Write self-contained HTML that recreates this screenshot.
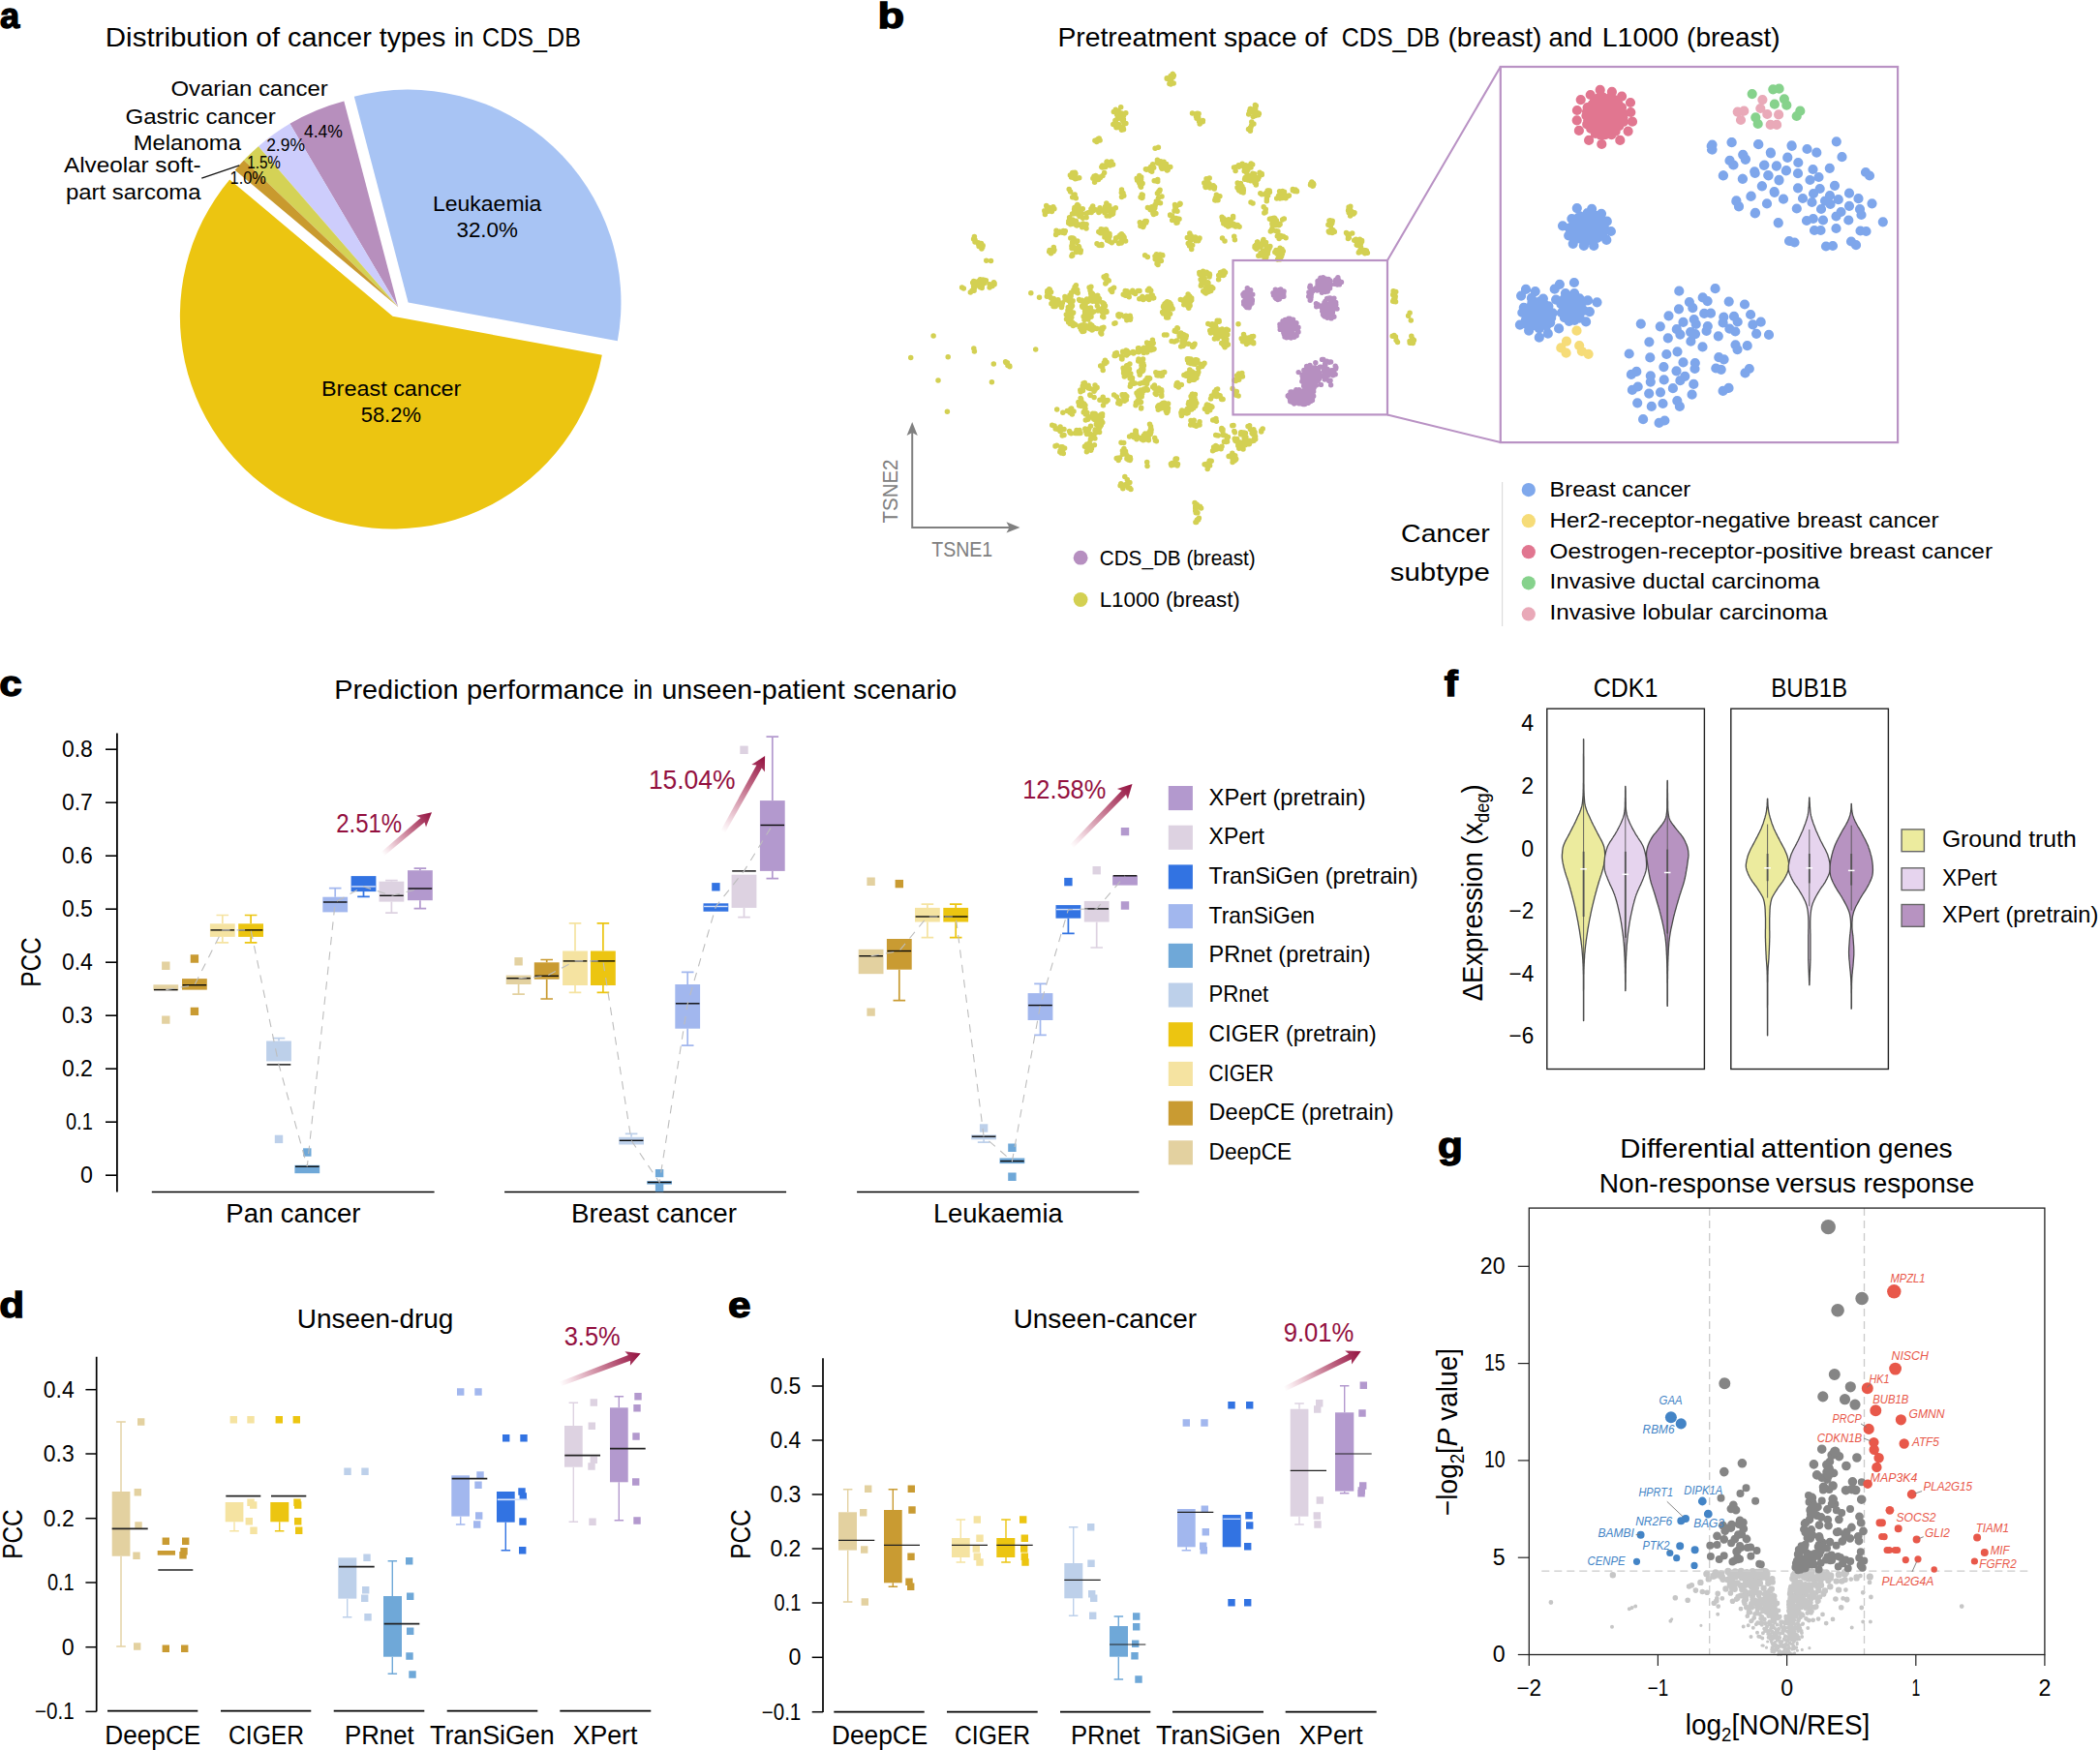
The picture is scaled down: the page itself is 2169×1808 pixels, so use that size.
<!DOCTYPE html>
<html lang="en"><head><meta charset="utf-8"><title>Figure</title>
<style>html,body{margin:0;padding:0;background:#fff}svg{display:block;font-family:'Liberation Sans', sans-serif}</style></head>
<body><svg width="2169" height="1808" viewBox="0 0 2169 1808">
<path d="M405.6 326.8L237.2 185.5A219.8 219.8 0 1 0 621.8 366.7Z" fill="#ECC511"/>
<path d="M421.6 312.4L637.8 352.3A219.8 219.8 0 0 0 365.8 99.8Z" fill="#A8C4F4"/>
<path d="M411.1 317.1L355.3 104.5A219.8 219.8 0 0 0 299.4 127.8Z" fill="#B78FBD"/>
<path d="M411.1 317.1L299.4 127.8A219.8 219.8 0 0 0 266.9 151.2Z" fill="#CDCDFC"/>
<path d="M411.1 317.1L266.9 151.2A219.8 219.8 0 0 0 251.9 165.5Z" fill="#D4D256"/>
<path d="M411.1 317.1L251.9 165.5A219.8 219.8 0 0 0 242.7 175.8Z" fill="#C99A2E"/>
<text x="0" y="29.2" font-size="37" textLength="20.2" lengthAdjust="spacingAndGlyphs" font-weight="bold" stroke="#000" stroke-width="1.3">a</text>
<text x="108.8" y="48.3" font-size="27.4" textLength="147.5" lengthAdjust="spacingAndGlyphs">Distribution</text>
<text x="264.2" y="48.3" font-size="27.4" textLength="24.9" lengthAdjust="spacingAndGlyphs">of</text>
<text x="297" y="48.3" font-size="27.4" textLength="86.8" lengthAdjust="spacingAndGlyphs">cancer</text>
<text x="391.7" y="48.3" font-size="27.4" textLength="68.6" lengthAdjust="spacingAndGlyphs">types</text>
<text x="469" y="48.3" font-size="27.4" textLength="20.5" lengthAdjust="spacingAndGlyphs">in</text>
<text x="498.1" y="48.3" font-size="27.4" textLength="101.9" lengthAdjust="spacingAndGlyphs">CDS_DB</text>
<text x="176.5" y="98.8" font-size="22.9" textLength="162.2" lengthAdjust="spacingAndGlyphs">Ovarian cancer</text>
<text x="129.4" y="128.3" font-size="22.9" textLength="155.4" lengthAdjust="spacingAndGlyphs">Gastric cancer</text>
<text x="137.7" y="154.7" font-size="22.9" textLength="111.3" lengthAdjust="spacingAndGlyphs">Melanoma</text>
<text x="66" y="178.4" font-size="22.9" textLength="141.5" lengthAdjust="spacingAndGlyphs">Alveolar soft-</text>
<text x="67.9" y="205.6" font-size="22.9" textLength="139.6" lengthAdjust="spacingAndGlyphs">part sarcoma</text>
<path d="M208.3 184.1L247.2 170.8" stroke="#111" stroke-width="1.3" fill="none" />
<text x="313.9" y="142.3" font-size="18" textLength="40" lengthAdjust="spacingAndGlyphs">4.4%</text>
<text x="275.2" y="156.4" font-size="18" textLength="39.7" lengthAdjust="spacingAndGlyphs">2.9%</text>
<text x="255.2" y="173.7" font-size="18" textLength="34.7" lengthAdjust="spacingAndGlyphs">1.5%</text>
<text x="237.6" y="190.3" font-size="18" textLength="37.3" lengthAdjust="spacingAndGlyphs">1.0%</text>
<text x="447" y="218" font-size="22.9" textLength="112.4" lengthAdjust="spacingAndGlyphs">Leukaemia</text>
<text x="471.5" y="245.2" font-size="22.9" textLength="63.4" lengthAdjust="spacingAndGlyphs">32.0%</text>
<text x="332" y="409.3" font-size="22.9" textLength="144.4" lengthAdjust="spacingAndGlyphs">Breast cancer</text>
<text x="372.7" y="436.4" font-size="22.9" textLength="62.2" lengthAdjust="spacingAndGlyphs">58.2%</text>
<text x="906.4" y="29.2" font-size="37" textLength="27.6" lengthAdjust="spacingAndGlyphs" font-weight="bold" stroke="#000" stroke-width="1.3">b</text>
<text x="1092.4" y="48.3" font-size="27.4" textLength="278.6" lengthAdjust="spacingAndGlyphs">Pretreatment space of</text>
<text x="1385.8" y="48.3" font-size="27.4" textLength="101.4" lengthAdjust="spacingAndGlyphs">CDS_DB</text>
<text x="1495.5" y="48.3" font-size="27.4" textLength="96.9" lengthAdjust="spacingAndGlyphs">(breast)</text>
<text x="1599.6" y="48.3" font-size="27.4" textLength="45.4" lengthAdjust="spacingAndGlyphs">and</text>
<text x="1654.8" y="48.3" font-size="27.4" textLength="79.1" lengthAdjust="spacingAndGlyphs">L1000</text>
<text x="1742.1" y="48.3" font-size="27.4" textLength="96.5" lengthAdjust="spacingAndGlyphs">(breast)</text>
<path d="M1207.9 86.5h0M1209.2 87.1h0M1209 85.5h0M1212.2 86h0M1209.7 82.8h0M1211.2 76.4h0M1210.7 77.4h0M1209.1 78.6h0M1208.9 84.7h0M1209.2 86.2h0M1209.7 84.2h0M1205.9 81.5h0M1206.9 81.2h0M1205.2 81.2h0M1205.2 80.8h0M1211.7 79.4h0M1211 79.1h0M1212.3 77.9h0M1211.3 76.6h0M1209.4 79h0M1162.8 116.7h0M1158.5 117.1h0M1160.4 123.2h0M1160 124.3h0M1160.1 125.4h0M1159.1 124h0M1158.5 121h0M1158 119.7h0M1157.2 117.5h0M1158.8 121.9h0M1151.9 126.5h0M1152.4 124.2h0M1151.9 124.6h0M1161.6 117.5h0M1160.7 119.1h0M1160 121.5h0M1158.8 131.1h0M1159.3 131.5h0M1160.5 133.7h0M1159.6 134h0M1150.6 128h0M1152.6 127.3h0M1151.3 128.7h0M1149.8 128.4h0M1152.4 129.9h0M1154.2 131.6h0M1155.5 128.8h0M1155.1 128.4h0M1153 131.8h0M1152.3 113.3h0M1150.3 115.6h0M1154.6 118.2h0M1155.2 122.3h0M1154.4 121.3h0M1154.9 120.9h0M1153.6 118.2h0M1156.5 120.7h0M1157 121.2h0M1162.9 127.6h0M1162 127.6h0M1161.5 126.9h0M1159.5 132.2h0M1158.5 134.3h0M1160.1 132.2h0M1157.2 132h0M1155.1 114.7h0M1157.7 110.7h0M1158 122.1h0M1158.3 121.5h0M1158.1 122h0M1237.1 117.3h0M1231.5 116.9h0M1235.4 120.3h0M1236 122.3h0M1237.8 121.8h0M1242.4 124.5h0M1239.7 126.6h0M1238.5 125.6h0M1239.2 128h0M1242.3 125.8h0M1237.8 118.1h0M1238.1 117.5h0M1237 119.3h0M1237.7 118.3h0M1235.7 117.4h0M1297.3 109.2h0M1296.4 108.4h0M1291.5 112.6h0M1294.4 115.1h0M1293.7 115.5h0M1291.7 113.1h0M1292.1 114.6h0M1291.3 112.4h0M1293 114h0M1299.8 118.7h0M1300 117h0M1300.4 117.5h0M1297.8 116.4h0M1296.9 116.6h0M1297.4 116.3h0M1298.8 116.5h0M1289.7 118h0M1293.7 115.1h0M1290.5 114.9h0M1292.6 129.7h0M1294.9 128h0M1292.8 125.9h0M1296.5 113.9h0M1294.1 112.8h0M1296.7 112.8h0M1296.8 118.9h0M1294.3 120.4h0M1296.7 119.4h0M1291.4 132.1h0M1289.5 133.5h0M1290.7 133.4h0M1291.5 133.9h0M1291.4 135.2h0M1291.8 131.9h0M1135.2 142.9h0M1132.7 146.5h0M1132.4 145.2h0M1130.9 145.2h0M1133.7 143.9h0M1136.1 145.1h0M1134.3 143.6h0M1196.4 152.2h0M1193.1 153.3h0M1143 167.4h0M1147.9 168.9h0M1143.3 166.9h0M1142.2 171.2h0M1141.6 172.1h0M1141.8 172.6h0M1138.6 173h0M1137.8 172.5h0M1138.7 170.9h0M1144 168.2h0M1146.5 170.9h0M1147.4 168.8h0M1149.6 170h0M1147.9 167.1h0M1129.9 182.4h0M1131.7 181.6h0M1132.4 182h0M1130.2 182h0M1128.9 184.2h0M1132.5 184.3h0M1132.4 185h0M1130.6 188.2h0M1132.4 185.7h0M1140.6 178.4h0M1139 181.5h0M1134 183.4h0M1136.5 183.6h0M1135.9 183.1h0M1134.6 185.5h0M1108.6 178.6h0M1110.9 179.4h0M1110 180.4h0M1110.3 178.3h0M1107.7 178.5h0M1111.8 184.5h0M1114.7 183.7h0M1110.5 184.7h0M1108.7 183.6h0M1106.5 183.1h0M1105.4 180.9h0M1108.8 182.1h0M1107.4 181.8h0M1106 180.7h0M1200.3 174.3h0M1200.1 174.3h0M1202.1 173.9h0M1202.3 173.8h0M1206.2 175.5h0M1205.5 176h0M1199.5 173.1h0M1202.7 170.6h0M1204.1 173h0M1199.1 169.9h0M1200.8 169.3h0M1201.1 170.1h0M1201 170.5h0M1199.1 169.7h0M1199.1 171.3h0M1201.6 170.4h0M1200.1 169.1h0M1199.3 169.2h0M1202.2 172.8h0M1200.6 170.8h0M1202 172.2h0M1200.3 167.2h0M1198.9 166.7h0M1202.1 167.3h0M1196 168.4h0M1195.7 166h0M1195.4 167.3h0M1195.4 165.3h0M1197.8 167.1h0M1203.9 171h0M1206.2 172.4h0M1204.6 169.6h0M1208.8 172.4h0M1188 174.7h0M1186.9 174.2h0M1189.7 177.3h0M1188.5 176.6h0M1188.7 172.3h0M1189.7 171.7h0M1191.7 173.3h0M1190.9 171.7h0M1190.7 169.8h0M1184.2 175.3h0M1187 175h0M1186.4 174.6h0M1183.4 174.7h0M1184.8 175h0M1178.5 193.2h0M1177.5 190.5h0M1177.8 192.1h0M1176.8 181.5h0M1176 183.7h0M1176.8 183.2h0M1178.6 185.4h0M1177 184.9h0M1178.7 183.1h0M1174.6 186.2h0M1174.2 184.3h0M1175.9 186.6h0M1177.6 187.7h0M1180.1 189.5h0M1179.4 190.3h0M1176.5 188.8h0M1194.9 187.2h0M1195.7 185.6h0M1195.7 187.5h0M1192.2 186.8h0M1194.6 186.7h0M1179.3 202.7h0M1178.1 203.8h0M1180 203.9h0M1179.5 204.4h0M1180.2 201.5h0M1179.7 201.9h0M1179.3 201h0M1196.4 204.7h0M1200 203.1h0M1196.9 197.7h0M1195.4 199.7h0M1198.1 196.2h0M1197.5 197.7h0M1279.7 172.3h0M1279.3 170.8h0M1281.1 171.2h0M1276.8 172.5h0M1283.1 169.2h0M1276.1 176.4h0M1274.5 173h0M1294.9 180.2h0M1294 180.9h0M1295.7 179.7h0M1294.7 180.5h0M1293.9 179.2h0M1287 185h0M1285.6 185.2h0M1286.2 183.6h0M1285.9 184h0M1288.9 185.9h0M1287.8 178.9h0M1289.2 181.2h0M1285.2 176.8h0M1287 171.6h0M1285 172.7h0M1286.7 170.7h0M1285.1 171.9h0M1291.7 186.7h0M1292.3 183.9h0M1291.3 185.6h0M1289.6 171.6h0M1291 170.8h0M1292 173h0M1290.2 171.4h0M1287.7 177.8h0M1288.8 175.5h0M1286.2 174.3h0M1295.4 182.6h0M1295.3 183.2h0M1294.1 182.4h0M1292.2 169h0M1292.2 169.8h0M1292.3 171.1h0M1293.7 170h0M1279.7 193h0M1278 193.7h0M1284.1 198.9h0M1284.3 196.8h0M1284.2 195.4h0M1279.5 192.7h0M1279.4 196.2h0M1278.6 194.5h0M1284 194.7h0M1282.9 192.6h0M1281.2 193.6h0M1281.2 192.4h0M1282.2 193.5h0M1281.9 198.2h0M1280 196.9h0M1280.6 197.3h0M1281.6 196.6h0M1281.4 189.5h0M1278.2 188.9h0M1303.2 179.5h0M1301.1 178.3h0M1303.3 180.6h0M1297.5 189.6h0M1297.3 190.9h0M1296 188.8h0M1295.9 185.5h0M1296.5 184.7h0M1296.7 185.3h0M1298.8 185.4h0M1299.9 183.2h0M1299.4 185h0M1300.2 183.1h0M1254.2 195h0M1250.7 193.3h0M1252.1 193.1h0M1249 189.7h0M1248.5 191.4h0M1249.2 193.4h0M1249.8 194h0M1249 192h0M1247.3 191.5h0M1247 192.1h0M1243.8 188.9h0M1246.2 188.5h0M1247.5 187.2h0M1245.6 188.2h0M1246.9 190h0M1249.2 184.1h0M1246 184.8h0M1254.5 193.2h0M1253.2 191.8h0M1253.8 193.3h0M1254.2 193h0M1247.4 190.8h0M1247.6 190.4h0M1244.9 192.8h0M1245.3 193.5h0M1246.9 189.5h0M1254.8 206.8h0M1255.3 206.9h0M1255.5 204.6h0M1259.9 202.8h0M1258 206.8h0M1256.4 201.2h0M1303.1 200.8h0M1306.3 200.7h0M1301.8 199.7h0M1311.4 198.4h0M1310.9 198.2h0M1311.2 196.9h0M1309.2 197h0M1310.1 196.9h0M1307 200.8h0M1309.7 202h0M1307.1 200.5h0M1307.9 199.6h0M1308.3 207.8h0M1308.4 205.4h0M1309.6 199.3h0M1307.9 199.2h0M1320.6 202.2h0M1324.7 204.5h0M1325.6 203.3h0M1323 200.9h0M1323 198.5h0M1323.2 198.6h0M1321.6 197.7h0M1324.7 197.5h0M1326.5 198.2h0M1325.9 201.5h0M1322.3 198.9h0M1324.4 201.7h0M1322.2 200.7h0M1324.1 203.2h0M1324.1 203.9h0M1326.8 200.7h0M1328 204.8h0M1331.4 202.1h0M1330.4 202.4h0M1331.2 202.3h0M1320.6 203.1h0M1318.7 204.9h0M1322.8 203.7h0M1319.7 204.4h0M1322 205h0M1337.1 197.4h0M1339.4 197.3h0M1338.2 196.5h0M1339.5 197.8h0M1335.3 196.8h0M1335.3 195.6h0M1337.1 197.4h0M1338 197.3h0M1338.1 196.1h0M1355 189.5h0M1354.9 188h0M1353.8 189.8h0M1353.5 191.1h0M1356.8 190.4h0M1356.2 192h0M1355.7 190.4h0M1355.3 191.3h0M1356.4 189.4h0M1355.8 192.3h0M1294 210.1h0M1292 209.1h0M1305.2 213.7h0M1307.1 219.3h0M1305.8 220h0M1307.3 216.2h0M1307 216.4h0M1087.8 213.8h0M1088.1 214.5h0M1088.9 215.7h0M1088.4 215.9h0M1085.8 216.9h0M1084.6 216.3h0M1084.2 215.1h0M1080.5 218h0M1087 215.2h0M1086.6 214.8h0M1079.2 219.1h0M1079.4 221.6h0M1078.8 217.8h0M1079.5 219.4h0M1083.8 214.6h0M1080.7 212.5h0M1080.8 213.1h0M1084.4 217.6h0M1086.4 218.4h0M1082.8 218.2h0M1105.6 198.1h0M1104.2 195.5h0M1107.7 203.8h0M1109.2 201.2h0M1110.1 202.3h0M1110.1 200.9h0M1109.8 203.3h0M1110.2 203.7h0M1111.3 204.8h0M1114 217h0M1114.5 220h0M1112.3 221h0M1114.3 220.2h0M1109.4 220.8h0M1109.6 216.2h0M1107.5 221.1h0M1109.4 219.6h0M1112.1 212.5h0M1114 212.7h0M1112.8 211.5h0M1116.4 220.3h0M1116 221.3h0M1114.2 220.4h0M1117.6 220.8h0M1116.3 220.9h0M1115 223.5h0M1114.6 218.4h0M1113.9 219.7h0M1118.3 215.7h0M1110 217.4h0M1111.1 217.7h0M1109.9 214.5h0M1111.1 217.6h0M1129.7 216.3h0M1131.8 216.8h0M1128.6 215.5h0M1129.4 217.5h0M1126.9 216.1h0M1123.8 219.7h0M1122.2 220.5h0M1127.2 219.6h0M1128.7 213h0M1127.9 214.5h0M1148.5 217.9h0M1149.9 218.3h0M1149.2 216.3h0M1152.3 214.8h0M1149.6 220.8h0M1146.9 221.3h0M1144 217.6h0M1146.9 217.2h0M1145.3 217.8h0M1145.9 223.1h0M1143.1 222.9h0M1142.8 210.1h0M1145.7 212.5h0M1141.6 213.4h0M1141.9 214.3h0M1142.5 217.5h0M1141.3 217.5h0M1139.5 217.6h0M1141 219.7h0M1147.7 220.7h0M1148.6 221.6h0M1147.7 221h0M1148.5 218.8h0M1148.8 220.7h0M1158.5 196h0M1158.3 198.9h0M1160 199.5h0M1158.5 203.4h0M1158.7 203.3h0M1160.8 202.2h0M1135.2 218.2h0M1136.1 214.8h0M1134.7 216.7h0M1135.9 218.6h0M1138.5 217.2h0M1134.9 219.4h0M1137.1 216.6h0M1134.9 217.6h0M1108 227h0M1103.8 228.5h0M1104.6 224.7h0M1104.7 226.7h0M1106 228.6h0M1112.2 232.9h0M1108.9 231.1h0M1106.7 231.5h0M1108.1 230.8h0M1110.2 231.5h0M1105.3 230.5h0M1103.7 230.4h0M1105.6 231.8h0M1111.5 230.6h0M1110.8 229.1h0M1111.3 228.2h0M1111.6 230h0M1109.5 228.6h0M1090.6 242.4h0M1093.6 240.5h0M1091 241.2h0M1099.4 240.7h0M1100.3 238.8h0M1097.3 240.2h0M1098.3 238.5h0M1091 238.3h0M1094.6 239.3h0M1117.7 234.8h0M1119 234h0M1122 236h0M1117.3 231.9h0M1118.7 231.1h0M1113.4 231.7h0M1115.5 232.5h0M1122.1 231.7h0M1120.8 233h0M1118.4 225.3h0M1122.1 224.7h0M1111.6 232.1h0M1111.4 232.4h0M1111.9 231.3h0M1109.1 246.5h0M1108.3 245.9h0M1109.5 250h0M1109.1 248.4h0M1107.6 250.6h0M1111.6 250.2h0M1112.9 248.9h0M1105.8 246.1h0M1107.3 246.1h0M1106.6 246h0M1139.6 237.2h0M1143 238.4h0M1141.6 238.2h0M1142.3 237h0M1148.3 250.8h0M1145.9 249.3h0M1136.6 240.8h0M1136.5 240.3h0M1134.8 239.6h0M1141.9 244.7h0M1141.7 243.6h0M1140.9 245.1h0M1142.4 244.3h0M1144.4 244.4h0M1136.6 238.8h0M1137.3 238.2h0M1137.1 239.2h0M1137.2 236.7h0M1138.3 238.6h0M1143.1 242h0M1145.3 245.8h0M1146.1 243.9h0M1146 241.8h0M1145.9 241.5h0M1133 251.8h0M1137.8 252.6h0M1134.7 253.1h0M1135.3 253.5h0M1138 253.5h0M1139.1 241h0M1142 244.1h0M1143.6 248.3h0M1158.4 241.7h0M1160 243.6h0M1159.2 243.3h0M1161.1 245.3h0M1158.5 245h0M1157.7 249.8h0M1158.3 250.8h0M1162.6 249.1h0M1158.2 251.1h0M1159.4 248.2h0M1157.8 243.1h0M1154.8 244.9h0M1156.8 242.9h0M1157.7 243.8h0M1152.5 245.9h0M1152.1 248.4h0M1155.6 251.6h0M1085.1 258.7h0M1085.5 261.7h0M1084.1 258.6h0M1083.7 259.9h0M1084.1 259.1h0M1088.1 259.8h0M1088.3 255.4h0M1088.9 258.2h0M1116 260.8h0M1116.3 258.7h0M1113.4 256.3h0M1107.7 263.9h0M1107.7 262.8h0M1106.9 264.4h0M1107 256.4h0M1107.6 255.5h0M1107.3 253.1h0M1108.9 255.2h0M1111.6 256.6h0M1110 256.9h0M1106.9 254.2h0M1111.3 258.3h0M1111.5 258.1h0M1113.4 258.1h0M1111.8 260.6h0M1111.6 259.5h0M1114.6 255.4h0M1114.1 254.6h0M1191.5 221.6h0M1193.9 220.6h0M1190.9 220.3h0M1192.2 219.4h0M1191.9 216.8h0M1190.5 215h0M1189.6 213.7h0M1193.5 211.8h0M1193.1 211.6h0M1194.3 208h0M1192.8 214.7h0M1190.6 215.1h0M1196.7 208.9h0M1198.5 209.7h0M1195.1 209.5h0M1188 215.6h0M1188.2 216.7h0M1185.4 214.4h0M1184.2 228.5h0M1182.8 228.5h0M1180.6 234.4h0M1181.2 233.2h0M1177.9 233.5h0M1180.6 233.1h0M1180.1 233.6h0M1181 230.8h0M1177.3 229.8h0M1180 230.9h0M1183.7 230.1h0M1182.6 228.8h0M1180.7 233.4h0M1181.8 231.4h0M1213.5 211.6h0M1213.8 213.5h0M1214.9 213.6h0M1214.2 214.9h0M1216 218.2h0M1214.5 216h0M1214.2 215.1h0M1213.1 217.6h0M1213 217.9h0M1219.1 210.5h0M1218.8 210.3h0M1218.5 211.3h0M1216.3 225.9h0M1218 226.2h0M1216.1 229.3h0M1216 229.9h0M1215 230.2h0M1208.7 222.5h0M1210.7 222.9h0M1208.6 221.9h0M1213.8 226.4h0M1210.7 227.5h0M1214.9 225.5h0M1264.2 227.3h0M1262.7 227.5h0M1268.9 230.2h0M1268.5 233.9h0M1270.2 230h0M1268.9 231.4h0M1263.9 225.7h0M1262.1 224.2h0M1262.6 226.3h0M1273.6 223.5h0M1269 226.7h0M1273.6 225h0M1271.2 227.3h0M1268.9 229.3h0M1267.7 230.6h0M1264.4 228.4h0M1266.2 232.5h0M1263.8 230.9h0M1272.3 232h0M1273.4 231.1h0M1272.8 232.8h0M1269.1 233.8h0M1276.5 234.1h0M1275.2 232.9h0M1276.1 232.3h0M1272.4 231h0M1271.6 232.5h0M1272.1 232.5h0M1276.1 234.1h0M1278.3 232.6h0M1280.1 234.3h0M1265 248.9h0M1262.5 246h0M1274.7 244.2h0M1275.4 247.8h0M1317.8 228.2h0M1318.3 227.7h0M1316.3 225.9h0M1316.8 226.7h0M1316.3 227.6h0M1321 232.7h0M1322.1 231.7h0M1316.8 227.7h0M1316.3 225.3h0M1316.8 225.8h0M1325.7 226.3h0M1326.3 226h0M1324.6 226.9h0M1314.7 225.6h0M1312.2 226.1h0M1311.4 226.2h0M1313.6 226.3h0M1317.8 232.8h0M1320.1 231.6h0M1319.5 230.4h0M1317.1 231.7h0M1313.3 237.8h0M1312.3 238.9h0M1314.7 238h0M1313.9 236.2h0M1314 231.7h0M1313.9 230.8h0M1320.1 242.8h0M1319.9 239h0M1318.2 238.7h0M1321.1 243.7h0M1322.9 243.6h0M1324.1 244.4h0M1321.8 244.8h0M1319.3 243.9h0M1321.1 246.5h0M1325.5 244.2h0M1328.1 245.8h0M1395.1 219.4h0M1394.6 221.7h0M1393.2 219.7h0M1392.6 217.5h0M1394.6 216.7h0M1395.9 219h0M1396 218.4h0M1399 219.7h0M1394.6 223.1h0M1397.7 219.9h0M1398 220.9h0M1394.6 221.4h0M1393.1 214h0M1393 215.7h0M1394.8 213.3h0M1376.4 239.1h0M1376 240.4h0M1372.9 239.9h0M1372.3 239.1h0M1374.3 238.8h0M1372.6 232.5h0M1373.7 232.6h0M1374.4 233.6h0M1371.9 232.2h0M1375.3 237.1h0M1374.5 228.3h0M1373 228.1h0M1373.8 227.7h0M1375.2 231h0M1376 229.2h0M1376.2 228.2h0M1375.7 230.7h0M1376.5 237.6h0M1378 238.9h0M1378.3 239.4h0M1376.9 239.7h0M1375 239.8h0M1392.8 241.8h0M1392.5 244.2h0M1392.8 241.7h0M1393.3 242.6h0M1391.8 242h0M1390.9 241h0M1390.5 240.4h0M1396.7 240.9h0M1392.4 246.6h0M1393.3 245.5h0M1404.5 247.2h0M1406.6 249.4h0M1406.6 248.5h0M1400.4 247.2h0M1398.7 248.3h0M1405.5 255.3h0M1405.5 251.8h0M1403.4 253h0M1402.1 253.5h0M1402.5 250.1h0M1401.2 253h0M1405.6 256.6h0M1408.9 258.4h0M1409.8 261.7h0M1407.1 259.8h0M1409.2 260.9h0M1411.3 259.1h0M1410.9 259.1h0M1412.4 261.3h0M1403.3 261h0M1405.2 260.2h0M1404.2 259.5h0M1307.6 264h0M1309.3 262.3h0M1309.6 254.8h0M1311.9 254.6h0M1303.7 263.3h0M1305.9 263.4h0M1306.5 261.4h0M1304.8 263.6h0M1302 261.6h0M1305.3 259.2h0M1306.1 260.2h0M1306.1 260.9h0M1304.3 258.8h0M1297.4 253.1h0M1296.7 256.2h0M1301.3 255.1h0M1299 252.4h0M1296 255.4h0M1297.7 257.2h0M1298.1 256.9h0M1308.7 258.4h0M1311 256.5h0M1308.8 258h0M1309.7 257.6h0M1309.8 259.2h0M1306.9 251.7h0M1308.3 254.9h0M1308.8 255h0M1307.6 250.6h0M1303.3 262.4h0M1302 264.1h0M1299.8 264.3h0M1301.8 262.9h0M1301.8 253.6h0M1300.9 252h0M1303.7 253.4h0M1296.1 254.3h0M1298.2 254.6h0M1298 252.8h0M1304.6 248.4h0M1304.7 249.2h0M1305 247.5h0M1307.9 265.8h0M1306.1 266.5h0M1298.6 249.9h0M1299.2 251.4h0M1299.6 252.9h0M1298.9 250.1h0M1324.5 258.8h0M1323.5 260.6h0M1323.3 261.1h0M1320.7 262.9h0M1322.9 262.4h0M1320.3 260.9h0M1320.5 263.1h0M1316.8 260.6h0M1319 262.3h0M1322.8 263h0M1323.6 264.7h0M1324.4 262.3h0M1325.3 259.5h0M1322.1 256.2h0M1324.1 257.5h0M1320.6 264.7h0M1319.6 267.9h0M1322.4 267.7h0M1322 267.6h0M1322.7 258.7h0M1320.2 259h0M1318 258.4h0M1229.7 244h0M1226.3 245.5h0M1230.7 247.6h0M1230.8 245.9h0M1228.8 241h0M1230.7 257.4h0M1228.6 254h0M1230.5 253.6h0M1231.7 253.4h0M1239 246.1h0M1238.5 246.7h0M1236.5 246.5h0M1235 248.7h0M1234.9 246.9h0M1234.9 246.9h0M1237.6 248.8h0M1234.5 244.9h0M1228.2 252.3h0M1228.7 252.4h0M1228.9 250.6h0M1227.2 251.4h0M1227.3 245.2h0M1228.1 245.9h0M1230.1 243.6h0M1230.2 244.9h0M1193 264.7h0M1194.3 263.9h0M1194.5 262.8h0M1196.1 266h0M1196.8 263.6h0M1195.5 265h0M1200.6 263.4h0M1198.8 263.4h0M1198.4 264.7h0M1195 272.6h0M1196 273.6h0M1198.2 263h0M1200.8 263.9h0M1193.2 267.8h0M1195.2 270.3h0M1198.5 269.5h0M1199.4 269.5h0M1185.3 265.5h0M1182.6 263.8h0M1010.5 250.8h0M1010.7 252.5h0M1010.9 251.4h0M1007 249.9h0M1013.9 257.1h0M1014.8 255.6h0M1015.2 253.7h0M1006.4 244.4h0M1005.6 247.1h0M1007.1 248h0M1011.3 254.4h0M1013.5 253.1h0M1011.4 252.2h0M1011.1 254.4h0M1011.1 253h0M1012.1 253.2h0M1011 253.5h0M1013.5 251.5h0M1011 253h0M1011.8 252.2h0M1018.7 269.3h0M1023.5 269.4h0M1006 291.9h0M1008.4 292.8h0M1007.3 293.2h0M1004.7 292h0M1008 292.5h0M1007.3 292.8h0M1005.4 291.6h0M1007.9 291.3h0M1010.8 290.5h0M1017.3 289.6h0M1018.4 289.8h0M1016.7 292.4h0M1015.1 289h0M1017.4 289.8h0M1006.1 300.3h0M1004.8 299.8h0M1012.5 296.7h0M1014.5 295.3h0M1014.2 297.5h0M1010.3 294.2h0M1012.3 293.4h0M1009.9 292.1h0M1013.7 292.6h0M1005.4 292.8h0M1005.5 293.6h0M1004.9 292.6h0M1005.7 290.4h0M1006.2 291.6h0M1012.4 288.8h0M1010.5 291.2h0M1007.1 296.3h0M1006.9 295.8h0M1005.6 296.1h0M1006.2 298.6h0M1006.3 296.9h0M1025 295.6h0M1024.8 295.4h0M1025.2 294.5h0M1022.1 297.1h0M1023.9 293.8h0M1022.1 293.8h0M1022.3 294.2h0M1026.5 291.8h0M1027.1 292.7h0M1027.1 293.7h0M993.6 297h0M995.3 298h0M1002.3 302h0M1004 300.3h0M1064.8 302.8h0M1073.5 307.3h0M1084.3 299.2h0M1083.7 298.8h0M1083.4 303.7h0M1081.3 306.2h0M1081.8 305h0M1081.8 300.6h0M1084.1 302.5h0M1081.7 302h0M1083.1 299.9h0M1082.7 302.7h0M1084 305h0M1083.1 304.6h0M1085.6 301.7h0M1088 314.6h0M1088 316.5h0M1085.9 313.7h0M1087.2 313.9h0M1087.8 312.8h0M1093.1 311h0M1093.8 313.5h0M1092.8 309.7h0M1091.6 312.4h0M1088.6 316.3h0M1089.4 315.7h0M1090.1 316.4h0M1091.5 315h0M1088.3 308.5h0M1085.1 307.5h0M1087 310.7h0M1109 301h0M1110 299h0M1110.3 300.3h0M1105 305.1h0M1106.6 302.2h0M1106.1 305.9h0M1104.6 307.4h0M1106.2 304.3h0M1113.2 302.7h0M1112 302h0M1112.7 299.4h0M1108.9 299.5h0M1111.4 294.7h0M1110.1 296.4h0M1126.9 296.2h0M1125.1 296.9h0M1126.6 302.9h0M1127.3 304.6h0M1126 300h0M1127.9 302.9h0M1128.7 303.9h0M1142.7 287h0M1144.6 289.4h0M1145.2 290.1h0M1143.9 289.3h0M1140.1 285.9h0M1142.7 284.8h0M1141.1 287.2h0M1142.4 292.3h0M1141.8 293.1h0M1107.5 315.9h0M1104.5 317.7h0M1106.5 317.4h0M1096.4 317.5h0M1095.1 313.7h0M1097.3 313.1h0M1096.8 315.5h0M1107.1 312.4h0M1107.9 311h0M1108.1 310.8h0M1106.5 313.4h0M1106.9 312.7h0M1101.3 309.8h0M1100.1 309.1h0M1099.9 306.5h0M1104.3 311h0M1105.7 313h0M1103.3 317.5h0M1105.4 320h0M1102.9 320.7h0M1120.8 316.9h0M1119.1 312.9h0M1121.1 314h0M1117.6 310.2h0M1114.6 309.5h0M1115.4 310.4h0M1118 317.2h0M1117.6 316.3h0M1123.6 311.6h0M1124 310.4h0M1125.3 310.7h0M1122.6 309.1h0M1125.5 310.1h0M1138.7 312.8h0M1139.4 313h0M1133.5 311.9h0M1134 310.6h0M1133.5 310.9h0M1133.3 315.9h0M1129.1 308.8h0M1131.1 311.3h0M1128.6 311.2h0M1129.3 310.8h0M1131.2 309.5h0M1126.8 306.7h0M1128 306.3h0M1130.5 306.1h0M1128.5 306.6h0M1129.7 305.3h0M1132.5 305.8h0M1130.6 305.7h0M1130.2 307.7h0M1130.4 306.9h0M1134.9 308.8h0M1134.6 307.8h0M1135.5 308.8h0M1133.7 305.3h0M1148.8 298.4h0M1150.6 297.3h0M1148 299.1h0M1147 299.6h0M1148.7 300.6h0M1148.2 299.5h0M1148.6 299.3h0M1148.6 301.5h0M1148.1 300.8h0M1162.3 305.2h0M1164.5 305.5h0M1166.2 306.7h0M1160.2 304.2h0M1164.1 302h0M1162.2 300.6h0M1165.7 302.8h0M1164 300.7h0M1175.3 300.5h0M1177 300.5h0M1172.2 302.9h0M1172.6 303.5h0M1171 302.5h0M1169.8 300.2h0M1167.6 302h0M1170.2 301.3h0M1166 302.9h0M1186.8 309.6h0M1185.1 306.6h0M1179.9 306.4h0M1176.8 308.8h0M1179.8 306.6h0M1180.7 309.5h0M1183.8 308.1h0M1180.9 309.4h0M1190.2 305h0M1189 304.9h0M1191.7 307.7h0M1191.2 307.9h0M1187.6 300.1h0M1185.4 300.1h0M1188.4 299.9h0M1188.7 300.2h0M1186.9 298.3h0M1105.1 327.9h0M1106.8 327.7h0M1103.6 327.2h0M1101.5 329.8h0M1106 332.3h0M1106 334.3h0M1107.3 332.7h0M1105.2 334.4h0M1110.7 335.5h0M1108.4 336.6h0M1109.3 334.6h0M1109.4 335.3h0M1108.6 323h0M1104.1 323.8h0M1108.2 323.6h0M1103.7 332.9h0M1106.1 334.8h0M1103.5 331.4h0M1101.3 325.1h0M1102.7 325.3h0M1104.9 325.3h0M1128.9 321.7h0M1128.3 323h0M1129.6 322h0M1123.9 330.1h0M1119.1 326.9h0M1120.6 327.1h0M1120 330.5h0M1122.9 329.4h0M1121.3 322.3h0M1120.6 324h0M1120.5 321.6h0M1125.5 324.8h0M1124.4 326h0M1123.5 326.2h0M1120.7 324h0M1121.8 321.3h0M1126.5 318.1h0M1123.5 318.5h0M1124.1 320.1h0M1124.3 326.7h0M1125.5 324.1h0M1127 327.3h0M1142.8 321.4h0M1143 322.3h0M1141.9 320.9h0M1140.9 322.6h0M1135.6 318.9h0M1134 321h0M1137.2 320.9h0M1139.8 327.8h0M1138.7 326.9h0M1140.4 313.9h0M1141.5 316.1h0M1139.6 317.7h0M1139.8 315.9h0M1139.7 320.7h0M1139 320.1h0M1138.6 322.6h0M1137.3 321h0M1140.9 322.9h0M1154.9 325.3h0M1156 326.1h0M1155 326.3h0M1155.9 326.9h0M1155.8 325.9h0M1157 325.5h0M1157.9 325.2h0M1155.6 324.7h0M1161.3 327h0M1163 326.3h0M1163.8 330.7h0M1165.1 330h0M1165 329.6h0M1164.4 327.8h0M1167.2 326.3h0M1167.4 330.2h0M1167.7 328.4h0M1125 339.2h0M1129.1 340h0M1130 339.4h0M1121.6 338h0M1119.2 339.5h0M1119.2 337.4h0M1118.5 337.3h0M1127.9 340.9h0M1128.7 340.5h0M1125.7 339.8h0M1119.9 340.8h0M1119.8 342h0M1116.9 338.7h0M1119.9 341.3h0M1119.5 342.2h0M1117.9 342.6h0M1115.3 337.9h0M1117.3 339h0M1117.2 340.1h0M1116.6 340.5h0M1125.1 337.2h0M1127.8 336.2h0M1125.7 335.8h0M1126.2 335.1h0M1125.4 336.4h0M1118.6 336.8h0M1118.3 337.4h0M1117.3 335.9h0M1119.9 336.3h0M1115.4 336.8h0M1117.6 336.4h0M1120.8 336.1h0M1119.8 335.6h0M1128 338.2h0M1132.9 339.6h0M1129.7 338.3h0M1138.5 339.6h0M1138.6 339.1h0M1138.7 340h0M1139.9 338.2h0M1136.8 343.7h0M1137.6 344.5h0M1137.7 345.1h0M1137.8 339h0M1137.6 339.4h0M1137.9 341.2h0M1150.9 334.2h0M1152 333.8h0M1210.3 317.7h0M1206.9 318.7h0M1211.2 319h0M1209 318h0M1208.5 318.9h0M1208.6 324.2h0M1206.9 322.4h0M1205.1 323.5h0M1203 314h0M1202 315.8h0M1201.7 316.6h0M1201.5 317h0M1206.6 315.6h0M1208.9 313.8h0M1207.5 315.6h0M1207.6 312.5h0M1206.9 314.7h0M1207.6 313.2h0M1204.1 313h0M1205.5 311.8h0M1205.2 313.4h0M1209.7 315.7h0M1203.1 321.8h0M1202.5 319.2h0M1205.5 323h0M1203.5 321.9h0M1205.6 324.8h0M1206.7 324.6h0M1206.4 325.8h0M1205.4 326.7h0M1206.6 327.9h0M1204.7 327.9h0M1201.6 324.1h0M1201.9 322h0M1200.6 322.4h0M1243.3 286.7h0M1244.1 288.2h0M1244 292.8h0M1242.1 292h0M1242.9 292.3h0M1240.1 288.8h0M1241.8 289.6h0M1242.8 287.7h0M1241.5 289.3h0M1241.5 289.4h0M1242.6 289.2h0M1242 289.1h0M1240.9 289.9h0M1240.4 281.8h0M1238.9 283h0M1239.3 283.5h0M1238.8 281.5h0M1242.3 284.4h0M1245.9 282.2h0M1242.6 280.2h0M1243 280.4h0M1240.8 293.8h0M1240.3 295.2h0M1240.8 294.6h0M1240.5 289.1h0M1243.2 284.5h0M1241.2 288h0M1247.6 291.8h0M1248 292.6h0M1246.9 293.4h0M1246.3 281.2h0M1249.1 286.1h0M1249.5 283.9h0M1248.3 283.7h0M1249.2 282.9h0M1243.4 288.4h0M1242.9 289.2h0M1242.4 286.5h0M1243.2 291.5h0M1243 290h0M1229.1 315.8h0M1227.8 318.3h0M1227.8 317.3h0M1226.8 316.2h0M1223.6 309.2h0M1222 309.9h0M1225.2 307.8h0M1222.5 311.1h0M1225 309.5h0M1222.9 311.5h0M1227.4 312.6h0M1222.8 314.8h0M1227.5 308.9h0M1230.7 309.9h0M1229.5 311.6h0M1225.3 313h0M1222.2 310.8h0M1219.3 309.6h0M1223.8 311.2h0M1228.1 310.2h0M1230.7 307.9h0M1228.8 310.2h0M1228.7 305.9h0M1229.6 307.3h0M1227.1 303.9h0M1244.6 301h0M1245.9 301.4h0M1249.4 300.1h0M1245.5 303.1h0M1246.8 301.9h0M1248.1 298.4h0M1247.2 300.3h0M1248.7 301.2h0M1251.4 296.6h0M1251.5 298.2h0M1251.3 297.2h0M1250.7 300.4h0M1246.2 300.3h0M1247.9 299.3h0M1245.2 297.9h0M1251.3 298.3h0M1248.2 298.2h0M1251.2 299h0M1252.8 297.8h0M1242.7 300.8h0M1244.1 302h0M1243.9 301.5h0M1258.6 288.8h0M1258.7 284.4h0M1261.3 281.3h0M1260.5 281.5h0M1261 283h0M1262.2 282.3h0M1263.2 281.7h0M1263.1 284.3h0M1264 280.1h0M1265.5 281.5h0M1264.1 283.9h0M1262.5 282.9h0M1263.4 284.4h0M1261.5 283.3h0M1260.3 284.4h0M1252 334.8h0M1250.7 335.7h0M1247.8 334.6h0M1250.4 342h0M1249.7 341.5h0M1250.5 343.9h0M1251 342.3h0M1250.3 343.3h0M1253.7 340.2h0M1254.5 341.1h0M1254.1 341.9h0M1253.5 343.2h0M1259.1 331.3h0M1259.2 332.2h0M1257.2 331.3h0M1262.3 339.9h0M1260.7 340.4h0M1258.1 342.6h0M1259.2 344.5h0M1257.6 349.7h0M1255.9 347.8h0M1254.4 350h0M1267.8 345.8h0M1264.6 344.1h0M1263.4 345.3h0M1268.4 341h0M1266.3 343.2h0M1266.9 340.3h0M1265.1 343.8h0M1266 343.1h0M1257 343.1h0M1259.6 344.8h0M1260.2 345.1h0M1255.5 344.9h0M1255.2 344.6h0M1256.9 347h0M1257.1 346.7h0M1256.9 347.1h0M1255.5 334.8h0M1255 334.8h0M1252.2 337.8h0M1253.5 341.3h0M1255.2 338.3h0M1256 338.3h0M1255.5 339.9h0M1264.2 350.6h0M1260.8 347.3h0M1261.7 354.5h0M1264 356.8h0M1263.4 356.1h0M1265.5 356.4h0M1265.6 356.4h0M1266.3 356.7h0M1264.3 357h0M1265.1 358.7h0M1266.2 352h0M1266.8 353.2h0M1265.9 349.8h0M1266.9 350.5h0M1264.5 351.8h0M1268.4 355.9h0M1264.6 354.8h0M1266.3 356.9h0M1267.3 356.8h0M1265.7 357.4h0M1215.9 339h0M1216.4 339.2h0M1215.9 338.7h0M1213.6 341.9h0M1214.7 342.5h0M1213.2 342.1h0M1213.6 341.3h0M1219.9 346.4h0M1218.2 347.5h0M1219.6 345.8h0M1218.1 346.7h0M1220.6 345.7h0M1222.7 345.8h0M1219.8 343.9h0M1224.1 348h0M1220 347.3h0M1222.1 348.2h0M1225.3 347h0M1223.5 347.4h0M1222.9 345.9h0M1223.4 348h0M1223.1 347.5h0M1224.8 349.2h0M1222.8 350.5h0M1222.8 350.3h0M1210.1 352.4h0M1212.9 352.9h0M1215.3 352h0M1221.8 357.6h0M1221.9 356.5h0M1222.6 356.6h0M1220.9 352.2h0M1219.7 357.9h0M1222.1 356.4h0M1221.2 354.5h0M1227.6 355.3h0M1225 355h0M1222.8 353.4h0M1223.4 352.8h0M1233.7 356.3h0M1234 355.3h0M1232.3 356.5h0M1231.6 358.2h0M1231.5 356.7h0M1232.5 357.8h0M1232.3 358.3h0M1205 346h0M1202.5 345.9h0M1284.5 345.5h0M1285.2 348.1h0M1288.2 353h0M1288.5 353.8h0M1288.8 354.5h0M1294.7 354.7h0M1292.3 352.9h0M1293.2 354.1h0M1294.6 353.8h0M1283.8 352.3h0M1282.2 349.8h0M1286.5 348.9h0M1283.5 352.7h0M1285.4 351.9h0M1290.5 348.8h0M1289.8 349.1h0M1290.4 350.5h0M1288.7 352.4h0M1288.4 354.2h0M1288.7 352.1h0M1292.9 349.4h0M1294.6 347.5h0M1292.6 350.2h0M1292.7 347.8h0M1287.4 355.1h0M1287.5 355.5h0M1289.5 350.6h0M1288.3 349.6h0M1288.2 351.9h0M1291.8 348.7h0M1292.5 349.4h0M1291.6 348.9h0M1279 334.8h0M1440.9 307.9h0M1441.2 306.2h0M1439.2 305.2h0M1440.4 305.3h0M1438.7 304.5h0M1441.5 311.7h0M1439.9 310.7h0M1439.8 311.4h0M1439.4 309.8h0M1438.7 311.3h0M1439.1 303h0M1441.7 301.6h0M1439.1 300.8h0M1439.3 303.8h0M1439.2 302.5h0M1454.6 326.2h0M1456.1 323.3h0M1457.3 331.1h0M1442.1 351.6h0M1443.5 353.5h0M1439.9 346.4h0M1438.2 347.3h0M1441.4 348h0M1456 352.5h0M1458.4 349.4h0M1457.8 347.2h0M1458.7 350h0M1459.9 351.1h0M1460.4 351.4h0M1459.5 353.9h0M1456.2 354.2h0M1457.9 354.2h0M1456.7 354.2h0M1459.3 354.6h0M964.1 346.9h0M940.7 369.5h0M979.2 368.8h0M1005.8 360.1h0M1006.4 363h0M1026.3 375.9h0M1038.6 373.7h0M1040.4 374.7h0M1038.9 374.6h0M1042.9 378.7h0M1042.7 378h0M1040.9 377.4h0M1069.7 360.9h0M969 392.9h0M1024.4 394.8h0M978.4 425.3h0M1183.7 360.5h0M1182.3 361.4h0M1181.6 359.3h0M1185.6 357.8h0M1180.7 361h0M1186.3 358.3h0M1187.6 357.4h0M1188.6 360.2h0M1191 361.1h0M1188.9 361.8h0M1190.6 359.4h0M1191.3 361h0M1192 360.4h0M1184.6 353.9h0M1186.2 355.7h0M1183.2 362.5h0M1184.9 363.6h0M1184.7 363.9h0M1184 363.3h0M1181.3 364.5h0M1191.2 354.4h0M1189.7 354.4h0M1188.2 354.4h0M1190.4 351.3h0M1163.7 366.9h0M1165.2 365.4h0M1163.4 364.9h0M1164.7 363.2h0M1163 361.9h0M1162.5 363.8h0M1163.8 362.2h0M1159.6 363.3h0M1151.1 367.4h0M1153.3 364.6h0M1151.8 365.2h0M1153.7 366.6h0M1152.3 367.6h0M1158.5 370.8h0M1158.5 368.1h0M1158.9 371.1h0M1159 369.9h0M1158.9 369.5h0M1140.3 374.8h0M1141.7 375h0M1139.2 382.5h0M1136.7 378h0M1138.6 379.6h0M1141.5 375.4h0M1141.4 372.2h0M1143 374.3h0M1142.2 374.3h0M1170.2 363.5h0M1171.9 363.9h0M1170.8 364.9h0M1169.2 364.2h0M1176.4 359.7h0M1176 363.7h0M1175.4 363.2h0M1175.5 359.7h0M1161.5 382.5h0M1161.7 383.2h0M1161 383.8h0M1163.4 380.8h0M1160.7 384h0M1160.4 381.3h0M1166.5 381.2h0M1164.2 383.7h0M1163.6 382h0M1164.1 384.1h0M1162 382.2h0M1162.5 385.7h0M1162.2 385.8h0M1161.7 380.3h0M1160.1 380.3h0M1163.4 381h0M1163.7 377.8h0M1166.9 376h0M1164.4 378.7h0M1163.2 379.3h0M1164.5 377.4h0M1179.7 381.9h0M1178.7 381.3h0M1179 382.5h0M1176.1 372.9h0M1175.7 373.1h0M1176 370.9h0M1177.1 373.2h0M1176.8 384.8h0M1176.4 383.7h0M1177.2 387.2h0M1177.7 385.4h0M1178.8 371.8h0M1179.7 371.9h0M1180.6 371h0M1179.7 378h0M1181.4 377.7h0M1180.7 377.5h0M1180.8 375.5h0M1178.9 377.3h0M1180.6 382.7h0M1179.9 383.4h0M1180.9 381.5h0M1169.3 393h0M1167.2 390.9h0M1170.1 396.6h0M1167.3 399.2h0M1164.9 386.4h0M1167.8 386.1h0M1163.3 386.2h0M1166.9 386h0M1163 387.8h0M1162.1 388.5h0M1160.6 385.5h0M1161.3 388.9h0M1169.1 390.6h0M1167.9 389.4h0M1169.5 390.5h0M1172.3 396h0M1167.8 396.8h0M1171.4 396.2h0M1199.8 388.2h0M1196.8 385.6h0M1196.4 386.5h0M1199.1 388.2h0M1195.1 387.3h0M1195.1 387h0M1196.1 388.1h0M1193.8 384.8h0M1194.9 387.8h0M1200.5 385.6h0M1200.4 388h0M1200.8 385.3h0M1202.7 384.6h0M1200.3 385.3h0M1187.6 391h0M1186.6 391.7h0M1187 390.6h0M1183.1 392.9h0M1185.1 394h0M1182.2 394.8h0M1183.4 393h0M1185 392.4h0M1185 390.6h0M1179.9 395.4h0M1177.4 396.2h0M1183.4 394.4h0M1184.6 396.5h0M1183.4 394.7h0M1182.2 395.8h0M1229.1 371.9h0M1230 371.1h0M1229.4 373.9h0M1229 372.2h0M1229.5 371.7h0M1229.8 375.5h0M1227.6 374.8h0M1228.4 374.6h0M1234.3 375.1h0M1234.2 375.1h0M1232.4 375.9h0M1234.3 376.3h0M1233 375.2h0M1236.8 372.3h0M1235 373.7h0M1226.5 372.1h0M1229.1 373.1h0M1230.1 373.3h0M1228 370.8h0M1226.4 370.8h0M1234.8 372.3h0M1235.8 371.7h0M1234.7 371.8h0M1232.8 391.8h0M1233.8 390.9h0M1233.1 389.4h0M1233.5 392.3h0M1235.9 390.5h0M1225.7 386h0M1225.3 388.1h0M1222.9 387.6h0M1224.9 388.2h0M1236.8 387.1h0M1237.1 386.5h0M1237.8 384.4h0M1228.9 389.4h0M1227.7 389.2h0M1230.7 389.5h0M1231.1 388.4h0M1230.5 384.8h0M1230.5 385.4h0M1229 387.4h0M1229.4 382.9h0M1228.8 383.7h0M1229.3 382.8h0M1228.8 382h0M1229.1 387.7h0M1230.6 386.3h0M1229.1 385.5h0M1229 389.5h0M1229.3 384.6h0M1231.2 392.2h0M1228.4 393.6h0M1229.7 392.6h0M1231.7 391.8h0M1230.4 389.9h0M1232.6 385h0M1233.8 385.7h0M1231.4 384h0M1233.3 385.6h0M1231.1 384.5h0M1230.9 390.2h0M1232.9 390.2h0M1231.2 386.9h0M1231.5 391h0M1232.2 389.5h0M1217.3 400h0M1215.6 397.1h0M1217.2 399h0M1220.3 397.5h0M1216.6 398.8h0M1215 397.6h0M1216.2 396.2h0M1216.2 395.5h0M1215.4 396.9h0M1214.9 398.5h0M1215.5 396.1h0M1238 380.5h0M1237.8 380.5h0M1240.5 377h0M1241.7 378.4h0M1239.7 376.2h0M1240.6 377.6h0M1242.8 376.7h0M1244 375.3h0M1240.9 377.5h0M1243.3 376.1h0M1277.7 392h0M1274.8 392.9h0M1275.5 392.4h0M1276.1 392.8h0M1282.8 385.4h0M1281.2 387.3h0M1283.4 388.9h0M1279.7 392.2h0M1276.4 393.5h0M1277.5 392.5h0M1277.6 387.9h0M1280.3 386.6h0M1279.6 385.9h0M1261.4 411.6h0M1260 409.4h0M1261.7 412.5h0M1263.1 412.4h0M1250.5 411.9h0M1253 409h0M1251.4 409.1h0M1254.5 404.7h0M1255.4 408.2h0M1256.8 406.8h0M1254.1 406.5h0M1256.6 406.6h0M1260.1 408.8h0M1259 408.8h0M1255.6 409.2h0M1256.6 409.4h0M1256.4 408h0M1256.4 402.5h0M1255.3 404.4h0M1257.6 402.1h0M1256 404.6h0M1275.6 407.3h0M1273 401.5h0M1275.9 406h0M1275.6 404.2h0M1277.3 404.6h0M1276.8 408.3h0M1279.1 408.9h0M1276.7 406.8h0M1277.1 407.8h0M1124.2 400.9h0M1124.6 400.6h0M1125.9 401.5h0M1121.4 399.3h0M1124.2 398.3h0M1124.3 400.7h0M1116.1 404.7h0M1117.4 403.1h0M1115.8 402.9h0M1118.5 403.5h0M1130 404.3h0M1129.2 402.3h0M1119 398.3h0M1118.2 399.1h0M1119.9 397.4h0M1131 397.9h0M1131.3 399.5h0M1133.1 400.6h0M1133.1 400.3h0M1131.1 402.5h0M1119.5 399.9h0M1118.4 401.9h0M1125.8 408h0M1130.1 410.6h0M1126.2 408.6h0M1119 396h0M1119.2 396.8h0M1120.3 395.6h0M1116.6 412.2h0M1117.3 415.2h0M1116.1 411.5h0M1116.2 414.1h0M1115.1 416.3h0M1116.7 418.2h0M1115.1 415.9h0M1120.1 418.1h0M1120.9 418.8h0M1119.5 416.9h0M1116.7 419.6h0M1114.4 416.4h0M1114.6 419.1h0M1116.9 417.3h0M1117.6 416.9h0M1113.9 415.4h0M1115.2 417.2h0M1139 413.6h0M1139.5 418.8h0M1142.6 415h0M1139.5 412.2h0M1141.7 413.7h0M1144.1 413.4h0M1139.2 410.3h0M1135.9 413.2h0M1141.7 413.6h0M1142 413.4h0M1141.1 413.2h0M1159.1 407.7h0M1162.1 407.8h0M1161.2 408.6h0M1159.8 407.8h0M1150.6 408.1h0M1153.3 410h0M1163.3 413h0M1161.1 410.3h0M1161.5 414.3h0M1155.7 413.7h0M1156.7 416.2h0M1154.8 416.6h0M1159.1 408.1h0M1160.7 411.1h0M1159.8 409.2h0M1163.8 409.6h0M1161 408.6h0M1156.2 415.3h0M1157.2 415.4h0M1156.7 417.3h0M1155.5 413.9h0M1177.7 408h0M1179.2 409.7h0M1175.9 404.2h0M1185.2 402.6h0M1184 401.3h0M1185.3 402.9h0M1182.4 402.8h0M1177.5 406.8h0M1174 406.1h0M1181.4 402h0M1181.3 403.7h0M1175.9 410h0M1175.3 408.4h0M1175.8 409.5h0M1175 407.7h0M1177.9 402.9h0M1177.3 404.3h0M1179.7 406.4h0M1176.3 404h0M1177.5 403.9h0M1179.6 405.7h0M1179.1 403.7h0M1196.8 401h0M1199.6 402.7h0M1199.8 404.3h0M1196 402.7h0M1194.3 407.5h0M1193.2 406.6h0M1194.9 404.5h0M1199.7 407.8h0M1199.8 409.3h0M1194.8 402.5h0M1190.7 399.8h0M1192.3 401.3h0M1192.4 398.1h0M1192 399.9h0M1173 418.8h0M1173.4 415.9h0M1176.7 416h0M1176.9 414.1h0M1174.8 414.5h0M1177.8 415.1h0M1178.5 415.4h0M1178.7 421.2h0M1178.6 422h0M1206.6 417h0M1202.7 416.3h0M1201.1 416.5h0M1204.4 422.6h0M1204.3 423.4h0M1202.1 421.2h0M1206.2 423.8h0M1205.1 426.6h0M1204.8 424.9h0M1197 418.8h0M1198.9 422h0M1196.2 419.6h0M1195.7 420.6h0M1196.3 423.3h0M1206.5 421.8h0M1206.1 424.8h0M1204.2 424.5h0M1206.1 425.1h0M1205.8 423h0M1204 421.2h0M1197.8 420.6h0M1199.4 420h0M1198.5 419.4h0M1199.7 417.4h0M1202 418.9h0M1232.8 421.5h0M1230.8 423h0M1234.7 419.4h0M1232.4 412.6h0M1230.4 413.8h0M1231.8 412.7h0M1231.3 413.1h0M1227.9 415.5h0M1227.4 417.5h0M1227.8 417.2h0M1234.4 407.4h0M1231.4 407.3h0M1232.3 407.9h0M1231.6 407.6h0M1231.3 408.6h0M1234 419h0M1232 420.6h0M1225.6 423.8h0M1226.9 422.9h0M1226.2 422.5h0M1227.7 423h0M1234.5 413.5h0M1235.8 416.6h0M1234.6 414.1h0M1232.2 415.2h0M1234 416.9h0M1233.8 410.4h0M1232.4 411h0M1232 407.3h0M1230.1 409.5h0M1232.1 410.1h0M1228.5 418.5h0M1228.9 417.9h0M1229 419.7h0M1246.1 419.2h0M1248.3 418.4h0M1246.7 418.1h0M1251.1 421h0M1251.9 420.5h0M1249.7 423.7h0M1251.1 419.8h0M1249.6 423h0M1247.6 423.8h0M1246.9 423.3h0M1248.6 424h0M1247.4 422.4h0M1244.4 422.6h0M1247.9 422.8h0M1247.7 421.7h0M1247 425.6h0M1247.1 423.1h0M1227.1 426.4h0M1226.1 427.1h0M1225.6 426.9h0M1222.3 425.4h0M1220.8 424.3h0M1220.1 427.4h0M1221.9 426.9h0M1220.4 429.6h0M1220.2 427.9h0M1222 425.4h0M1220.8 424.1h0M1220.5 426.1h0M1219.9 426.3h0M1233.2 434.2h0M1231.4 437.8h0M1233.1 438.3h0M1234.7 438.9h0M1239 435.8h0M1239 439.1h0M1230.6 436.5h0M1230 434.6h0M1233.7 439.4h0M1229.7 438.9h0M1232.2 438.9h0M1235.5 440.3h0M1232.2 439.1h0M1232.7 438.8h0M1256.4 435.3h0M1255.9 432.6h0M1254.1 433.4h0M1255.4 434.5h0M1252.7 433.9h0M1091.7 423h0M1097.8 426.3h0M1105.8 425.3h0M1107.2 427h0M1109 425h0M1107.7 426.1h0M1106.6 422.1h0M1106.9 422.9h0M1105.9 422.5h0M1107.4 427.9h0M1106.6 426.9h0M1102.3 424.4h0M1105.2 426.3h0M1124.3 430.4h0M1123.7 432.4h0M1121.3 428.1h0M1121.3 434.1h0M1125.8 431h0M1123.7 433.3h0M1129.8 433h0M1130.1 431.5h0M1127.7 430.7h0M1130.2 431h0M1130.9 428.9h0M1128.7 431.6h0M1129.7 431.5h0M1128.3 430.6h0M1131.2 427.5h0M1130.5 427.5h0M1128.7 427.2h0M1131.7 429.4h0M1121 422.5h0M1119.2 426.1h0M1122.9 426.4h0M1120.2 424.3h0M1120.1 424.8h0M1138.8 436.6h0M1137.9 434.9h0M1132.7 438h0M1134.7 436.7h0M1133.7 436.8h0M1135.9 440.8h0M1132.3 438.4h0M1130.9 433.7h0M1138.6 427.7h0M1137.4 428.8h0M1137.6 428.1h0M1136.3 429h0M1138.2 429.9h0M1137.3 439.3h0M1136.3 440.7h0M1137.3 429.7h0M1135 432h0M1135.4 433h0M1135.5 433h0M1138.5 430.1h0M1137.7 430.5h0M1136.1 431.2h0M1095.8 444.7h0M1096.5 443.7h0M1093.9 443.6h0M1095 445.4h0M1094.2 443.6h0M1092.2 443.3h0M1092.6 443.4h0M1090.2 443.1h0M1099 443.5h0M1095.1 441.1h0M1096.9 443.7h0M1089.1 440.1h0M1088.1 439.8h0M1086.7 439.2h0M1099 449.4h0M1097.2 449.9h0M1110.5 447.6h0M1112.7 447.1h0M1112 444.6h0M1111.8 447.6h0M1115 444.4h0M1113.9 447.5h0M1115.9 447.5h0M1113.5 446.7h0M1114.1 445.2h0M1105.6 447.3h0M1106.3 447.7h0M1105.2 447h0M1104.6 445.4h0M1125.6 448.1h0M1123.1 446.8h0M1123.6 446.9h0M1122.2 446.5h0M1122.6 448.6h0M1122.8 448.4h0M1120.8 443.1h0M1121.4 444.1h0M1121.2 443.9h0M1123.2 443.5h0M1126.5 440.3h0M1122.2 447.5h0M1121.3 445.1h0M1122.1 444.5h0M1124.7 443h0M1123.9 444.1h0M1130.9 453.1h0M1126.4 453.9h0M1126.9 450.6h0M1130.1 448.8h0M1133.3 446.1h0M1134.7 444.5h0M1135.6 446.4h0M1135.3 442.4h0M1134.6 446.3h0M1132.8 444.3h0M1131.8 447h0M1131.4 443.7h0M1131 444.7h0M1097.1 464.4h0M1094.8 466.9h0M1097.3 461.8h0M1095.1 465.5h0M1095.9 461.8h0M1090 460.7h0M1090 460.9h0M1091.5 460.2h0M1098.3 468.5h0M1096 468.1h0M1099.6 463h0M1098.1 464.3h0M1095.8 464.8h0M1096.4 465.4h0M1120.4 461.2h0M1122.2 459.5h0M1123.1 459.5h0M1123.3 460.8h0M1126.7 465.3h0M1122.4 466.7h0M1125 464.5h0M1125.1 457.8h0M1125.7 459.9h0M1122.7 458.9h0M1125.4 458.2h0M1130.4 459.8h0M1121.5 461.9h0M1122.7 462.6h0M1123.1 461.1h0M1121.9 461.9h0M1122.2 462.2h0M1127.4 463.6h0M1123.6 464.6h0M1125.3 464.4h0M1169.1 449.6h0M1166.6 450.9h0M1174 453.8h0M1178.4 452.4h0M1175 452h0M1173.3 445.2h0M1172.8 444.9h0M1172.8 446.5h0M1173.5 448h0M1171.2 451.7h0M1173.4 452.8h0M1174.6 451h0M1186.2 452h0M1186.1 453.2h0M1186.4 454.8h0M1184.5 452.2h0M1185.3 451.5h0M1188.2 445.7h0M1188.2 444.5h0M1187 446.4h0M1188.1 446.3h0M1188.8 446.4h0M1189.1 443.9h0M1187.2 447.2h0M1188.2 448.4h0M1186.4 447.5h0M1193.4 455.3h0M1194.4 455.8h0M1192.7 452.4h0M1188.5 440.6h0M1187.5 438.2h0M1188.6 442h0M1186 449.2h0M1184.4 448.5h0M1182.8 447.9h0M1181.3 450h0M1182.1 454.3h0M1179.4 454.1h0M1180.8 454.7h0M1158 457.3h0M1160.7 457.5h0M1274.8 445.6h0M1275.4 446.7h0M1282.7 448.3h0M1281.7 446.7h0M1272.7 439.7h0M1274 439.4h0M1281.5 448.7h0M1284.7 446.9h0M1282.6 446.8h0M1267.6 456.3h0M1266.3 456.6h0M1264.4 456.3h0M1268.4 451.6h0M1267.5 453.3h0M1262.9 445.7h0M1263 443.7h0M1261.8 444h0M1261.8 442.5h0M1263.2 449.6h0M1263.9 449.4h0M1266.1 450.2h0M1255.7 449.6h0M1256.5 449.7h0M1258.2 450h0M1294 448.6h0M1293.3 446.8h0M1293.1 447.4h0M1293.5 446.4h0M1286.4 447.6h0M1282.9 447.6h0M1289 440.5h0M1291.4 443.6h0M1290.6 439.7h0M1286.9 451.6h0M1285.2 453h0M1284.9 450.6h0M1283.3 448.7h0M1285.1 448.8h0M1290.4 455.3h0M1295.1 455.2h0M1295.3 453.4h0M1296.7 453.8h0M1293.2 455.8h0M1290.3 458.7h0M1286.5 457.7h0M1288.7 457.2h0M1287.5 456.7h0M1285.7 455.9h0M1304.2 442.9h0M1302.7 446.1h0M1302.8 444.7h0M1295.9 448.2h0M1296 448.9h0M1296.6 451.1h0M1296 446.5h0M1294.8 443.8h0M1277.7 453.5h0M1277.7 453.9h0M1275.2 453.3h0M1286.1 459.8h0M1287.2 457.8h0M1285.2 458.7h0M1285.6 458.2h0M1287.6 459.1h0M1279.8 463.2h0M1281.6 462.7h0M1284 464h0M1278.8 460.4h0M1279 460.8h0M1276.6 454.2h0M1275.9 455.2h0M1275.8 454.8h0M1277.6 454.5h0M1276.5 455.8h0M1280.8 460.5h0M1278.8 459.8h0M1281 457h0M1262 461.3h0M1261.4 462h0M1261.1 463.7h0M1256.7 464h0M1252.6 465.7h0M1254.9 464.4h0M1254.7 461.9h0M1253.6 461.9h0M1254.2 461.8h0M1257.3 461.4h0M1256.1 461.8h0M1255.7 460.5h0M1274 475.5h0M1275.1 475.9h0M1276.2 474.9h0M1276 473.3h0M1270.1 470.9h0M1272.8 468.3h0M1273.9 469.9h0M1269.1 471.6h0M1273.1 474.5h0M1276.1 474.6h0M1273 477.6h0M1276.7 474.3h0M1273 471.6h0M1274.6 473.6h0M1275.7 470.8h0M1275.3 472.8h0M1274.9 472.6h0M1161.2 467.7h0M1161.2 466.9h0M1161.9 465.9h0M1159.5 469.2h0M1162.3 468h0M1162.9 469.1h0M1162.6 468.2h0M1161.1 467h0M1161.4 465.4h0M1153.2 473.5h0M1154.8 473.3h0M1156.6 473h0M1155.2 475.4h0M1155.2 474.7h0M1159.7 466.6h0M1162.5 466.2h0M1161.7 466.1h0M1160.9 463.6h0M1159.4 465.8h0M1164.1 473.1h0M1167.6 474.2h0M1167.3 472.6h0M1163.9 473.9h0M1167.1 475.5h0M1166.4 473.9h0M1165.4 474.9h0M1166.2 474.3h0M1164 470.7h0M1184.7 477.4h0M1185 481.4h0M1210.6 478.5h0M1213.7 477.8h0M1214.3 474h0M1214 474.7h0M1215.5 474.1h0M1209.9 480.7h0M1210.8 480.4h0M1209.4 479.3h0M1213.5 480h0M1216 481.1h0M1216.5 479.5h0M1213.3 480.1h0M1213.6 479.1h0M1251.2 476.2h0M1249.3 476.1h0M1248.9 477.1h0M1249.1 479.7h0M1249.6 480.9h0M1247.2 484.4h0M1248 481.7h0M1247.9 481.7h0M1245.2 479.4h0M1245.8 480.5h0M1244.1 479.8h0M1163.7 500h0M1164.1 500.3h0M1164.5 500.4h0M1160.2 501h0M1159.5 501.6h0M1161.8 492.4h0M1164.3 495.4h0M1160.2 502.6h0M1157.1 501.8h0M1159.8 504.7h0M1158.6 500.8h0M1157.8 499.8h0M1163 500.5h0M1165 499.6h0M1166.9 498.6h0M1164.9 499h0M1165.2 499.3h0M1168 505.5h0M1166.8 503.9h0M1165.4 504h0M1167.1 504.6h0M1237 523.9h0M1237.4 522.5h0M1234.7 525h0M1235.2 529.7h0M1236.4 529.5h0M1234.7 527.8h0M1236.9 529.8h0M1234.7 522.1h0M1235.3 520.8h0M1234.7 524.1h0M1234 519.5h0M1236.2 521.3h0M1240.6 524.9h0M1239.4 523.3h0M1237.7 536.1h0M1238.4 535.2h0M1237.7 537h0M1236.3 537.2h0M1234.9 539.5h0M1236 538.7h0M1235.6 539.4h0" stroke="#D3D052" stroke-width="5.5" stroke-linecap="round" fill="none"/>
<path d="M1293 313.2h0M1284.6 311.7h0M1293.4 309.7h0M1286.4 305.1h0M1291.2 304.9h0M1291.7 299.7h0M1293.8 304.3h0M1284.7 314.3h0M1290.8 306.7h0M1286.4 316.1h0M1290.3 308.7h0M1292.6 308.6h0M1286.8 303.5h0M1288.8 315h0M1289.5 313.3h0M1290.9 315.5h0M1285.9 310.2h0M1284.5 305.8h0M1288.4 300h0M1292.2 312.1h0M1286.5 307.5h0M1287.7 317.5h0M1285.2 304.5h0M1290.1 317.7h0M1286.2 302h0M1292.1 307h0M1287.6 311.2h0M1289.1 312.1h0M1288.3 297.6h0M1288 312.9h0M1288.4 302.6h0M1288.8 304.1h0M1291.7 303.6h0M1287.8 305.6h0M1283.9 304.1h0M1293.3 311.3h0M1290.5 302.2h0M1286.3 314.7h0M1290.1 310.8h0M1285 302.7h0M1323.5 300.4h0M1322.8 298.9h0M1322.3 301.5h0M1318.2 308.4h0M1321.4 299.4h0M1319.3 306.1h0M1324.5 306.2h0M1324.2 304.9h0M1321.3 308.9h0M1320.5 302.2h0M1320.2 299.9h0M1319.8 309.5h0M1323.8 303.3h0M1317 303.8h0M1317.2 307.5h0M1317.3 299.1h0M1325.7 303.3h0M1325.9 306.3h0M1321.4 304.8h0M1322 307.5h0M1318.4 302.7h0M1325.7 304.9h0M1316.4 302.1h0M1318.6 300.8h0M1315 302.6h0M1326.1 300.9h0M1319.5 307.7h0M1315.5 305.1h0M1361.2 297h0M1363.7 291.8h0M1364.9 295h0M1365.3 302.3h0M1364 290.1h0M1361.1 292h0M1371.3 301h0M1369 290.4h0M1368 299.1h0M1374.4 294.3h0M1367.7 294.4h0M1370.5 299.9h0M1366.6 286.8h0M1373.9 290h0M1373.2 293.1h0M1371 289.1h0M1360.4 300h0M1371.8 292h0M1371.3 293.3h0M1363.9 287.3h0M1369.7 288.2h0M1364.3 299.7h0M1362.4 296.1h0M1372 295.4h0M1372.2 288.4h0M1366.6 289.8h0M1373.6 297.7h0M1361 290.4h0M1369.2 296.2h0M1359.1 297.8h0M1364.2 296.4h0M1368.8 301.5h0M1365.6 291h0M1372 299.1h0M1362.2 299.4h0M1361 293.7h0M1368.3 288.2h0M1365.8 297.7h0M1362.3 289.8h0M1370.5 294.8h0M1381 288.2h0M1382.6 289.5h0M1381.9 286.8h0M1379.2 291h0M1380.9 290.1h0M1383.4 293.9h0M1381.3 294h0M1379.7 289.3h0M1378.9 293.4h0M1385.5 291.4h0M1354.3 304.3h0M1351.9 301.9h0M1351.7 306.2h0M1353.8 308.9h0M1353.3 295.1h0M1355.7 301h0M1353.5 301.3h0M1354.1 306.7h0M1353.1 302.5h0M1352.8 296.7h0M1353.2 310.2h0M1354.2 298.3h0M1361.8 316.2h0M1361.2 314.8h0M1359.7 316.8h0M1359.4 313.6h0M1369.2 320.8h0M1379.8 314.7h0M1367.2 326.1h0M1372.3 308.2h0M1375 328.9h0M1368.9 311.3h0M1371.4 313.8h0M1376.8 317.1h0M1376.9 319.9h0M1370.9 315.3h0M1377.9 308.1h0M1373 321h0M1374.9 310.9h0M1374.2 323.7h0M1371.3 320.8h0M1374.9 308.7h0M1365.7 319.1h0M1368.3 315.1h0M1372.3 326.1h0M1374.9 319.3h0M1365.9 315.6h0M1369.3 316.8h0M1376.4 323.1h0M1365.7 321.6h0M1381 319.1h0M1368.3 327.1h0M1378.4 314.5h0M1367.9 312.8h0M1376.2 312.4h0M1379.2 316.9h0M1379.7 312.5h0M1366.5 325h0M1370.6 308.5h0M1368.8 322.7h0M1370.2 325.5h0M1369.4 324.1h0M1373.8 313.6h0M1375.9 325.6h0M1367.6 318.9h0M1370.3 319.4h0M1370 318.2h0M1373.9 307.9h0M1375.6 317.9h0M1374.5 312.5h0M1375.8 327.3h0M1376.8 315h0M1377.9 327.2h0M1373.9 315.9h0M1371 328.2h0M1368.2 324.6h0M1333.4 349.1h0M1322.1 337.5h0M1330 331.4h0M1332.2 340h0M1339.3 340.6h0M1325.8 343.8h0M1334.3 343.2h0M1338.1 339.9h0M1327 348h0M1339.2 346.8h0M1327.3 330.4h0M1333.4 335.3h0M1330.5 340.4h0M1325.7 335.9h0M1325.8 334.2h0M1332.2 329.2h0M1336.6 334.8h0M1328.8 348.8h0M1325.9 337.9h0M1339.6 338.4h0M1325 331.6h0M1322.2 340.4h0M1336.4 336.5h0M1327.1 340h0M1326.3 331.9h0M1334.6 331.9h0M1332.5 344h0M1328.3 336.2h0M1337 346.9h0M1341 342.9h0M1336.8 339.2h0M1321.9 335.1h0M1329.6 333.3h0M1335.1 340.3h0M1328.9 344.4h0M1335.6 330.1h0M1341 338.3h0M1334.8 337.3h0M1332.2 335.7h0M1339 333.7h0M1330.9 345.7h0M1332.1 348.6h0M1336.8 348.3h0M1326.4 345.5h0M1333.5 330.2h0M1330.4 348.2h0M1329.6 346.2h0M1328.9 340.9h0M1340.3 339.7h0M1333.3 346.4h0M1338.7 345.4h0M1333.6 338.9h0M1327.6 342h0M1330.8 333.9h0M1330.8 329.1h0M1338.4 406.6h0M1345.1 403.9h0M1342 416.9h0M1353.4 408.5h0M1334.2 415.2h0M1340.6 407h0M1353.2 407.1h0M1340.1 405.4h0M1351.3 416.2h0M1355.6 411.1h0M1339.1 411.9h0M1347.8 417.5h0M1337.2 410.7h0M1349.3 415.2h0M1338.2 416.2h0M1346.9 408.7h0M1353.9 409.8h0M1355.2 406.9h0M1335 410.9h0M1330.2 409h0M1340.6 415.6h0M1331.4 410.3h0M1332.5 413.2h0M1345.4 414.5h0M1350.2 413.8h0M1339.6 414.4h0M1342.3 403.8h0M1348.3 413.8h0M1348.8 410.8h0M1341.4 412.7h0M1343.7 408.7h0M1344.9 410.9h0M1338.8 402.6h0M1341.7 414h0M1333.5 410.6h0M1350.9 412.2h0M1351.5 413.7h0M1340.7 410.1h0M1351.8 404.3h0M1336.6 407.7h0M1334.8 407.2h0M1350.9 406.5h0M1355.5 413.6h0M1341.4 408.9h0M1345.8 409.6h0M1353.9 414.5h0M1333.8 411.9h0M1336.7 417h0M1333 404.9h0M1339.5 403.7h0M1333.5 407.6h0M1344.6 407h0M1336.5 411.8h0M1348.5 412.1h0M1356.7 409.3h0M1345.7 417.6h0M1335.7 405.5h0M1345.6 405.5h0M1336.7 413.6h0M1334.5 404.9h0M1349.4 404.5h0M1348 407.7h0M1342.5 411.3h0M1337.9 408.5h0M1342.2 415.6h0M1350.2 409.8h0M1348.4 409.2h0M1341.8 402.6h0M1352.6 410.9h0M1331.2 408.1h0M1335.3 413h0M1344.2 414h0M1343.8 404.7h0M1347.7 402.7h0M1341.6 405.8h0M1349.4 408h0M1343.6 416.9h0M1332.7 414.7h0M1346.9 406.8h0M1342.9 414.4h0M1353.4 398.9h0M1345.6 392.9h0M1357.9 386h0M1348.8 390.2h0M1352.4 383.9h0M1359.5 398h0M1353 381.9h0M1358.1 397.7h0M1345.5 391.3h0M1361.4 393h0M1345.9 386.9h0M1358.5 395.5h0M1353 377.5h0M1347.7 389.6h0M1352.9 403.1h0M1359.8 382.3h0M1349.8 396.6h0M1360 393.8h0M1348.7 402.8h0M1358.8 380.3h0M1357.7 388h0M1357.5 383.6h0M1349.3 401.3h0M1346.6 398.8h0M1357.1 400.7h0M1346.8 396.6h0M1347.1 385h0M1351.5 406.3h0M1361.2 384.3h0M1354.7 390.9h0M1356.9 380h0M1350 393.9h0M1353.8 397.1h0M1347.7 401.8h0M1361.5 385.7h0M1352.4 405h0M1355.8 386.3h0M1350.4 398.4h0M1351.2 385.9h0M1352.5 397.7h0M1354 406.4h0M1349 405.1h0M1354.3 384.1h0M1361.2 389.6h0M1362.4 391.4h0M1355.4 385h0M1347.4 392.6h0M1353.9 400.7h0M1351 387.2h0M1350.2 390.7h0M1357.3 391.1h0M1354.5 394.5h0M1352.6 390.2h0M1350.3 382.5h0M1352.1 393.4h0M1355.8 393h0M1345 388.1h0M1356.7 404.5h0M1348.9 395.6h0M1350.1 402.7h0M1359.7 387.6h0M1348.7 386.1h0M1344.8 394.1h0M1350.4 380h0M1348.7 393.1h0M1353.4 393.4h0M1357.9 393.4h0M1347.6 393.8h0M1352 380.4h0M1350.8 384.4h0M1359.7 391.4h0M1346.8 382.5h0M1352.4 400.1h0M1356 383.4h0M1349.6 378.5h0M1356 398h0M1352.1 401.9h0M1353 387.2h0M1351.7 391.2h0M1356.2 389.7h0M1362.5 385.3h0M1374.1 393.1h0M1374.6 373.9h0M1368.6 390.7h0M1375.4 382.8h0M1379.2 378.3h0M1367.4 389.5h0M1369.2 374.4h0M1372.6 385.2h0M1368.9 377.6h0M1373.1 374.2h0M1379.6 381.1h0M1372.7 393.4h0M1368 387.1h0M1371.1 381.4h0M1373.3 387h0M1364.6 379.1h0M1367.3 383.8h0M1369.2 381.1h0M1365.9 388.5h0M1368.6 375.8h0M1376.8 387.7h0M1373.9 384.9h0M1379.9 379.7h0M1368.2 392.1h0M1361.6 381.6h0M1371.6 388.1h0M1363.2 379.3h0M1375.2 385.9h0M1370.5 373.3h0M1378.1 382.2h0M1379.2 386.8h0M1369.9 383.5h0M1370.2 389.4h0M1341.2 384.6h0M1374.6 397.8h0M1364.4 397.4h0M1358.8 374.8h0M1366.9 371.4h0M1365.5 371.4h0" stroke="#B68FC0" stroke-width="5.4" stroke-linecap="round" fill="none"/>
<path d="M1433 269L1549.8 69M1433 428.4L1549.8 457.1" stroke="#B992C4" stroke-width="2.1" fill="none"/>
<rect x="1273.5" y="269" width="159.5" height="159.4" fill="none" stroke="#B992C4" stroke-width="2.2"/>
<rect x="1549.8" y="69" width="410.3" height="388.1" fill="#fff" stroke="#B992C4" stroke-width="2.2"/>
<path d="M1652.7 92.9h0M1664.9 94.9h0M1642.7 98h0M1675.1 99.6h0M1632.7 103.1h0M1684 106h0M1628.9 114h0M1684.3 116h0M1628.7 124.3h0M1686 125.7h0M1630.9 134.9h0M1681.6 135.6h0M1641.1 144.9h0M1673.3 144.9h0M1654.3 148.9h0M1676.5 121.7h0M1666.2 110.7h0M1670.3 110.9h0M1672.8 126.1h0M1653.2 105.9h0M1655.9 120.3h0M1655.8 100.6h0M1643.2 133h0M1672.2 130.2h0M1671.2 106.9h0M1659 114.8h0M1653.1 135.2h0M1648.1 113.9h0M1650.8 121.5h0M1671.2 120.6h0M1665.4 127.9h0M1662.7 101.3h0M1667.2 103h0M1657.5 110.6h0M1647.5 126.5h0M1639 115.3h0M1665.7 118.2h0M1656.5 132.7h0M1643.4 112.4h0M1658.8 126.6h0M1672.7 116.5h0M1660.2 104.6h0M1668.6 135.7h0M1661.9 135.4h0M1648.8 107.4h0M1647.8 137.8h0M1660.3 121h0M1653.6 124.7h0M1663.9 122.9h0M1638.4 119.5h0M1661 130.3h0M1644.2 117.4h0M1643.3 129h0M1653.5 139.8h0M1645.2 121.5h0M1658 139.1h0M1648.1 130.5h0M1640.2 124.2h0M1663.4 114.1h0M1653.8 116.5h0M1652.2 130.2h0M1669.1 124.3h0M1661.6 109.7h0M1644.7 107.9h0M1667.9 114.8h0M1675 111.1h0M1652.5 112h0M1676.7 117.3h0M1639.2 128.4h0M1668.1 131.2h0M1647 103.7h0M1650.7 101.5h0M1664.5 139.1h0M1665.3 106.8h0M1648.2 118.4h0M1639.6 111.2h0M1676.8 126h0" stroke="#E17690" stroke-width="10.2" stroke-linecap="round" fill="none"/>
<path d="M1628.8 215.1h0M1644.1 215.9h0M1654 220.8h0M1623.4 226h0M1659.8 228.7h0M1614 233.3h0M1663.9 239h0M1620.2 243.3h0M1659.3 247.9h0M1624.7 251.8h0M1635.9 253.9h0M1646.2 253.9h0M1571.1 305.6h0M1576 298.9h0M1585.7 301.1h0M1581.9 307.9h0M1593.9 308.5h0M1605.7 298.7h0M1610.9 293.8h0M1625.9 292h0M1616.9 303.1h0M1626.1 303.1h0M1607.1 309.6h0M1640 310.3h0M1649.5 312.3h0M1641.9 322.1h0M1638.1 332.4h0M1620.7 331.8h0M1610.1 339.4h0M1569.9 335.6h0M1579.1 341.6h0M1589.8 348.7h0M1598.8 344.7h0M1646.8 231.4h0M1629.1 229.4h0M1625.2 226.4h0M1656.7 233.3h0M1639.6 220.2h0M1641 238h0M1653 239.7h0M1626.1 243.5h0M1634.4 237.3h0M1644.8 243.8h0M1653.9 228.7h0M1643 249h0M1638.1 232.2h0M1642.7 233.7h0M1644.6 226.2h0M1622.6 239.9h0M1630 246.1h0M1631.6 223.3h0M1624.9 232.2h0M1649 223h0M1628.9 235.9h0M1638.9 246.3h0M1647.5 237.6h0M1639.2 226.1h0M1634.7 227.6h0M1635.7 242.4h0M1651.7 233.3h0M1633.1 232.2h0M1657.9 238.3h0M1634.5 247.8h0M1631 241.1h0M1649.8 246h0M1644.4 221.3h0M1655 244h0M1620.9 235.6h0M1649.4 227.6h0M1590.5 311.3h0M1591.3 334.6h0M1586 321.8h0M1594.9 314.1h0M1589.9 339.5h0M1582.4 312.2h0M1591.9 318.8h0M1582.5 336.6h0M1579.8 326.1h0M1579.8 317.7h0M1597.3 336.5h0M1575.9 330.5h0M1602.2 328.3h0M1598.9 321.6h0M1592 326.5h0M1584.1 328.9h0M1573.8 317.8h0M1572.3 323h0M1597.1 328.9h0M1599.4 316.4h0M1577.4 335.3h0M1585.9 316.4h0M1603.6 323.4h0M1601.2 333.3h0M1631.4 308.3h0M1625.6 306.2h0M1615.3 309.1h0M1627.4 313.8h0M1618.6 323.7h0M1620.6 330.6h0M1629 323.4h0M1622.7 310.8h0M1632.7 316.4h0M1624.9 320.1h0M1616.3 317.7h0M1613 323.2h0M1626.3 330.9h0M1635.8 320.9h0M1618.8 305.2h0M1631.7 328.7h0M1623.7 325.9h0M1612.4 314.2h0M1621.5 316.1h0M1635.6 311.4h0M1615.9 328.2h0M1768.5 149.5h0M1768 154.5h0M1788.7 147.2h0M1816.3 149.2h0M1850.5 150.3h0M1866.5 154h0M1876.3 157.7h0M1896.8 146.3h0M1902.5 162.2h0M1800.2 159.8h0M1803 164.5h0M1786.5 166h0M1790.5 170.5h0M1829 158.3h0M1846.3 162.5h0M1857.3 168h0M1822 170.8h0M1835 171.3h0M1844.8 176.5h0M1857 179.2h0M1872.5 175h0M1889.8 173.8h0M1780 181.3h0M1800 184.8h0M1812.7 179h0M1826.6 181.3h0M1837.5 186.3h0M1878.5 183h0M1869.5 186h0M1927 178h0M1931 181.5h0M1820 192.3h0M1832.8 198.8h0M1857 194.3h0M1879.7 195h0M1873 200h0M1895 191.8h0M1910 199.7h0M1919.5 205.2h0M1808.7 202.7h0M1793.3 208h0M1796 213.5h0M1825 210.3h0M1842 205.7h0M1862 205h0M1871.5 209h0M1890 202h0M1885 207.5h0M1890.5 211h0M1898.8 206.2h0M1933.5 210.3h0M1812.7 220.5h0M1855.8 215.5h0M1881 216h0M1910 212.8h0M1921 216.2h0M1922.5 222h0M1901.5 219h0M1896.5 223.5h0M1836.8 230.3h0M1866 228h0M1872.8 226h0M1883 227.5h0M1909.3 227.5h0M1944.8 229.3h0M1874 238h0M1880.5 238h0M1896.5 236h0M1921.5 238.5h0M1927.5 239h0M1848 249h0M1853.5 250.5h0M1886 254.5h0M1893 254h0M1912 249.5h0M1917 253.2h0M1767.7 150.9h0M1768.5 154.6h0M1788.5 147.1h0M1816 149h0M1800.5 160.3h0M1802.8 164.8h0M1786.6 165.9h0M1790.3 170.5h0M1779.8 181.4h0M1799.8 184.8h0M1812.2 177.3h0M1828.8 157.6h0M1822.4 170.5h0M1826.2 181h0M1819.8 192.3h0M1808.4 202.9h0M1793.4 207.4h0M1796 213.1h0M1813 219.9h0M1825 210.4h0M1832.6 198h0M1837.5 185.9h0M1834.8 171.6h0M1846.2 162.9h0M1850.7 150.9h0M1845 176.1h0M1842 205.5h0M1836.7 230.1h0M1734.3 300.7h0M1771.6 298.2h0M1785.7 311.6h0M1802 314.5h0M1758.7 307.4h0M1763.6 311.1h0M1744.9 312.1h0M1748.3 318.2h0M1734 319.3h0M1760.2 323.9h0M1767 323.7h0M1808.1 325h0M1723.5 326.3h0M1694.8 334.6h0M1714.8 337.3h0M1738.5 332.9h0M1749.7 330h0M1751.7 334.9h0M1763.8 337h0M1762.6 341.9h0M1780.3 327.6h0M1779.6 333.4h0M1791 326.9h0M1794.7 332.5h0M1786.4 339.7h0M1792.3 342.5h0M1810.4 335.4h0M1818.7 332.7h0M1731.8 340.2h0M1735.4 345.6h0M1722.8 349.3h0M1746.1 343.1h0M1751 345.1h0M1746.4 352.7h0M1774.8 347.3h0M1814.1 344.8h0M1827 345.9h0M1703.4 353.3h0M1758.5 358.4h0M1792.5 356.3h0M1794.5 361.1h0M1804.7 357.2h0M1682.7 365.5h0M1704.3 369.4h0M1721.3 366h0M1732.5 363.3h0M1775.3 369.2h0M1780.6 371.3h0M1738.5 374.4h0M1750.8 375h0M1750.5 381h0M1718.4 379.1h0M1731.5 383.3h0M1772.3 380.5h0M1777.7 381.8h0M1806.8 381h0M1802.5 385.4h0M1690.3 383.9h0M1684.9 386.9h0M1704.8 388.3h0M1704.8 394.6h0M1718.7 392.4h0M1740.3 388.8h0M1735.4 393.2h0M1749.3 396.9h0M1691.7 399.5h0M1685.9 402.9h0M1703.2 406.6h0M1715 405.3h0M1727.9 401.2h0M1747.6 407.7h0M1785.5 400.9h0M1779.6 403.9h0M1691.2 416.3h0M1705.8 419.9h0M1717.5 417h0M1732.3 414.1h0M1734.9 419.9h0M1697.1 433.2h0M1719.4 434.5h0M1713.6 436.9h0" stroke="#7EA6EB" stroke-width="10.2" stroke-linecap="round" fill="none"/>
<path d="M1809.7 97.1h0M1831.3 92.3h0M1837.6 91.7h0M1842.9 102.3h0M1832.9 107.7h0M1845.3 108.7h0M1859.3 114.7h0M1855.7 120h0M1813.3 121.3h0M1815.7 128h0" stroke="#86D28C" stroke-width="10.2" stroke-linecap="round" fill="none"/>
<path d="M1820.4 103.1h0M1818.3 112h0M1825.3 118h0M1837.1 118.4h0M1794.7 115.6h0M1801.3 114.7h0M1798 124h0M1828.7 128.9h0M1835.1 128.9h0" stroke="#E9A9B8" stroke-width="10.2" stroke-linecap="round" fill="none"/>
<path d="M1628.5 341.7h0M1618 352.6h0M1612.3 359.4h0M1617.6 364.7h0M1631.2 357.2h0M1633.8 362.8h0M1640.6 365.8h0" stroke="#F6DC78" stroke-width="10.2" stroke-linecap="round" fill="none"/>
<path d="M942.2 444V544.9H1045" stroke="#808080" stroke-width="2" fill="none"/>
<path d="M942.2 436l-5.6 14l5.6 -3l5.6 3z" fill="#808080"/>
<path d="M1053.5 544.9l-14 -5.6l3 5.6l-3 5.6z" fill="#808080"/>
<text x="927" y="540.5" font-size="22.9" textLength="66" lengthAdjust="spacingAndGlyphs" fill="#808080" transform="rotate(-90 927 540.5)">TSNE2</text>
<text x="962.2" y="575" font-size="22.9" textLength="63" lengthAdjust="spacingAndGlyphs" fill="#808080">TSNE1</text>
<path d="M1116.1 576.2h0" stroke="#B68FC0" stroke-width="14.8" stroke-linecap="round" fill="none"/>
<path d="M1116.1 619.5h0" stroke="#D3D052" stroke-width="14.8" stroke-linecap="round" fill="none"/>
<text x="1135.7" y="583.7" font-size="22.9" textLength="161" lengthAdjust="spacingAndGlyphs">CDS_DB (breast)</text>
<text x="1135.7" y="626.7" font-size="22.9" textLength="145.1" lengthAdjust="spacingAndGlyphs">L1000 (breast)</text>
<text x="1538.8" y="560" font-size="26.3" text-anchor="end" textLength="91.7" lengthAdjust="spacingAndGlyphs">Cancer</text>
<text x="1538.8" y="600.4" font-size="26.3" text-anchor="end" textLength="103" lengthAdjust="spacingAndGlyphs">subtype</text>
<path d="M1551.6 498L1551.6 647" stroke="#ddd" stroke-width="1.2" fill="none" />
<path d="M1578.8 506.1h0" stroke="#7FA8EC" stroke-width="14.2" stroke-linecap="round" fill="none"/>
<text x="1600.6" y="512.9" font-size="22.9" textLength="145.6" lengthAdjust="spacingAndGlyphs">Breast cancer</text>
<path d="M1578.8 538.2h0" stroke="#F6DC78" stroke-width="14.2" stroke-linecap="round" fill="none"/>
<text x="1600.6" y="545" font-size="22.9" textLength="402" lengthAdjust="spacingAndGlyphs">Her2-receptor-negative breast cancer</text>
<path d="M1578.8 570.2h0" stroke="#E17690" stroke-width="14.2" stroke-linecap="round" fill="none"/>
<text x="1600.6" y="577" font-size="22.9" textLength="457.5" lengthAdjust="spacingAndGlyphs">Oestrogen-receptor-positive breast cancer</text>
<path d="M1578.8 602.3h0" stroke="#86D28C" stroke-width="14.2" stroke-linecap="round" fill="none"/>
<text x="1600.6" y="608.3" font-size="22.9" textLength="279" lengthAdjust="spacingAndGlyphs">Invasive ductal carcinoma</text>
<path d="M1578.8 634.4h0" stroke="#E9A9B8" stroke-width="14.2" stroke-linecap="round" fill="none"/>
<text x="1600.6" y="640" font-size="22.9" textLength="287" lengthAdjust="spacingAndGlyphs">Invasive lobular carcinoma</text>
<text x="-0.8" y="718.5" font-size="37" textLength="23.5" lengthAdjust="spacingAndGlyphs" font-weight="bold" stroke="#000" stroke-width="1.3">c</text>
<text x="345.2" y="721.8" font-size="27.4" textLength="128.4" lengthAdjust="spacingAndGlyphs">Prediction</text>
<text x="482" y="721.8" font-size="27.4" textLength="162.6" lengthAdjust="spacingAndGlyphs">performance</text>
<text x="653.9" y="721.8" font-size="27.4" textLength="20.2" lengthAdjust="spacingAndGlyphs">in</text>
<text x="683.4" y="721.8" font-size="27.4" textLength="189.2" lengthAdjust="spacingAndGlyphs">unseen-patient</text>
<text x="881.3" y="721.8" font-size="27.4" textLength="106.9" lengthAdjust="spacingAndGlyphs">scenario</text>
<path d="M120.9 757.4L120.9 1231.6" stroke="#000" stroke-width="1.8" fill="none" />
<path d="M109 1214.2L120.9 1214.2" stroke="#000" stroke-width="1.6" fill="none" />
<text x="95.8" y="1222" font-size="23.4" text-anchor="end" textLength="12.9" lengthAdjust="spacingAndGlyphs">0</text>
<path d="M109 1159.2L120.9 1159.2" stroke="#000" stroke-width="1.6" fill="none" />
<text x="95.8" y="1167" font-size="23.4" text-anchor="end" textLength="27.8" lengthAdjust="spacingAndGlyphs">0.1</text>
<path d="M109 1104.2L120.9 1104.2" stroke="#000" stroke-width="1.6" fill="none" />
<text x="95.8" y="1112" font-size="23.4" text-anchor="end" textLength="31.9" lengthAdjust="spacingAndGlyphs">0.2</text>
<path d="M109 1049.2L120.9 1049.2" stroke="#000" stroke-width="1.6" fill="none" />
<text x="95.8" y="1057" font-size="23.4" text-anchor="end" textLength="31.9" lengthAdjust="spacingAndGlyphs">0.3</text>
<path d="M109 994.2L120.9 994.2" stroke="#000" stroke-width="1.6" fill="none" />
<text x="95.8" y="1002" font-size="23.4" text-anchor="end" textLength="31.9" lengthAdjust="spacingAndGlyphs">0.4</text>
<path d="M109 939.2L120.9 939.2" stroke="#000" stroke-width="1.6" fill="none" />
<text x="95.8" y="947" font-size="23.4" text-anchor="end" textLength="31.9" lengthAdjust="spacingAndGlyphs">0.5</text>
<path d="M109 884.2L120.9 884.2" stroke="#000" stroke-width="1.6" fill="none" />
<text x="95.8" y="892" font-size="23.4" text-anchor="end" textLength="31.9" lengthAdjust="spacingAndGlyphs">0.6</text>
<path d="M109 829.2L120.9 829.2" stroke="#000" stroke-width="1.6" fill="none" />
<text x="95.8" y="837" font-size="23.4" text-anchor="end" textLength="31.9" lengthAdjust="spacingAndGlyphs">0.7</text>
<path d="M109 774.2L120.9 774.2" stroke="#000" stroke-width="1.6" fill="none" />
<text x="95.8" y="782" font-size="23.4" text-anchor="end" textLength="31.9" lengthAdjust="spacingAndGlyphs">0.8</text>
<text x="42.4" y="994" font-size="29.3" text-anchor="middle" textLength="51.5" lengthAdjust="spacingAndGlyphs" transform="rotate(-90 42.4 994)">PCC</text>
<path d="M156.8 1231.5L448.6 1231.5" stroke="#000" stroke-width="1.7" fill="none" />
<text x="233.3" y="1262.8" font-size="27" textLength="139.1" lengthAdjust="spacingAndGlyphs">Pan cancer</text>
<rect x="158.4" y="1017.3" width="25.8" height="5.9" fill="#E3D1A0" />
<path d="M171.3 997.8h0M171.3 1053.6h0" stroke="#E3D1A0" stroke-width="8.4" stroke-linecap="square" fill="none"/>
<path d="M159 1022.6L183.6 1022.6" stroke="#0a0a0a" stroke-width="1.4" fill="none" />
<rect x="188" y="1011.1" width="25.8" height="11.5" fill="#C99B32" />
<path d="M200.9 990.5h0M200.9 1044.9h0" stroke="#C99B32" stroke-width="8.4" stroke-linecap="square" fill="none"/>
<path d="M188.6 1017.7L213.2 1017.7" stroke="#0a0a0a" stroke-width="1.4" fill="none" />
<path d="M229.8 954.3V945.5M223.5 945.5H236.1" stroke="#F5E3A1" stroke-width="1.7" fill="none"/>
<path d="M229.8 967.8V973.8M223.5 973.8H236.1" stroke="#F5E3A1" stroke-width="1.7" fill="none"/>
<rect x="216.9" y="954.3" width="25.8" height="13.6" fill="#F5E3A1" />
<path d="M217.5 960.9L242.1 960.9" stroke="#0a0a0a" stroke-width="1.4" fill="none" />
<path d="M259.1 954.3V945.5M252.8 945.5H265.4" stroke="#ECC511" stroke-width="1.7" fill="none"/>
<path d="M259.1 967.8V973.8M252.8 973.8H265.4" stroke="#ECC511" stroke-width="1.7" fill="none"/>
<rect x="246.2" y="954.3" width="25.8" height="13.6" fill="#ECC511" />
<path d="M246.8 960.9L271.4 960.9" stroke="#0a0a0a" stroke-width="1.4" fill="none" />
<path d="M288 1075.5V1072.7M281.7 1072.7H294.3" stroke="#BDD0EA" stroke-width="1.7" fill="none"/>
<rect x="275.1" y="1075.5" width="25.8" height="20.9" fill="#BDD0EA" />
<path d="M288 1176.9h0" stroke="#BDD0EA" stroke-width="8.4" stroke-linecap="square" fill="none"/>
<path d="M275.7 1099.9L300.3 1099.9" stroke="#0a0a0a" stroke-width="1.4" fill="none" />
<rect x="304.4" y="1203.8" width="25.8" height="8.4" fill="#6FA8D8" />
<path d="M317.3 1190.5h0" stroke="#6FA8D8" stroke-width="8.4" stroke-linecap="square" fill="none"/>
<path d="M305 1205.2L329.6 1205.2" stroke="#0a0a0a" stroke-width="1.4" fill="none" />
<path d="M346.2 926.7V917.7M339.9 917.7H352.5" stroke="#A2B7EE" stroke-width="1.7" fill="none"/>
<rect x="333.3" y="926.7" width="25.8" height="15.7" fill="#A2B7EE" />
<path d="M333.9 932L358.5 932" stroke="#0a0a0a" stroke-width="1.4" fill="none" />
<path d="M375.5 921.1V926.4M369.2 926.4H381.8" stroke="#3273E2" stroke-width="1.7" fill="none"/>
<rect x="362.6" y="905.1" width="25.8" height="16" fill="#3273E2" />
<path d="M363.2 915.9L387.8 915.9" stroke="#D5E2FA" stroke-width="1.4" fill="none" />
<path d="M404.4 910.7V909.6M398.1 909.6H410.7" stroke="#DDD2E1" stroke-width="1.7" fill="none"/>
<path d="M404.4 931.6V943.1M398.1 943.1H410.7" stroke="#DDD2E1" stroke-width="1.7" fill="none"/>
<rect x="391.5" y="910.7" width="25.8" height="20.9" fill="#DDD2E1" />
<path d="M392.1 925.3L416.7 925.3" stroke="#0a0a0a" stroke-width="1.4" fill="none" />
<path d="M433.9 899.2V897.1M427.6 897.1H440.2" stroke="#B399CE" stroke-width="1.7" fill="none"/>
<path d="M433.9 930.2V938.6M427.6 938.6H440.2" stroke="#B399CE" stroke-width="1.7" fill="none"/>
<rect x="421" y="899.2" width="25.8" height="31" fill="#B399CE" />
<path d="M421.6 918L446.2 918" stroke="#0a0a0a" stroke-width="1.4" fill="none" />
<path d="M171.3 1022.6L200.9 1017.7L229.8 960.9L259.1 960.9L288 1099.9L317.3 1205.2L346.2 932L375.5 915.9L404.4 925.3L433.9 918" stroke="#bdbdbd" stroke-width="1.1" stroke-dasharray="8.5 7" fill="none"/>
<path d="M521.1 1231.5L812.1 1231.5" stroke="#000" stroke-width="1.7" fill="none" />
<text x="590.1" y="1262.8" font-size="27" textLength="170.8" lengthAdjust="spacingAndGlyphs">Breast cancer</text>
<path d="M535.6 1017V1027.1M529.3 1027.1H541.9" stroke="#E3D1A0" stroke-width="1.7" fill="none"/>
<rect x="522.7" y="1007.6" width="25.8" height="9.4" fill="#E3D1A0" />
<path d="M535.6 993.3h0" stroke="#E3D1A0" stroke-width="8.4" stroke-linecap="square" fill="none"/>
<path d="M523.3 1010.7L547.9 1010.7" stroke="#0a0a0a" stroke-width="1.4" fill="none" />
<path d="M564.7 994.3V991.5M558.4 991.5H571" stroke="#C99B32" stroke-width="1.7" fill="none"/>
<path d="M564.7 1011.8V1032M558.4 1032H571" stroke="#C99B32" stroke-width="1.7" fill="none"/>
<rect x="551.8" y="994.3" width="25.8" height="17.4" fill="#C99B32" />
<path d="M552.4 1008.3L577 1008.3" stroke="#0a0a0a" stroke-width="1.4" fill="none" />
<path d="M594 982.5V953.9M587.7 953.9H600.3" stroke="#F5E3A1" stroke-width="1.7" fill="none"/>
<path d="M594 1018V1025.3M587.7 1025.3H600.3" stroke="#F5E3A1" stroke-width="1.7" fill="none"/>
<rect x="581.1" y="982.5" width="25.8" height="35.5" fill="#F5E3A1" />
<path d="M581.7 992.9L606.3 992.9" stroke="#0a0a0a" stroke-width="1.4" fill="none" />
<path d="M622.9 982.5V953.9M616.6 953.9H629.2" stroke="#ECC511" stroke-width="1.7" fill="none"/>
<path d="M622.9 1018V1025.3M616.6 1025.3H629.2" stroke="#ECC511" stroke-width="1.7" fill="none"/>
<rect x="610" y="982.5" width="25.8" height="35.5" fill="#ECC511" />
<path d="M610.6 992.9L635.2 992.9" stroke="#0a0a0a" stroke-width="1.4" fill="none" />
<path d="M652.1 1174.8V1171.4M645.8 1171.4H658.4" stroke="#BDD0EA" stroke-width="1.7" fill="none"/>
<rect x="639.2" y="1174.8" width="25.8" height="7.7" fill="#BDD0EA" />
<path d="M639.8 1178.3L664.4 1178.3" stroke="#0a0a0a" stroke-width="1.4" fill="none" />
<rect x="668.2" y="1220.1" width="25.8" height="3.5" fill="#6FA8D8" />
<path d="M681.1 1212.1h0M681.1 1227.1h0" stroke="#6FA8D8" stroke-width="8.4" stroke-linecap="square" fill="none"/>
<path d="M668.8 1221.5L693.4 1221.5" stroke="#0a0a0a" stroke-width="1.4" fill="none" />
<path d="M710.2 1017V1004.4M703.9 1004.4H716.5" stroke="#A2B7EE" stroke-width="1.7" fill="none"/>
<path d="M710.2 1062.6V1080.1M703.9 1080.1H716.5" stroke="#A2B7EE" stroke-width="1.7" fill="none"/>
<rect x="697.3" y="1017" width="25.8" height="45.7" fill="#A2B7EE" />
<path d="M697.9 1036.8L722.5 1036.8" stroke="#0a0a0a" stroke-width="1.4" fill="none" />
<rect x="726.5" y="933.3" width="25.8" height="8.4" fill="#3273E2" />
<path d="M739.4 916.3h0" stroke="#3273E2" stroke-width="8.4" stroke-linecap="square" fill="none"/>
<path d="M727.1 936.5L751.7 936.5" stroke="#D5E2FA" stroke-width="1.4" fill="none" />
<path d="M768.5 937.9V947.6M762.2 947.6H774.8" stroke="#DDD2E1" stroke-width="1.7" fill="none"/>
<rect x="755.6" y="903.7" width="25.8" height="34.2" fill="#DDD2E1" />
<path d="M768.5 774.8h0" stroke="#DDD2E1" stroke-width="8.4" stroke-linecap="square" fill="none"/>
<path d="M756.2 899.9L780.8 899.9" stroke="#0a0a0a" stroke-width="1.4" fill="none" />
<path d="M797.8 827.1V761.2M791.5 761.2H804.1" stroke="#B399CE" stroke-width="1.7" fill="none"/>
<path d="M797.8 899.9V907.6M791.5 907.6H804.1" stroke="#B399CE" stroke-width="1.7" fill="none"/>
<rect x="784.9" y="827.1" width="25.8" height="72.8" fill="#B399CE" />
<path d="M785.5 852.5L810.1 852.5" stroke="#0a0a0a" stroke-width="1.4" fill="none" />
<path d="M535.6 1010.7L564.7 1008.3L594 992.9L622.9 992.9L652.1 1178.3L681.1 1221.5L710.2 1036.8L739.4 936.5L768.5 899.9L797.8 852.5" stroke="#bdbdbd" stroke-width="1.1" stroke-dasharray="8.5 7" fill="none"/>
<path d="M885.1 1231.5L1176.4 1231.5" stroke="#000" stroke-width="1.7" fill="none" />
<text x="963.9" y="1262.8" font-size="27" textLength="133.8" lengthAdjust="spacingAndGlyphs">Leukaemia</text>
<rect x="886.7" y="980.8" width="25.8" height="25.4" fill="#E3D1A0" />
<path d="M899.6 910.7h0M899.6 1045.6h0" stroke="#E3D1A0" stroke-width="8.4" stroke-linecap="square" fill="none"/>
<path d="M887.3 987.7L911.9 987.7" stroke="#0a0a0a" stroke-width="1.4" fill="none" />
<path d="M928.8 1001.7V1033.7M922.5 1033.7H935.1" stroke="#C99B32" stroke-width="1.7" fill="none"/>
<rect x="915.9" y="970" width="25.8" height="31.7" fill="#C99B32" />
<path d="M928.8 913.1h0" stroke="#C99B32" stroke-width="8.4" stroke-linecap="square" fill="none"/>
<path d="M916.5 982.5L941.1 982.5" stroke="#0a0a0a" stroke-width="1.4" fill="none" />
<path d="M957.9 937.9V934.1M951.6 934.1H964.2" stroke="#F5E3A1" stroke-width="1.7" fill="none"/>
<path d="M957.9 952.5V968.6M951.6 968.6H964.2" stroke="#F5E3A1" stroke-width="1.7" fill="none"/>
<rect x="945" y="937.9" width="25.8" height="14.6" fill="#F5E3A1" />
<path d="M945.6 947L970.2 947" stroke="#0a0a0a" stroke-width="1.4" fill="none" />
<path d="M987.2 937.9V934.1M980.9 934.1H993.5" stroke="#ECC511" stroke-width="1.7" fill="none"/>
<path d="M987.2 952.5V968.6M980.9 968.6H993.5" stroke="#ECC511" stroke-width="1.7" fill="none"/>
<rect x="974.3" y="937.9" width="25.8" height="14.6" fill="#ECC511" />
<path d="M974.9 947L999.5 947" stroke="#0a0a0a" stroke-width="1.4" fill="none" />
<path d="M1016.1 1177.3V1180.1M1009.8 1180.1H1022.4" stroke="#BDD0EA" stroke-width="1.7" fill="none"/>
<rect x="1003.2" y="1172.4" width="25.8" height="4.9" fill="#BDD0EA" />
<path d="M1016.1 1165.5h0" stroke="#BDD0EA" stroke-width="8.4" stroke-linecap="square" fill="none"/>
<path d="M1003.8 1174.2L1028.4 1174.2" stroke="#0a0a0a" stroke-width="1.4" fill="none" />
<rect x="1032.5" y="1196.5" width="25.8" height="5.6" fill="#6FA8D8" />
<path d="M1045.4 1185.7h0M1045.4 1215.7h0" stroke="#6FA8D8" stroke-width="8.4" stroke-linecap="square" fill="none"/>
<path d="M1033.1 1199.6L1057.7 1199.6" stroke="#0a0a0a" stroke-width="1.4" fill="none" />
<path d="M1074.5 1026.1V1016.3M1068.2 1016.3H1080.8" stroke="#A2B7EE" stroke-width="1.7" fill="none"/>
<path d="M1074.5 1053.9V1069.3M1068.2 1069.3H1080.8" stroke="#A2B7EE" stroke-width="1.7" fill="none"/>
<rect x="1061.6" y="1026.1" width="25.8" height="27.9" fill="#A2B7EE" />
<path d="M1062.2 1038.6L1086.8 1038.6" stroke="#0a0a0a" stroke-width="1.4" fill="none" />
<path d="M1103.4 948.7V964.4M1097.1 964.4H1109.7" stroke="#3273E2" stroke-width="1.7" fill="none"/>
<rect x="1090.5" y="935.1" width="25.8" height="13.6" fill="#3273E2" />
<path d="M1103.4 911.1h0" stroke="#3273E2" stroke-width="8.4" stroke-linecap="square" fill="none"/>
<path d="M1091.1 939.6L1115.7 939.6" stroke="#D5E2FA" stroke-width="1.4" fill="none" />
<path d="M1132.7 952.5V979M1126.4 979H1139" stroke="#DDD2E1" stroke-width="1.7" fill="none"/>
<rect x="1119.8" y="930.9" width="25.8" height="21.6" fill="#DDD2E1" />
<path d="M1132.7 899.2h0" stroke="#DDD2E1" stroke-width="8.4" stroke-linecap="square" fill="none"/>
<path d="M1120.4 938.9L1145 938.9" stroke="#0a0a0a" stroke-width="1.4" fill="none" />
<rect x="1149.1" y="904.8" width="25.8" height="9.8" fill="#B399CE" />
<path d="M1162 859.1h0M1162 935.5h0" stroke="#B399CE" stroke-width="8.4" stroke-linecap="square" fill="none"/>
<path d="M1149.7 904.8L1174.3 904.8" stroke="#0a0a0a" stroke-width="1.4" fill="none" />
<path d="M899.6 987.7L928.8 982.5L957.9 947L987.2 947L1016.1 1174.2L1045.4 1199.6L1074.5 1038.6L1103.4 939.6L1132.7 938.9L1162 904.8" stroke="#bdbdbd" stroke-width="1.1" stroke-dasharray="8.5 7" fill="none"/>
<linearGradient id="ga1" gradientUnits="userSpaceOnUse" x1="395.2" y1="882.4" x2="446" y2="839.2"><stop offset="0" stop-color="#FFFFFF"/><stop offset="0.12" stop-color="#F6E3E9"/><stop offset="0.6" stop-color="#C06A86"/><stop offset="1" stop-color="#93103F"/></linearGradient>
<path d="M396.8 884.3L438.5 849.6L440 854.5L446 839.2L429.9 842.7L434.5 844.9L393.6 880.5Z" fill="url(#ga1)"/>
<text x="347.2" y="859.8" font-size="28" textLength="68" lengthAdjust="spacingAndGlyphs" fill="#93103F">2.51%</text>
<linearGradient id="ga2" gradientUnits="userSpaceOnUse" x1="746.6" y1="859.5" x2="790.1" y2="781.1"><stop offset="0" stop-color="#FFFFFF"/><stop offset="0.12" stop-color="#F6E3E9"/><stop offset="0.6" stop-color="#C06A86"/><stop offset="1" stop-color="#93103F"/></linearGradient>
<path d="M748.8 860.7L786.8 793.5L789.9 797.5L790.1 781.1L776.3 790L781.4 790.5L744.4 858.3Z" fill="url(#ga2)"/>
<text x="669.9" y="815.2" font-size="28" textLength="89.6" lengthAdjust="spacingAndGlyphs" fill="#93103F">15.04%</text>
<linearGradient id="ga3" gradientUnits="userSpaceOnUse" x1="1106.7" y1="874.5" x2="1169.5" y2="810"><stop offset="0" stop-color="#FFFFFF"/><stop offset="0.12" stop-color="#F6E3E9"/><stop offset="0.6" stop-color="#C06A86"/><stop offset="1" stop-color="#93103F"/></linearGradient>
<path d="M1108.5 876.2L1163 821.1L1164.9 825.8L1169.5 810L1153.8 815L1158.6 816.8L1105 872.7Z" fill="url(#ga3)"/>
<text x="1056.2" y="825.3" font-size="28" textLength="86.1" lengthAdjust="spacingAndGlyphs" fill="#93103F">12.58%</text>
<rect x="1206.8" y="812" width="25.1" height="25.1" fill="#B399CE" />
<text x="1248.6" y="831.6" font-size="23.8" textLength="162" lengthAdjust="spacingAndGlyphs">XPert (pretrain)</text>
<rect x="1206.8" y="852.7" width="25.1" height="25.1" fill="#DDD2E1" />
<text x="1248.6" y="872.3" font-size="23.8" textLength="57.3" lengthAdjust="spacingAndGlyphs">XPert</text>
<rect x="1206.8" y="893.4" width="25.1" height="25.1" fill="#3273E2" />
<text x="1248.6" y="913" font-size="23.8" textLength="216" lengthAdjust="spacingAndGlyphs">TranSiGen (pretrain)</text>
<rect x="1206.8" y="934.1" width="25.1" height="25.1" fill="#A2B7EE" />
<text x="1248.6" y="953.7" font-size="23.8" textLength="109.4" lengthAdjust="spacingAndGlyphs">TranSiGen</text>
<rect x="1206.8" y="974.8" width="25.1" height="25.1" fill="#6FA8D8" />
<text x="1248.6" y="994.4" font-size="23.8" textLength="167" lengthAdjust="spacingAndGlyphs">PRnet (pretrain)</text>
<rect x="1206.8" y="1015.5" width="25.1" height="25.1" fill="#BDD0EA" />
<text x="1248.6" y="1035.1" font-size="23.8" textLength="61.5" lengthAdjust="spacingAndGlyphs">PRnet</text>
<rect x="1206.8" y="1056.2" width="25.1" height="25.1" fill="#ECC511" />
<text x="1248.6" y="1075.8" font-size="23.8" textLength="173" lengthAdjust="spacingAndGlyphs">CIGER (pretrain)</text>
<rect x="1206.8" y="1096.9" width="25.1" height="25.1" fill="#F5E3A1" />
<text x="1248.6" y="1116.5" font-size="23.8" textLength="67" lengthAdjust="spacingAndGlyphs">CIGER</text>
<rect x="1206.8" y="1137.6" width="25.1" height="25.1" fill="#C99B32" />
<text x="1248.6" y="1157.2" font-size="23.8" textLength="191" lengthAdjust="spacingAndGlyphs">DeepCE (pretrain)</text>
<rect x="1206.8" y="1178.3" width="25.1" height="25.1" fill="#E3D1A0" />
<text x="1248.6" y="1197.9" font-size="23.8" textLength="85.5" lengthAdjust="spacingAndGlyphs">DeepCE</text>
<text x="-0.8" y="1360.9" font-size="37" textLength="25.8" lengthAdjust="spacingAndGlyphs" font-weight="bold" stroke="#000" stroke-width="1.3">d</text>
<text x="306.7" y="1371.7" font-size="27.4" textLength="161.7" lengthAdjust="spacingAndGlyphs">Unseen-drug</text>
<path d="M99.7 1401.7L99.7 1768.3" stroke="#000" stroke-width="1.7" fill="none" />
<path d="M88.4 1435.7L99.7 1435.7" stroke="#000" stroke-width="1.5" fill="none" />
<text x="76.7" y="1443.5" font-size="23.4" text-anchor="end" textLength="31.9" lengthAdjust="spacingAndGlyphs">0.4</text>
<path d="M88.4 1502L99.7 1502" stroke="#000" stroke-width="1.5" fill="none" />
<text x="76.7" y="1509.8" font-size="23.4" text-anchor="end" textLength="31.9" lengthAdjust="spacingAndGlyphs">0.3</text>
<path d="M88.4 1568.7L99.7 1568.7" stroke="#000" stroke-width="1.5" fill="none" />
<text x="76.7" y="1576.5" font-size="23.4" text-anchor="end" textLength="31.9" lengthAdjust="spacingAndGlyphs">0.2</text>
<path d="M88.4 1635L99.7 1635" stroke="#000" stroke-width="1.5" fill="none" />
<text x="76.7" y="1642.8" font-size="23.4" text-anchor="end" textLength="27.8" lengthAdjust="spacingAndGlyphs">0.1</text>
<path d="M88.4 1701.7L99.7 1701.7" stroke="#000" stroke-width="1.5" fill="none" />
<text x="76.7" y="1709.5" font-size="23.4" text-anchor="end" textLength="12.9" lengthAdjust="spacingAndGlyphs">0</text>
<path d="M88.4 1768.3L99.7 1768.3" stroke="#000" stroke-width="1.5" fill="none" />
<text x="76.7" y="1776.1" font-size="23.4" text-anchor="end" textLength="40.6" lengthAdjust="spacingAndGlyphs">−0.1</text>
<text x="23.4" y="1585.1" font-size="29.3" text-anchor="middle" textLength="51.5" lengthAdjust="spacingAndGlyphs" transform="rotate(-90 23.4 1585.1)">PCC</text>
<path d="M111 1767.7L204.3 1767.7" stroke="#000" stroke-width="1.7" fill="none" />
<text x="108.3" y="1802.3" font-size="27" textLength="99" lengthAdjust="spacingAndGlyphs">DeepCE</text>
<path d="M228 1767.7L321.3 1767.7" stroke="#000" stroke-width="1.7" fill="none" />
<text x="236" y="1802.3" font-size="27" textLength="78" lengthAdjust="spacingAndGlyphs">CIGER</text>
<path d="M344.7 1767.7L438.3 1767.7" stroke="#000" stroke-width="1.7" fill="none" />
<text x="356" y="1802.3" font-size="27" textLength="71.7" lengthAdjust="spacingAndGlyphs">PRnet</text>
<path d="M461.7 1767.7L555.3 1767.7" stroke="#000" stroke-width="1.7" fill="none" />
<text x="444" y="1802.3" font-size="27" textLength="128.7" lengthAdjust="spacingAndGlyphs">TranSiGen</text>
<path d="M578.3 1767.7L672.3 1767.7" stroke="#000" stroke-width="1.7" fill="none" />
<text x="591.7" y="1802.3" font-size="27" textLength="66.7" lengthAdjust="spacingAndGlyphs">XPert</text>
<path d="M125 1541V1469M120.2 1469H129.8" stroke="#E3D1A0" stroke-width="1.4" fill="none"/>
<path d="M125 1607.7V1701M120.2 1701H129.8" stroke="#E3D1A0" stroke-width="1.4" fill="none"/>
<rect x="115.7" y="1541" width="18.7" height="66.7" fill="#E3D1A0" />
<path d="M145.7 1469h0M142.3 1541.7h0M143 1576h0M141 1607.3h0M141.7 1701h0" stroke="#E3D1A0" stroke-width="7.4" stroke-linecap="square" fill="none"/>
<path d="M115.7 1579.3L152.7 1579.3" stroke="#222" stroke-width="1.7" fill="none" />
<rect x="162.7" y="1602" width="18.3" height="4.7" fill="#C99B32" />
<path d="M171.3 1592.3h0M191.7 1592.3h0M190 1602.7h0M189 1606.7h0M171.3 1703.3h0M190.7 1703.3h0" stroke="#C99B32" stroke-width="7.4" stroke-linecap="square" fill="none"/>
<path d="M163.3 1622L199.3 1622" stroke="#222" stroke-width="1.7" fill="none" />
<path d="M242 1572.3V1581.7M237.2 1581.7H246.8" stroke="#F5E3A1" stroke-width="1.4" fill="none"/>
<rect x="232.7" y="1552" width="18.7" height="20.3" fill="#F5E3A1" />
<path d="M241.3 1466.7h0M259 1466.7h0M259 1552.3h0M261.7 1555h0M257.3 1571.7h0M262 1581.3h0" stroke="#F5E3A1" stroke-width="7.4" stroke-linecap="square" fill="none"/>
<path d="M233.3 1545.7L269.3 1545.7" stroke="#222" stroke-width="1.7" fill="none" />
<path d="M288.7 1572.3V1581.7M283.9 1581.7H293.4" stroke="#ECC511" stroke-width="1.4" fill="none"/>
<rect x="279.3" y="1552" width="19" height="20.3" fill="#ECC511" />
<path d="M288.3 1466.7h0M306.3 1466.7h0M307 1552.3h0M307.7 1555h0M307.7 1571.7h0M308.7 1581.3h0" stroke="#ECC511" stroke-width="7.4" stroke-linecap="square" fill="none"/>
<path d="M280 1545.7L316.3 1545.7" stroke="#222" stroke-width="1.7" fill="none" />
<path d="M358.7 1651.7V1670.7M353.9 1670.7H363.4" stroke="#BDD0EA" stroke-width="1.4" fill="none"/>
<rect x="349.3" y="1609.3" width="19" height="42.3" fill="#BDD0EA" />
<path d="M359 1520.3h0M377 1520.3h0M379 1609.3h0M377.7 1642.7h0M376.7 1651.3h0M380 1670.7h0" stroke="#BDD0EA" stroke-width="7.4" stroke-linecap="square" fill="none"/>
<path d="M350 1618.7L386.7 1618.7" stroke="#222" stroke-width="1.7" fill="none" />
<path d="M405.3 1649V1612.7M400.6 1612.7H410.1" stroke="#6FA8D8" stroke-width="1.4" fill="none"/>
<path d="M405.3 1711.7V1729.3M400.6 1729.3H410.1" stroke="#6FA8D8" stroke-width="1.4" fill="none"/>
<rect x="396" y="1649" width="19" height="62.7" fill="#6FA8D8" />
<path d="M422.7 1612.7h0M423.7 1649.3h0M423.7 1685.3h0M423 1711h0M426 1730h0" stroke="#6FA8D8" stroke-width="7.4" stroke-linecap="square" fill="none"/>
<path d="M396.7 1677.7L433.3 1677.7" stroke="#222" stroke-width="1.7" fill="none" />
<path d="M475.7 1566.7V1575M470.9 1575H480.4" stroke="#A2B7EE" stroke-width="1.4" fill="none"/>
<rect x="466.3" y="1524.3" width="18.7" height="42.3" fill="#A2B7EE" />
<path d="M475.7 1438h0M494 1438h0M496 1524h0M494 1534.3h0M494.7 1566h0M492.7 1575h0" stroke="#A2B7EE" stroke-width="7.4" stroke-linecap="square" fill="none"/>
<path d="M466.7 1527.7L503.3 1527.7" stroke="#222" stroke-width="1.7" fill="none" />
<path d="M522.3 1572.7V1601.7M517.6 1601.7H527.1" stroke="#3273E2" stroke-width="1.4" fill="none"/>
<rect x="513" y="1541" width="18.7" height="31.7" fill="#3273E2" />
<path d="M522.7 1485.7h0M541 1485.7h0M539 1541h0M540.3 1546h0M540 1572h0M539.7 1601.7h0" stroke="#3273E2" stroke-width="7.4" stroke-linecap="square" fill="none"/>
<path d="M513.7 1549.3L545 1549.3" stroke="#D5E2FA" stroke-width="1.7" fill="none" />
<path d="M592.3 1473V1449.3M587.6 1449.3H597.1" stroke="#DDD2E1" stroke-width="1.4" fill="none"/>
<path d="M592.3 1515.7V1572.3M587.6 1572.3H597.1" stroke="#DDD2E1" stroke-width="1.4" fill="none"/>
<rect x="583" y="1473" width="18.7" height="42.7" fill="#DDD2E1" />
<path d="M613.3 1449h0M611.3 1473.3h0M613.3 1508.3h0M611 1515h0M612 1572.3h0" stroke="#DDD2E1" stroke-width="7.4" stroke-linecap="square" fill="none"/>
<path d="M583.3 1503.7L620 1503.7" stroke="#222" stroke-width="1.7" fill="none" />
<path d="M639.3 1454.3V1442.7M634.6 1442.7H644.1" stroke="#B399CE" stroke-width="1.4" fill="none"/>
<path d="M639.3 1531.3V1570.7M634.6 1570.7H644.1" stroke="#B399CE" stroke-width="1.4" fill="none"/>
<rect x="630" y="1454.3" width="18.7" height="77" fill="#B399CE" />
<path d="M659 1442.7h0M658 1454.7h0M657 1484h0M656.7 1531h0M658 1571h0" stroke="#B399CE" stroke-width="7.4" stroke-linecap="square" fill="none"/>
<path d="M630 1496.7L666.7 1496.7" stroke="#222" stroke-width="1.7" fill="none" />
<linearGradient id="gd" gradientUnits="userSpaceOnUse" x1="578.3" y1="1430" x2="661.7" y2="1398.3"><stop offset="0" stop-color="#FFFFFF"/><stop offset="0.12" stop-color="#F6E3E9"/><stop offset="0.6" stop-color="#C06A86"/><stop offset="1" stop-color="#93103F"/></linearGradient>
<path d="M579.2 1432.3L651.1 1405.7L650.9 1410.7L661.7 1398.3L645.4 1396.2L648.9 1399.9L577.5 1427.7Z" fill="url(#gd)"/>
<text x="582.7" y="1390.2" font-size="28" textLength="58" lengthAdjust="spacingAndGlyphs" fill="#93103F">3.5%</text>
<text x="751.9" y="1360.9" font-size="37" textLength="23.5" lengthAdjust="spacingAndGlyphs" font-weight="bold" stroke="#000" stroke-width="1.3">e</text>
<text x="1046.7" y="1371.7" font-size="27.4" textLength="189.3" lengthAdjust="spacingAndGlyphs">Unseen-cancer</text>
<path d="M850 1403.3L850 1769" stroke="#000" stroke-width="1.7" fill="none" />
<path d="M838.7 1432L850 1432" stroke="#000" stroke-width="1.5" fill="none" />
<text x="827.3" y="1439.8" font-size="23.4" text-anchor="end" textLength="31.9" lengthAdjust="spacingAndGlyphs">0.5</text>
<path d="M838.7 1488L850 1488" stroke="#000" stroke-width="1.5" fill="none" />
<text x="827.3" y="1495.8" font-size="23.4" text-anchor="end" textLength="31.9" lengthAdjust="spacingAndGlyphs">0.4</text>
<path d="M838.7 1544L850 1544" stroke="#000" stroke-width="1.5" fill="none" />
<text x="827.3" y="1551.8" font-size="23.4" text-anchor="end" textLength="31.9" lengthAdjust="spacingAndGlyphs">0.3</text>
<path d="M838.7 1600L850 1600" stroke="#000" stroke-width="1.5" fill="none" />
<text x="827.3" y="1607.8" font-size="23.4" text-anchor="end" textLength="31.9" lengthAdjust="spacingAndGlyphs">0.2</text>
<path d="M838.7 1656L850 1656" stroke="#000" stroke-width="1.5" fill="none" />
<text x="827.3" y="1663.8" font-size="23.4" text-anchor="end" textLength="27.8" lengthAdjust="spacingAndGlyphs">0.1</text>
<path d="M838.7 1712.3L850 1712.3" stroke="#000" stroke-width="1.5" fill="none" />
<text x="827.3" y="1720.1" font-size="23.4" text-anchor="end" textLength="12.9" lengthAdjust="spacingAndGlyphs">0</text>
<path d="M838.7 1768.7L850 1768.7" stroke="#000" stroke-width="1.5" fill="none" />
<text x="827.3" y="1776.5" font-size="23.4" text-anchor="end" textLength="40.6" lengthAdjust="spacingAndGlyphs">−0.1</text>
<text x="775.4" y="1585.1" font-size="29.3" text-anchor="middle" textLength="51.5" lengthAdjust="spacingAndGlyphs" transform="rotate(-90 775.4 1585.1)">PCC</text>
<path d="M861.3 1768.7L954.7 1768.7" stroke="#000" stroke-width="1.7" fill="none" />
<text x="859" y="1802.3" font-size="27" textLength="99.3" lengthAdjust="spacingAndGlyphs">DeepCE</text>
<path d="M978 1768.7L1071.7 1768.7" stroke="#000" stroke-width="1.7" fill="none" />
<text x="986" y="1802.3" font-size="27" textLength="78" lengthAdjust="spacingAndGlyphs">CIGER</text>
<path d="M1095 1768.7L1188.3 1768.7" stroke="#000" stroke-width="1.7" fill="none" />
<text x="1106" y="1802.3" font-size="27" textLength="71.3" lengthAdjust="spacingAndGlyphs">PRnet</text>
<path d="M1211 1768.7L1305 1768.7" stroke="#000" stroke-width="1.7" fill="none" />
<text x="1194" y="1802.3" font-size="27" textLength="128.7" lengthAdjust="spacingAndGlyphs">TranSiGen</text>
<path d="M1327.7 1768.7L1421.7 1768.7" stroke="#000" stroke-width="1.7" fill="none" />
<text x="1341.7" y="1802.3" font-size="27" textLength="66" lengthAdjust="spacingAndGlyphs">XPert</text>
<path d="M875.7 1562.3V1538.7M870.9 1538.7H880.4" stroke="#E3D1A0" stroke-width="1.4" fill="none"/>
<path d="M875.7 1601.7V1655M870.9 1655H880.4" stroke="#E3D1A0" stroke-width="1.4" fill="none"/>
<rect x="866" y="1562.3" width="19" height="39.3" fill="#E3D1A0" />
<path d="M896.7 1538.3h0M891.7 1562.7h0M892.7 1601h0M893.3 1655h0" stroke="#E3D1A0" stroke-width="7.4" stroke-linecap="square" fill="none"/>
<path d="M866 1591.3L903.3 1591.3" stroke="#222" stroke-width="1.2" fill="none" />
<path d="M922.3 1560V1538.7M917.6 1538.7H927.1" stroke="#C99B32" stroke-width="1.4" fill="none"/>
<path d="M922.3 1635.3V1639.3M917.6 1639.3H927.1" stroke="#C99B32" stroke-width="1.4" fill="none"/>
<rect x="913" y="1560" width="18.7" height="75.3" fill="#C99B32" />
<path d="M941.3 1538.3h0M942 1560h0M941 1608.3h0M939 1634.3h0M940.7 1639.3h0" stroke="#C99B32" stroke-width="7.4" stroke-linecap="square" fill="none"/>
<path d="M913 1596.3L950 1596.3" stroke="#222" stroke-width="1.2" fill="none" />
<path d="M992.3 1589V1570M987.6 1570H997.1" stroke="#F5E3A1" stroke-width="1.4" fill="none"/>
<path d="M992.3 1609V1614M987.6 1614H997.1" stroke="#F5E3A1" stroke-width="1.4" fill="none"/>
<rect x="983" y="1589" width="18.7" height="20" fill="#F5E3A1" />
<path d="M1009.3 1570h0M1012 1589.3h0M1008.3 1600h0M1009.3 1608.3h0M1012 1614h0" stroke="#F5E3A1" stroke-width="7.4" stroke-linecap="square" fill="none"/>
<path d="M983 1596.3L1020 1596.3" stroke="#222" stroke-width="1.2" fill="none" />
<path d="M1039 1589V1570M1034.2 1570H1043.8" stroke="#ECC511" stroke-width="1.4" fill="none"/>
<path d="M1039 1609V1614M1034.2 1614H1043.8" stroke="#ECC511" stroke-width="1.4" fill="none"/>
<rect x="1029.3" y="1589" width="19" height="20" fill="#ECC511" />
<path d="M1056.7 1570h0M1058.3 1589.3h0M1057.7 1600h0M1058.3 1608.3h0M1059 1614h0" stroke="#ECC511" stroke-width="7.4" stroke-linecap="square" fill="none"/>
<path d="M1029.3 1596.3L1066.7 1596.3" stroke="#222" stroke-width="1.2" fill="none" />
<path d="M1108.7 1615V1577.7M1103.9 1577.7H1113.4" stroke="#BDD0EA" stroke-width="1.4" fill="none"/>
<path d="M1108.7 1651.3V1669.3M1103.9 1669.3H1113.4" stroke="#BDD0EA" stroke-width="1.4" fill="none"/>
<rect x="1099.3" y="1615" width="19" height="36.3" fill="#BDD0EA" />
<path d="M1126.7 1577.7h0M1127 1615.3h0M1127.7 1646.7h0M1129.7 1651.3h0M1128.7 1669.3h0" stroke="#BDD0EA" stroke-width="7.4" stroke-linecap="square" fill="none"/>
<path d="M1099.3 1632.3L1136.7 1632.3" stroke="#222" stroke-width="1.2" fill="none" />
<path d="M1155.3 1680V1670M1150.6 1670H1160.1" stroke="#6FA8D8" stroke-width="1.4" fill="none"/>
<path d="M1155.3 1711.7V1735M1150.6 1735H1160.1" stroke="#6FA8D8" stroke-width="1.4" fill="none"/>
<rect x="1146" y="1680" width="19" height="31.7" fill="#6FA8D8" />
<path d="M1173.7 1670h0M1173.7 1680.7h0M1172.7 1698.3h0M1172 1710.7h0M1176 1735h0" stroke="#6FA8D8" stroke-width="7.4" stroke-linecap="square" fill="none"/>
<path d="M1146 1699L1183.3 1699" stroke="#222" stroke-width="1.2" fill="none" />
<path d="M1225.3 1598.3V1601.7M1220.6 1601.7H1230.1" stroke="#A2B7EE" stroke-width="1.4" fill="none"/>
<rect x="1216" y="1559" width="18.7" height="39.3" fill="#A2B7EE" />
<path d="M1225.3 1470h0M1244 1470h0M1244.3 1559.3h0M1245.3 1582.7h0M1242.7 1597.3h0M1243.3 1601.7h0" stroke="#A2B7EE" stroke-width="7.4" stroke-linecap="square" fill="none"/>
<path d="M1216 1562.3L1253.3 1562.3" stroke="#222" stroke-width="1.2" fill="none" />
<rect x="1262.7" y="1565" width="19" height="33.3" fill="#3273E2" />
<path d="M1272 1451.7h0M1290.7 1451.7h0M1290 1565.7h0M1290.7 1576h0M1288.7 1597.7h0M1272 1655.7h0M1288.7 1655.7h0" stroke="#3273E2" stroke-width="7.4" stroke-linecap="square" fill="none"/>
<path d="M1263.3 1569.3L1281 1569.3" stroke="#D5E2FA" stroke-width="1.2" fill="none" />
<path d="M1342 1455.7V1450M1337.2 1450H1346.8" stroke="#DDD2E1" stroke-width="1.4" fill="none"/>
<path d="M1342 1566.7V1575M1337.2 1575H1346.8" stroke="#DDD2E1" stroke-width="1.4" fill="none"/>
<rect x="1332.7" y="1455.7" width="18.7" height="111" fill="#DDD2E1" />
<path d="M1362.7 1449.7h0M1360.7 1456h0M1363.3 1550h0M1360.3 1566h0M1361 1575h0" stroke="#DDD2E1" stroke-width="7.4" stroke-linecap="square" fill="none"/>
<path d="M1332.7 1519.3L1370 1519.3" stroke="#222" stroke-width="1.2" fill="none" />
<path d="M1388.7 1459.3V1431.7M1383.9 1431.7H1393.4" stroke="#B399CE" stroke-width="1.4" fill="none"/>
<path d="M1388.7 1540.7V1542.7M1383.9 1542.7H1393.4" stroke="#B399CE" stroke-width="1.4" fill="none"/>
<rect x="1379" y="1459.3" width="19.3" height="81.3" fill="#B399CE" />
<path d="M1408.3 1431.3h0M1407 1460h0M1407.7 1535h0M1406.3 1540h0M1406 1542.7h0" stroke="#B399CE" stroke-width="7.4" stroke-linecap="square" fill="none"/>
<path d="M1379 1502L1416.7 1502" stroke="#222" stroke-width="1.2" fill="none" />
<linearGradient id="ge" gradientUnits="userSpaceOnUse" x1="1326.7" y1="1435" x2="1405.7" y2="1396"><stop offset="0" stop-color="#FFFFFF"/><stop offset="0.12" stop-color="#F6E3E9"/><stop offset="0.6" stop-color="#C06A86"/><stop offset="1" stop-color="#93103F"/></linearGradient>
<path d="M1327.8 1437.2L1395.9 1404.3L1396.1 1409.4L1405.7 1396L1389.2 1395.5L1393.1 1398.7L1325.6 1432.8Z" fill="url(#ge)"/>
<text x="1325.7" y="1385.7" font-size="28" textLength="72.7" lengthAdjust="spacingAndGlyphs" fill="#93103F">9.01%</text>
<text x="1491.8" y="719.2" font-size="37" textLength="14" lengthAdjust="spacingAndGlyphs" font-weight="bold" stroke="#000" stroke-width="1.3">f</text>
<text x="1679" y="719.9" font-size="27.4" text-anchor="middle" textLength="66.6" lengthAdjust="spacingAndGlyphs">CDK1</text>
<text x="1868.7" y="719.9" font-size="27.4" text-anchor="middle" textLength="79" lengthAdjust="spacingAndGlyphs">BUB1B</text>
<text x="1584.2" y="755.4" font-size="23.4" text-anchor="end" textLength="12.9" lengthAdjust="spacingAndGlyphs">4</text>
<text x="1584.2" y="819.9" font-size="23.4" text-anchor="end" textLength="12.9" lengthAdjust="spacingAndGlyphs">2</text>
<text x="1584.2" y="884.5" font-size="23.4" text-anchor="end" textLength="12.9" lengthAdjust="spacingAndGlyphs">0</text>
<text x="1584.2" y="949" font-size="23.4" text-anchor="end" textLength="25.7" lengthAdjust="spacingAndGlyphs">−2</text>
<text x="1584.2" y="1013.6" font-size="23.4" text-anchor="end" textLength="25.7" lengthAdjust="spacingAndGlyphs">−4</text>
<text x="1584.2" y="1078.2" font-size="23.4" text-anchor="end" textLength="25.7" lengthAdjust="spacingAndGlyphs">−6</text>
<text transform="translate(1531.2 1034.3) rotate(-90)" font-size="29" textLength="224" lengthAdjust="spacingAndGlyphs">ΔExpression (x<tspan font-size="19.3" dy="7">deg</tspan><tspan dy="-7">)</tspan></text>
<path d="M1635.5 763.7L1635.5 765L1635.5 766.3L1635.5 767.6L1635.5 768.9L1635.5 770.2L1635.5 771.5L1635.5 772.8L1635.5 774.1L1635.5 775.5L1635.5 776.8L1635.5 778.1L1635.4 779.4L1635.4 780.7L1635.4 782L1635.4 783.3L1635.4 784.6L1635.4 786L1635.4 787.3L1635.4 788.6L1635.4 789.9L1635.4 791.2L1635.4 792.5L1635.4 793.8L1635.4 795.1L1635.4 796.4L1635.4 797.7L1635.4 799L1635.4 800.3L1635.4 801.7L1635.4 803L1635.4 804.3L1635.4 805.6L1635.4 806.9L1635.4 808.2L1635.3 809.5L1635.3 810.8L1635.3 812.1L1635.3 813.4L1635.3 814.7L1635.2 816L1635.2 817.3L1635.2 818.6L1635.1 819.9L1635.1 821.2L1635 822.5L1634.9 823.8L1634.8 825.1L1634.7 826.4L1634.6 827.7L1634.4 829L1634.3 830.3L1634 831.6L1633.8 832.9L1633.4 834.2L1633 835.5L1632.6 836.8L1632.1 838.1L1631.6 839.4L1631 840.7L1630.4 842L1629.8 843.3L1629.2 844.6L1628.6 845.9L1628 847.2L1627.4 848.6L1626.8 849.9L1626.1 851.2L1625.5 852.5L1624.8 853.8L1624.1 855.1L1623.5 856.4L1622.8 857.7L1622.1 859L1621.5 860.3L1620.8 861.6L1620.1 862.9L1619.4 864.2L1618.7 865.5L1618 866.8L1617.3 868.1L1616.6 869.4L1616 870.7L1615.5 872L1615 873.3L1614.5 874.7L1614.2 876.1L1614 877.5L1613.8 878.9L1613.7 880.3L1613.6 881.7L1613.4 883.1L1613.4 884.4L1613.4 885.8L1613.5 887.1L1613.7 888.5L1613.9 889.9L1614.1 891.2L1614.4 892.6L1614.7 893.9L1615 895.3L1615.3 896.6L1615.7 898L1616.1 899.4L1616.4 900.7L1616.9 902.1L1617.3 903.5L1617.7 904.9L1618.2 906.3L1618.7 907.6L1619.1 909L1619.6 910.4L1620 911.8L1620.4 913.2L1620.8 914.6L1621.2 915.9L1621.6 917.3L1622 918.6L1622.3 920L1622.7 921.3L1623.1 922.7L1623.4 924.1L1623.8 925.4L1624.1 926.8L1624.5 928.1L1624.8 929.5L1625.2 930.8L1625.5 932.2L1625.8 933.6L1626.2 934.9L1626.5 936.3L1626.8 937.6L1627.1 939L1627.4 940.3L1627.7 941.7L1628 943.1L1628.3 944.4L1628.5 945.8L1628.8 947.1L1629.1 948.5L1629.3 949.8L1629.6 951.2L1629.9 952.6L1630.1 953.9L1630.3 955.3L1630.6 956.6L1630.8 958L1631 959.3L1631.3 960.7L1631.5 962.1L1631.7 963.4L1631.9 964.8L1632.1 966.1L1632.3 967.5L1632.5 968.8L1632.7 970.2L1632.9 971.6L1633.1 972.9L1633.2 974.3L1633.4 975.6L1633.6 977L1633.7 978.3L1633.9 979.7L1634 981L1634.1 982.3L1634.2 983.6L1634.3 984.9L1634.4 986.2L1634.5 987.5L1634.6 988.8L1634.7 990.1L1634.8 991.4L1634.9 992.7L1634.9 994L1635 995.3L1635.1 996.6L1635.1 997.9L1635.2 999.2L1635.2 1000.6L1635.2 1001.9L1635.3 1003.2L1635.3 1004.5L1635.3 1005.9L1635.4 1007.2L1635.4 1008.5L1635.4 1009.9L1635.4 1011.2L1635.4 1012.5L1635.4 1013.8L1635.4 1015.2L1635.4 1016.5L1635.4 1017.8L1635.4 1019.1L1635.4 1020.5L1635.4 1021.8L1635.4 1023.1L1635.5 1024.4L1635.5 1025.7L1635.5 1027.1L1635.5 1028.4L1635.5 1029.7L1635.5 1031L1635.5 1032.3L1635.5 1033.6L1635.5 1034.9L1635.5 1036.2L1635.5 1037.6L1635.5 1038.9L1635.5 1040.2L1635.5 1041.5L1635.5 1042.8L1635.5 1044.1L1635.5 1045.4L1635.5 1046.7L1635.5 1048L1635.5 1049.4L1635.5 1050.7L1635.5 1052L1635.5 1053.3L1635.5 1054.6L1635.7 1054.6L1635.7 1053.3L1635.7 1052L1635.7 1050.7L1635.7 1049.4L1635.7 1048L1635.7 1046.7L1635.7 1045.4L1635.7 1044.1L1635.7 1042.8L1635.7 1041.5L1635.7 1040.2L1635.7 1038.9L1635.7 1037.6L1635.7 1036.2L1635.7 1034.9L1635.7 1033.6L1635.7 1032.3L1635.7 1031L1635.7 1029.7L1635.7 1028.4L1635.7 1027.1L1635.7 1025.7L1635.7 1024.4L1635.7 1023.1L1635.8 1021.8L1635.8 1020.5L1635.8 1019.1L1635.8 1017.8L1635.8 1016.5L1635.8 1015.2L1635.8 1013.8L1635.8 1012.5L1635.8 1011.2L1635.8 1009.9L1635.8 1008.5L1635.8 1007.2L1635.9 1005.9L1635.9 1004.5L1635.9 1003.2L1635.9 1001.9L1636 1000.6L1636 999.2L1636.1 997.9L1636.1 996.6L1636.2 995.3L1636.3 994L1636.3 992.7L1636.4 991.4L1636.5 990.1L1636.6 988.8L1636.6 987.5L1636.7 986.2L1636.8 984.9L1637 983.6L1637.1 982.3L1637.2 981L1637.3 979.7L1637.5 978.3L1637.6 977L1637.8 975.6L1638 974.3L1638.1 972.9L1638.3 971.6L1638.5 970.2L1638.7 968.8L1638.9 967.5L1639.1 966.1L1639.3 964.8L1639.5 963.4L1639.7 962.1L1639.9 960.7L1640.1 959.3L1640.4 958L1640.6 956.6L1640.8 955.3L1641.1 953.9L1641.3 952.6L1641.6 951.2L1641.8 949.8L1642.1 948.5L1642.4 947.1L1642.7 945.8L1642.9 944.4L1643.2 943.1L1643.5 941.7L1643.8 940.3L1644.1 939L1644.4 937.6L1644.7 936.3L1645 934.9L1645.4 933.6L1645.7 932.2L1646 930.8L1646.4 929.5L1646.7 928.1L1647 926.8L1647.4 925.4L1647.8 924.1L1648.1 922.7L1648.5 921.3L1648.9 920L1649.2 918.6L1649.6 917.3L1650 915.9L1650.4 914.6L1650.8 913.2L1651.2 911.8L1651.6 910.4L1652.1 909L1652.5 907.6L1653 906.3L1653.4 904.9L1653.9 903.5L1654.3 902.1L1654.7 900.7L1655.1 899.4L1655.5 898L1655.8 896.6L1656.2 895.3L1656.5 893.9L1656.8 892.6L1657 891.2L1657.3 889.9L1657.5 888.5L1657.7 887.1L1657.8 885.8L1657.8 884.4L1657.7 883.1L1657.6 881.7L1657.5 880.3L1657.4 878.9L1657.2 877.5L1657 876.1L1656.7 874.7L1656.2 873.3L1655.7 872L1655.2 870.7L1654.6 869.4L1653.9 868.1L1653.2 866.8L1652.5 865.5L1651.8 864.2L1651.1 862.9L1650.4 861.6L1649.7 860.3L1649.1 859L1648.4 857.7L1647.7 856.4L1647.1 855.1L1646.4 853.8L1645.7 852.5L1645.1 851.2L1644.4 849.9L1643.8 848.6L1643.2 847.2L1642.6 845.9L1642 844.6L1641.4 843.3L1640.8 842L1640.2 840.7L1639.6 839.4L1639.1 838.1L1638.6 836.8L1638.2 835.5L1637.8 834.2L1637.4 832.9L1637.2 831.6L1636.9 830.3L1636.7 829L1636.6 827.7L1636.5 826.4L1636.4 825.1L1636.3 823.8L1636.2 822.5L1636.1 821.2L1636.1 819.9L1636 818.6L1636 817.3L1635.9 816L1635.9 814.7L1635.9 813.4L1635.9 812.1L1635.9 810.8L1635.8 809.5L1635.8 808.2L1635.8 806.9L1635.8 805.6L1635.8 804.3L1635.8 803L1635.8 801.7L1635.8 800.3L1635.8 799L1635.8 797.7L1635.8 796.4L1635.8 795.1L1635.8 793.8L1635.8 792.5L1635.8 791.2L1635.8 789.9L1635.8 788.6L1635.8 787.3L1635.8 786L1635.8 784.6L1635.8 783.3L1635.8 782L1635.7 780.7L1635.7 779.4L1635.7 778.1L1635.7 776.8L1635.7 775.5L1635.7 774.1L1635.7 772.8L1635.7 771.5L1635.7 770.2L1635.7 768.9L1635.7 767.6L1635.7 766.3L1635.7 765L1635.7 763.7Z" fill="#ECEB9E" stroke="#4a4a4a" stroke-width="1.3" stroke-linejoin="round"/>
<path d="M1635.6 764.7L1635.6 1053.5" stroke="#555" stroke-width="0.9" fill="none" />
<path d="M1635.6 879.8L1635.6 947.1" stroke="#555" stroke-width="1.8" fill="none" />
<path d="M1632.3 897.8L1638.9 897.8" stroke="#fff" stroke-width="1.5" fill="none" />
<path d="M1678.7 812.5L1678.7 813.9L1678.7 815.3L1678.6 816.7L1678.6 818L1678.6 819.4L1678.6 820.8L1678.6 822.2L1678.6 823.6L1678.5 824.9L1678.5 826.3L1678.5 827.7L1678.4 829.1L1678.4 830.4L1678.4 831.8L1678.4 833.1L1678.3 834.5L1678.2 835.8L1678.1 837.2L1677.9 838.6L1677.7 840L1677.4 841.5L1677 842.9L1676.6 844.4L1676.1 845.8L1675.5 847.2L1675 848.6L1674.4 849.9L1673.8 851.2L1673.2 852.5L1672.5 853.8L1671.9 855.1L1671.2 856.4L1670.5 857.7L1669.8 859L1669 860.3L1668.3 861.6L1667.5 862.9L1666.6 864.2L1665.8 865.5L1664.9 866.8L1664.1 868.1L1663.2 869.4L1662.4 870.7L1661.7 872L1661 873.3L1660.3 874.8L1659.8 876.2L1659.3 877.6L1658.9 879.1L1658.5 880.5L1658.2 882L1657.9 883.4L1657.6 884.9L1657.4 886.3L1657.3 887.8L1657.2 889.2L1657.1 890.7L1657 892.1L1657 893.6L1657 895L1657.1 896.5L1657.3 897.9L1657.5 899.4L1657.9 900.7L1658.3 902.1L1658.7 903.4L1659.2 904.8L1659.8 906.1L1660.3 907.5L1660.9 908.9L1661.4 910.2L1662 911.6L1662.6 913L1663.2 914.4L1663.9 915.7L1664.5 917.1L1665.2 918.5L1665.8 919.9L1666.4 921.3L1666.9 922.7L1667.5 924L1667.9 925.4L1668.4 926.8L1668.8 928.1L1669.2 929.5L1669.6 930.8L1670 932.2L1670.3 933.6L1670.7 934.9L1671 936.3L1671.3 937.6L1671.6 939L1671.9 940.3L1672.2 941.7L1672.5 943.1L1672.8 944.4L1673.1 945.8L1673.4 947.1L1673.6 948.5L1673.9 949.8L1674.1 951.2L1674.4 952.6L1674.6 953.9L1674.8 955.3L1675 956.6L1675.2 958L1675.4 959.3L1675.6 960.7L1675.8 962.1L1676 963.4L1676.2 964.8L1676.3 966.1L1676.5 967.5L1676.6 968.8L1676.8 970.2L1676.9 971.6L1677 972.9L1677.2 974.3L1677.3 975.6L1677.4 977L1677.5 978.3L1677.6 979.7L1677.6 981.1L1677.7 982.4L1677.8 983.8L1677.9 985.1L1677.9 986.5L1678 987.8L1678.1 989.2L1678.2 990.6L1678.2 991.9L1678.3 993.2L1678.3 994.6L1678.4 995.9L1678.4 997.2L1678.4 998.6L1678.5 999.9L1678.5 1001.2L1678.5 1002.6L1678.5 1003.9L1678.5 1005.3L1678.6 1006.6L1678.6 1007.9L1678.6 1009.2L1678.6 1010.5L1678.6 1011.8L1678.6 1013.1L1678.7 1014.4L1678.7 1015.7L1678.7 1017L1678.7 1018.3L1678.7 1019.6L1678.7 1021L1678.7 1022.3L1678.7 1023.6L1678.9 1023.6L1678.9 1022.3L1678.9 1021L1678.9 1019.6L1678.9 1018.3L1678.9 1017L1678.9 1015.7L1679 1014.4L1679 1013.1L1679 1011.8L1679 1010.5L1679 1009.2L1679 1007.9L1679 1006.6L1679.1 1005.3L1679.1 1003.9L1679.1 1002.6L1679.1 1001.2L1679.2 999.9L1679.2 998.6L1679.2 997.2L1679.2 995.9L1679.3 994.6L1679.3 993.2L1679.4 991.9L1679.5 990.6L1679.5 989.2L1679.6 987.8L1679.7 986.5L1679.7 985.1L1679.8 983.8L1679.9 982.4L1680 981.1L1680.1 979.7L1680.1 978.3L1680.2 977L1680.3 975.6L1680.5 974.3L1680.6 972.9L1680.7 971.6L1680.8 970.2L1681 968.8L1681.1 967.5L1681.3 966.1L1681.4 964.8L1681.6 963.4L1681.8 962.1L1682 960.7L1682.2 959.3L1682.4 958L1682.6 956.6L1682.8 955.3L1683 953.9L1683.2 952.6L1683.5 951.2L1683.7 949.8L1684 948.5L1684.2 947.1L1684.5 945.8L1684.8 944.4L1685.1 943.1L1685.4 941.7L1685.7 940.3L1686 939L1686.3 937.6L1686.6 936.3L1686.9 934.9L1687.3 933.6L1687.7 932.2L1688 930.8L1688.4 929.5L1688.8 928.1L1689.2 926.8L1689.7 925.4L1690.1 924L1690.7 922.7L1691.2 921.3L1691.8 919.9L1692.5 918.5L1693.1 917.1L1693.7 915.7L1694.4 914.4L1695 913L1695.6 911.6L1696.2 910.2L1696.7 908.9L1697.3 907.5L1697.8 906.1L1698.4 904.8L1698.9 903.4L1699.3 902.1L1699.7 900.7L1700.1 899.4L1700.3 897.9L1700.5 896.5L1700.6 895L1700.6 893.6L1700.6 892.1L1700.5 890.7L1700.4 889.2L1700.3 887.8L1700.2 886.3L1700 884.9L1699.7 883.4L1699.4 882L1699.1 880.5L1698.7 879.1L1698.3 877.6L1697.8 876.2L1697.3 874.8L1696.6 873.3L1695.9 872L1695.2 870.7L1694.4 869.4L1693.5 868.1L1692.7 866.8L1691.8 865.5L1691 864.2L1690.1 862.9L1689.3 861.6L1688.6 860.3L1687.9 859L1687.1 857.7L1686.4 856.4L1685.7 855.1L1685.1 853.8L1684.4 852.5L1683.8 851.2L1683.2 849.9L1682.6 848.6L1682.1 847.2L1681.5 845.8L1681 844.4L1680.6 842.9L1680.2 841.5L1679.9 840L1679.7 838.6L1679.5 837.2L1679.4 835.8L1679.3 834.5L1679.2 833.1L1679.2 831.8L1679.2 830.4L1679.2 829.1L1679.1 827.7L1679.1 826.3L1679.1 824.9L1679 823.6L1679 822.2L1679 820.8L1679 819.4L1679 818L1679 816.7L1678.9 815.3L1678.9 813.9L1678.9 812.5Z" fill="#E6D4EE" stroke="#4a4a4a" stroke-width="1.3" stroke-linejoin="round"/>
<path d="M1678.8 813.6L1678.8 1022" stroke="#555" stroke-width="0.9" fill="none" />
<path d="M1678.8 879.8L1678.8 968.8" stroke="#555" stroke-width="1.8" fill="none" />
<path d="M1675.5 903.3L1682.1 903.3" stroke="#fff" stroke-width="1.5" fill="none" />
<path d="M1722.1 806.4L1722.1 807.8L1722.1 809.1L1722.1 810.4L1722.1 811.7L1722.1 813.1L1722.1 814.4L1722 815.7L1722 817.1L1722 818.4L1722 819.7L1722 821.1L1722 822.4L1722 823.7L1721.9 825L1721.9 826.4L1721.9 827.7L1721.9 829.1L1721.9 830.4L1721.9 831.8L1721.9 833.1L1721.9 834.5L1721.8 835.8L1721.7 837.2L1721.6 838.6L1721.4 840L1721.2 841.5L1721 842.9L1720.7 844.4L1720.2 845.8L1719.6 847.2L1718.9 848.7L1717.9 850.1L1716.9 851.6L1715.8 853L1714.7 854.5L1713.5 855.9L1712.4 857.4L1711.2 858.8L1710 860.3L1708.8 861.7L1707.6 863.2L1706.6 864.6L1705.7 866.1L1704.9 867.5L1704.1 869L1703.4 870.4L1702.8 871.9L1702.3 873.3L1701.8 874.8L1701.4 876.2L1701.1 877.6L1700.8 879.1L1700.6 880.5L1700.5 882L1700.5 883.4L1700.6 884.9L1700.8 886.3L1701 887.8L1701.2 889.2L1701.4 890.7L1701.6 892.1L1701.8 893.6L1702 895L1702.2 896.5L1702.4 897.9L1702.7 899.4L1702.9 900.7L1703.2 902.1L1703.4 903.4L1703.7 904.8L1703.9 906.1L1704.2 907.5L1704.5 908.9L1704.9 910.2L1705.2 911.6L1705.6 913L1706.1 914.4L1706.5 915.7L1707 917.1L1707.4 918.5L1707.9 919.9L1708.3 921.3L1708.8 922.7L1709.2 924L1709.6 925.4L1710 926.8L1710.4 928.1L1710.8 929.5L1711.2 930.8L1711.6 932.2L1712 933.6L1712.4 934.9L1712.8 936.3L1713.2 937.6L1713.6 939L1714 940.3L1714.3 941.7L1714.7 943.1L1715 944.4L1715.4 945.8L1715.7 947.1L1716 948.5L1716.4 949.8L1716.7 951.2L1717 952.6L1717.3 953.9L1717.6 955.3L1717.9 956.6L1718.2 958L1718.4 959.3L1718.7 960.7L1719 962.1L1719.2 963.4L1719.4 964.8L1719.7 966.1L1719.9 967.5L1720.1 968.8L1720.2 970.2L1720.4 971.6L1720.5 972.9L1720.7 974.3L1720.8 975.6L1720.9 977L1721 978.3L1721.1 979.7L1721.1 981.1L1721.2 982.4L1721.3 983.8L1721.3 985.1L1721.4 986.5L1721.5 987.8L1721.5 989.2L1721.6 990.6L1721.6 991.9L1721.7 993.3L1721.7 994.6L1721.8 996L1721.8 997.3L1721.8 998.7L1721.9 1000.1L1721.9 1001.4L1721.9 1002.8L1721.9 1004.1L1721.9 1005.5L1722 1006.8L1722 1008.2L1722 1009.6L1722 1010.9L1722 1012.3L1722 1013.6L1722 1015L1722.1 1016.3L1722.1 1017.7L1722.1 1019.1L1722.1 1020.4L1722.1 1021.8L1722.1 1023.1L1722.1 1024.5L1722.1 1025.8L1722.1 1027.2L1722.1 1028.5L1722.1 1029.9L1722.1 1031.3L1722.1 1032.6L1722.1 1034L1722.1 1035.3L1722.1 1036.7L1722.1 1038L1722.1 1039.4L1722.3 1039.4L1722.3 1038L1722.3 1036.7L1722.4 1035.3L1722.4 1034L1722.4 1032.6L1722.4 1031.3L1722.4 1029.9L1722.4 1028.5L1722.4 1027.2L1722.4 1025.8L1722.4 1024.5L1722.4 1023.1L1722.4 1021.8L1722.4 1020.4L1722.4 1019.1L1722.4 1017.7L1722.4 1016.3L1722.4 1015L1722.4 1013.6L1722.4 1012.3L1722.5 1010.9L1722.5 1009.6L1722.5 1008.2L1722.5 1006.8L1722.5 1005.5L1722.5 1004.1L1722.6 1002.8L1722.6 1001.4L1722.6 1000.1L1722.6 998.7L1722.7 997.3L1722.7 996L1722.7 994.6L1722.8 993.3L1722.8 991.9L1722.9 990.6L1722.9 989.2L1723 987.8L1723.1 986.5L1723.1 985.1L1723.2 983.8L1723.2 982.4L1723.3 981.1L1723.4 979.7L1723.5 978.3L1723.6 977L1723.7 975.6L1723.8 974.3L1723.9 972.9L1724.1 971.6L1724.2 970.2L1724.4 968.8L1724.6 967.5L1724.8 966.1L1725 964.8L1725.2 963.4L1725.5 962.1L1725.7 960.7L1726 959.3L1726.3 958L1726.6 956.6L1726.9 955.3L1727.2 953.9L1727.5 952.6L1727.8 951.2L1728.1 949.8L1728.4 948.5L1728.7 947.1L1729.1 945.8L1729.4 944.4L1729.8 943.1L1730.1 941.7L1730.5 940.3L1730.9 939L1731.3 937.6L1731.6 936.3L1732 934.9L1732.4 933.6L1732.8 932.2L1733.2 930.8L1733.6 929.5L1734 928.1L1734.4 926.8L1734.8 925.4L1735.2 924L1735.7 922.7L1736.1 921.3L1736.6 919.9L1737 918.5L1737.5 917.1L1737.9 915.7L1738.4 914.4L1738.8 913L1739.2 911.6L1739.6 910.2L1739.9 908.9L1740.3 907.5L1740.5 906.1L1740.8 904.8L1741.1 903.4L1741.3 902.1L1741.5 900.7L1741.8 899.4L1742 897.9L1742.3 896.5L1742.5 895L1742.7 893.6L1742.9 892.1L1743.1 890.7L1743.3 889.2L1743.5 887.8L1743.7 886.3L1743.9 884.9L1744 883.4L1743.9 882L1743.8 880.5L1743.7 879.1L1743.4 877.6L1743.1 876.2L1742.7 874.8L1742.2 873.3L1741.7 871.9L1741 870.4L1740.4 869L1739.6 867.5L1738.8 866.1L1737.9 864.6L1736.8 863.2L1735.7 861.7L1734.5 860.3L1733.3 858.8L1732.1 857.4L1730.9 855.9L1729.8 854.5L1728.7 853L1727.6 851.6L1726.5 850.1L1725.6 848.7L1724.8 847.2L1724.2 845.8L1723.8 844.4L1723.5 842.9L1723.2 841.5L1723.1 840L1722.9 838.6L1722.7 837.2L1722.7 835.8L1722.6 834.5L1722.6 833.1L1722.6 831.8L1722.6 830.4L1722.6 829.1L1722.6 827.7L1722.5 826.4L1722.5 825L1722.5 823.7L1722.5 822.4L1722.5 821.1L1722.5 819.7L1722.4 818.4L1722.4 817.1L1722.4 815.7L1722.4 814.4L1722.4 813.1L1722.4 811.7L1722.4 810.4L1722.4 809.1L1722.4 807.8L1722.3 806.4Z" fill="#B793C1" stroke="#4a4a4a" stroke-width="1.3" stroke-linejoin="round"/>
<path d="M1722.2 807.5L1722.2 1038.3" stroke="#555" stroke-width="0.9" fill="none" />
<path d="M1722.2 877.6L1722.2 964.5" stroke="#555" stroke-width="1.8" fill="none" />
<path d="M1718.9 901.5L1725.5 901.5" stroke="#fff" stroke-width="1.5" fill="none" />
<path d="M1825.5 825.1L1825.4 826.4L1825.4 827.7L1825.3 829L1825.2 830.3L1825.2 831.6L1825.1 832.9L1824.9 834.2L1824.8 835.7L1824.6 837.1L1824.4 838.6L1824.1 840L1823.8 841.5L1823.4 842.9L1823.1 844.2L1822.7 845.5L1822.3 846.8L1821.9 848.1L1821.5 849.4L1821.1 850.7L1820.6 852L1820.1 853.3L1819.6 854.6L1819.1 855.9L1818.5 857.2L1817.9 858.5L1817.3 859.8L1816.6 861.1L1816 862.4L1815.3 863.8L1814.6 865.1L1813.9 866.4L1813.2 867.7L1812.6 869L1811.9 870.3L1811.2 871.6L1810.5 872.9L1809.8 874.2L1809.1 875.5L1808.4 876.8L1807.8 878.1L1807.2 879.4L1806.6 880.7L1806.1 882L1805.6 883.3L1805.1 884.7L1804.8 886.1L1804.4 887.4L1804.1 888.8L1803.9 890.1L1803.6 891.5L1803.4 892.8L1803.3 894.2L1803.4 895.6L1803.5 896.9L1803.9 898.3L1804.3 899.7L1804.9 901.1L1805.4 902.5L1806 903.9L1806.7 905.3L1807.4 906.6L1808.2 908L1809.1 909.4L1810 910.8L1811 912.1L1812 913.5L1813 914.8L1814 916.2L1814.9 917.5L1815.8 918.9L1816.7 920.3L1817.6 921.6L1818.4 923L1819.2 924.3L1820 925.7L1820.7 927L1821.2 928.4L1821.7 929.8L1822 931.1L1822.3 932.4L1822.5 933.8L1822.7 935.1L1822.9 936.4L1823 937.8L1823.1 939.1L1823.2 940.4L1823.2 941.8L1823.3 943.1L1823.3 944.5L1823.4 945.8L1823.4 947.1L1823.5 948.5L1823.5 949.8L1823.5 951.2L1823.5 952.6L1823.5 953.9L1823.5 955.3L1823.5 956.6L1823.5 958L1823.5 959.3L1823.4 960.7L1823.4 962.1L1823.4 963.4L1823.4 964.8L1823.4 966.1L1823.4 967.5L1823.4 968.8L1823.5 970.2L1823.5 971.6L1823.5 972.9L1823.6 974.3L1823.6 975.6L1823.7 977L1823.7 978.3L1823.8 979.7L1823.8 981.1L1823.9 982.4L1824 983.8L1824 985.1L1824.1 986.5L1824.2 987.8L1824.2 989.2L1824.3 990.6L1824.4 991.9L1824.5 993.2L1824.6 994.5L1824.7 995.8L1824.8 997.1L1824.9 998.4L1825 999.7L1825 1001L1825.1 1002.3L1825.2 1003.6L1825.2 1004.9L1825.2 1006.2L1825.3 1007.5L1825.3 1008.9L1825.3 1010.2L1825.3 1011.5L1825.3 1012.8L1825.3 1014.2L1825.4 1015.5L1825.4 1016.8L1825.4 1018.1L1825.4 1019.4L1825.4 1020.8L1825.4 1022.1L1825.4 1023.4L1825.4 1024.7L1825.4 1026L1825.4 1027.4L1825.4 1028.7L1825.4 1030L1825.4 1031.3L1825.4 1032.7L1825.4 1034L1825.4 1035.3L1825.4 1036.6L1825.4 1038L1825.4 1039.3L1825.4 1040.6L1825.5 1041.9L1825.5 1043.3L1825.5 1044.6L1825.5 1045.9L1825.5 1047.2L1825.5 1048.6L1825.5 1049.9L1825.5 1051.2L1825.5 1052.6L1825.5 1053.9L1825.5 1055.2L1825.5 1056.5L1825.5 1057.9L1825.5 1059.2L1825.5 1060.5L1825.5 1061.8L1825.5 1063.2L1825.5 1064.5L1825.5 1065.8L1825.5 1067.1L1825.5 1068.5L1825.5 1069.8L1825.7 1069.8L1825.7 1068.5L1825.7 1067.1L1825.7 1065.8L1825.7 1064.5L1825.7 1063.2L1825.7 1061.8L1825.7 1060.5L1825.7 1059.2L1825.7 1057.9L1825.7 1056.5L1825.7 1055.2L1825.7 1053.9L1825.7 1052.6L1825.7 1051.2L1825.7 1049.9L1825.7 1048.6L1825.7 1047.2L1825.7 1045.9L1825.7 1044.6L1825.7 1043.3L1825.7 1041.9L1825.7 1040.6L1825.7 1039.3L1825.8 1038L1825.8 1036.6L1825.8 1035.3L1825.8 1034L1825.8 1032.7L1825.8 1031.3L1825.8 1030L1825.8 1028.7L1825.8 1027.4L1825.8 1026L1825.8 1024.7L1825.8 1023.4L1825.8 1022.1L1825.8 1020.8L1825.8 1019.4L1825.8 1018.1L1825.8 1016.8L1825.8 1015.5L1825.9 1014.2L1825.9 1012.8L1825.9 1011.5L1825.9 1010.2L1825.9 1008.9L1825.9 1007.5L1826 1006.2L1826 1004.9L1826 1003.6L1826.1 1002.3L1826.1 1001L1826.2 999.7L1826.3 998.4L1826.4 997.1L1826.5 995.8L1826.6 994.5L1826.7 993.2L1826.8 991.9L1826.9 990.6L1827 989.2L1827 987.8L1827.1 986.5L1827.2 985.1L1827.2 983.8L1827.3 982.4L1827.4 981.1L1827.4 979.7L1827.5 978.3L1827.5 977L1827.6 975.6L1827.6 974.3L1827.7 972.9L1827.7 971.6L1827.7 970.2L1827.8 968.8L1827.8 967.5L1827.8 966.1L1827.8 964.8L1827.8 963.4L1827.8 962.1L1827.7 960.7L1827.7 959.3L1827.7 958L1827.7 956.6L1827.7 955.3L1827.7 953.9L1827.7 952.6L1827.7 951.2L1827.7 949.8L1827.7 948.5L1827.8 947.1L1827.8 945.8L1827.9 944.5L1827.9 943.1L1828 941.8L1828 940.4L1828.1 939.1L1828.2 937.8L1828.3 936.4L1828.5 935.1L1828.7 933.8L1828.9 932.4L1829.2 931.1L1829.5 929.8L1829.9 928.4L1830.5 927L1831.2 925.7L1832 924.3L1832.8 923L1833.6 921.6L1834.5 920.3L1835.4 918.9L1836.3 917.5L1837.2 916.2L1838.2 914.8L1839.2 913.5L1840.2 912.1L1841.2 910.8L1842.1 909.4L1843 908L1843.7 906.6L1844.5 905.3L1845.1 903.9L1845.8 902.5L1846.3 901.1L1846.8 899.7L1847.3 898.3L1847.7 896.9L1847.8 895.6L1847.9 894.2L1847.7 892.8L1847.5 891.5L1847.3 890.1L1847.1 888.8L1846.8 887.4L1846.4 886.1L1846.1 884.7L1845.6 883.3L1845.1 882L1844.6 880.7L1844 879.4L1843.4 878.1L1842.8 876.8L1842.1 875.5L1841.4 874.2L1840.7 872.9L1840 871.6L1839.3 870.3L1838.6 869L1838 867.7L1837.3 866.4L1836.6 865.1L1835.9 863.8L1835.2 862.4L1834.6 861.1L1833.9 859.8L1833.3 858.5L1832.7 857.2L1832.1 855.9L1831.6 854.6L1831.1 853.3L1830.6 852L1830.1 850.7L1829.7 849.4L1829.3 848.1L1828.9 846.8L1828.5 845.5L1828.1 844.2L1827.8 842.9L1827.4 841.5L1827.1 840L1826.8 838.6L1826.6 837.1L1826.4 835.7L1826.2 834.2L1826.1 832.9L1826 831.6L1825.9 830.3L1825.9 829L1825.8 827.7L1825.8 826.4L1825.7 825.1Z" fill="#ECEB9E" stroke="#4a4a4a" stroke-width="1.3" stroke-linejoin="round"/>
<path d="M1825.6 851.6L1825.6 927.6" stroke="#555" stroke-width="0.9" fill="none" />
<path d="M1825.6 882L1825.6 910.2" stroke="#555" stroke-width="1.8" fill="none" />
<path d="M1822.3 896.8L1828.9 896.8" stroke="#fff" stroke-width="1.5" fill="none" />
<path d="M1868.7 824L1868.6 825.5L1868.6 826.9L1868.5 828.4L1868.4 829.8L1868.4 831.3L1868.3 832.8L1868.2 834.2L1868 835.7L1867.9 837.1L1867.8 838.6L1867.6 840L1867.4 841.5L1867.1 842.9L1866.7 844.2L1866.4 845.5L1866 846.8L1865.6 848.1L1865.1 849.4L1864.7 850.7L1864.2 852L1863.7 853.3L1863.2 854.6L1862.7 855.9L1862.2 857.2L1861.7 858.5L1861.1 859.8L1860.5 861.1L1859.9 862.4L1859.3 863.8L1858.7 865.1L1858.1 866.4L1857.5 867.7L1856.9 869L1856.2 870.3L1855.6 871.6L1854.9 872.9L1854.2 874.2L1853.5 875.5L1852.8 876.8L1852.1 878.1L1851.5 879.4L1850.9 880.7L1850.3 882L1849.8 883.3L1849.4 884.7L1849 886.1L1848.6 887.4L1848.3 888.8L1848 890.1L1847.8 891.5L1847.5 892.8L1847.3 894.2L1847.2 895.6L1847.2 897L1847.3 898.4L1847.5 899.8L1847.9 901.1L1848.3 902.4L1848.8 903.7L1849.3 905L1849.9 906.3L1850.5 907.6L1851.2 908.9L1851.9 910.2L1852.7 911.6L1853.5 912.9L1854.4 914.3L1855.4 915.6L1856.4 917L1857.3 918.4L1858.2 919.7L1859 921.1L1859.8 922.4L1860.5 923.7L1861.3 925L1862 926.3L1862.7 927.6L1863.3 928.9L1864 930.2L1864.6 931.5L1865.1 932.8L1865.5 934.1L1866 935.4L1866.3 936.7L1866.6 938L1866.9 939.3L1867.1 940.6L1867.3 941.9L1867.4 943.2L1867.5 944.5L1867.6 945.8L1867.7 947.1L1867.8 948.5L1867.8 949.8L1867.9 951.2L1867.9 952.6L1867.9 953.9L1867.9 955.3L1867.9 956.6L1867.9 958L1867.9 959.3L1867.8 960.7L1867.8 962.1L1867.8 963.4L1867.8 964.8L1867.7 966.1L1867.7 967.5L1867.7 968.8L1867.7 970.2L1867.7 971.6L1867.7 972.9L1867.7 974.3L1867.7 975.6L1867.7 977L1867.7 978.3L1867.7 979.7L1867.7 981.1L1867.7 982.4L1867.7 983.8L1867.7 985.1L1867.7 986.5L1867.7 987.8L1867.7 989.2L1867.7 990.6L1867.7 991.9L1867.8 993.2L1867.8 994.6L1867.9 995.9L1867.9 997.2L1868 998.6L1868 999.9L1868.1 1001.2L1868.2 1002.6L1868.2 1003.9L1868.3 1005.3L1868.3 1006.6L1868.4 1007.9L1868.4 1009.3L1868.5 1010.7L1868.5 1012.1L1868.6 1013.5L1868.6 1014.9L1868.7 1016.3L1868.7 1017.7L1868.9 1017.7L1869 1016.3L1869 1014.9L1869.1 1013.5L1869.1 1012.1L1869.1 1010.7L1869.2 1009.3L1869.2 1007.9L1869.3 1006.6L1869.3 1005.3L1869.4 1003.9L1869.5 1002.6L1869.5 1001.2L1869.6 999.9L1869.6 998.6L1869.7 997.2L1869.7 995.9L1869.8 994.6L1869.8 993.2L1869.9 991.9L1869.9 990.6L1869.9 989.2L1869.9 987.8L1869.9 986.5L1869.9 985.1L1869.9 983.8L1869.9 982.4L1869.9 981.1L1869.9 979.7L1869.9 978.3L1869.9 977L1869.9 975.6L1869.9 974.3L1869.9 972.9L1869.9 971.6L1869.9 970.2L1869.9 968.8L1869.9 967.5L1869.9 966.1L1869.9 964.8L1869.8 963.4L1869.8 962.1L1869.8 960.7L1869.7 959.3L1869.7 958L1869.7 956.6L1869.7 955.3L1869.7 953.9L1869.7 952.6L1869.7 951.2L1869.8 949.8L1869.8 948.5L1869.9 947.1L1870 945.8L1870.1 944.5L1870.2 943.2L1870.4 941.9L1870.5 940.6L1870.8 939.3L1871 938L1871.3 936.7L1871.7 935.4L1872.1 934.1L1872.5 932.8L1873.1 931.5L1873.6 930.2L1874.3 928.9L1874.9 927.6L1875.6 926.3L1876.3 925L1877.1 923.7L1877.8 922.4L1878.6 921.1L1879.4 919.7L1880.3 918.4L1881.2 917L1882.2 915.6L1883.2 914.3L1884.1 912.9L1885 911.6L1885.7 910.2L1886.4 908.9L1887.1 907.6L1887.7 906.3L1888.3 905L1888.8 903.7L1889.3 902.4L1889.7 901.1L1890.1 899.8L1890.3 898.4L1890.4 897L1890.4 895.6L1890.3 894.2L1890.1 892.8L1889.9 891.5L1889.6 890.1L1889.3 888.8L1889 887.4L1888.6 886.1L1888.2 884.7L1887.8 883.3L1887.3 882L1886.7 880.7L1886.1 879.4L1885.5 878.1L1884.8 876.8L1884.1 875.5L1883.4 874.2L1882.7 872.9L1882.1 871.6L1881.4 870.3L1880.7 869L1880.1 867.7L1879.5 866.4L1878.9 865.1L1878.3 863.8L1877.7 862.4L1877.1 861.1L1876.5 859.8L1875.9 858.5L1875.4 857.2L1874.9 855.9L1874.4 854.6L1873.9 853.3L1873.4 852L1872.9 850.7L1872.5 849.4L1872 848.1L1871.6 846.8L1871.2 845.5L1870.9 844.2L1870.5 842.9L1870.2 841.5L1870 840L1869.8 838.6L1869.7 837.1L1869.6 835.7L1869.5 834.2L1869.3 832.8L1869.3 831.3L1869.2 829.8L1869.1 828.4L1869 826.9L1869 825.5L1868.9 824Z" fill="#E6D4EE" stroke="#4a4a4a" stroke-width="1.3" stroke-linejoin="round"/>
<path d="M1868.8 857L1868.8 936.3" stroke="#555" stroke-width="0.9" fill="none" />
<path d="M1868.8 882L1868.8 912.4" stroke="#555" stroke-width="1.8" fill="none" />
<path d="M1865.5 896.8L1872.1 896.8" stroke="#fff" stroke-width="1.5" fill="none" />
<path d="M1912.1 830.3L1912.1 831.7L1912 833.1L1912 834.4L1911.9 835.8L1911.8 837.2L1911.6 838.6L1911.3 840L1911 841.5L1910.6 842.9L1910.1 844.4L1909.6 845.8L1909 847.2L1908.4 848.6L1907.7 849.9L1907 851.2L1906.3 852.5L1905.5 853.8L1904.8 855.1L1904 856.4L1903.2 857.7L1902.5 859L1901.8 860.3L1901.1 861.6L1900.4 862.9L1899.7 864.2L1899 865.5L1898.3 866.8L1897.7 868.1L1897 869.4L1896.4 870.7L1895.8 872L1895.3 873.3L1894.8 874.6L1894.3 875.9L1893.9 877.2L1893.4 878.5L1893 879.8L1892.7 881.1L1892.3 882.4L1892 883.7L1891.7 885L1891.4 886.3L1891.1 887.7L1890.9 889L1890.6 890.4L1890.5 891.8L1890.3 893.1L1890.2 894.5L1890.1 895.8L1890.1 897.2L1890.1 898.6L1890.1 900.1L1890.2 901.5L1890.3 903L1890.6 904.4L1891 905.9L1891.4 907.2L1891.9 908.6L1892.5 909.9L1893.1 911.3L1893.8 912.7L1894.5 914L1895.2 915.4L1895.9 916.7L1896.7 918L1897.5 919.3L1898.3 920.6L1899.1 921.9L1900 923.2L1900.8 924.5L1901.7 925.8L1902.5 927.2L1903.2 928.5L1904 929.8L1904.7 931.1L1905.4 932.4L1906.1 933.7L1906.8 935L1907.4 936.3L1908 937.6L1908.6 938.9L1909.2 940.2L1909.6 941.5L1910.1 942.8L1910.4 944.1L1910.7 945.4L1910.9 946.7L1911.1 948L1911.3 949.3L1911.4 950.6L1911.5 951.9L1911.5 953.2L1911.6 954.5L1911.6 955.8L1911.6 957.1L1911.5 958.4L1911.4 959.7L1911.3 961L1911.2 962.3L1911 963.6L1910.9 964.9L1910.7 966.2L1910.6 967.5L1910.5 968.8L1910.4 970.2L1910.3 971.6L1910.2 973L1910.1 974.4L1910 975.7L1909.9 977.1L1909.8 978.5L1909.7 979.9L1909.7 981.3L1909.6 982.7L1909.6 984L1909.6 985.3L1909.7 986.6L1909.7 987.9L1909.8 989.2L1909.9 990.6L1910 991.9L1910.2 993.2L1910.3 994.5L1910.4 995.8L1910.5 997.1L1910.6 998.4L1910.7 999.8L1910.9 1001.2L1911 1002.6L1911.2 1004L1911.3 1005.4L1911.4 1006.7L1911.5 1008.1L1911.6 1009.5L1911.7 1010.9L1911.8 1012.3L1911.8 1013.6L1911.9 1014.9L1911.9 1016.2L1911.9 1017.5L1912 1018.8L1912 1020.1L1912 1021.4L1912 1022.7L1912 1024L1912 1025.3L1912.1 1026.6L1912.1 1027.9L1912.1 1029.2L1912.1 1030.5L1912.1 1031.8L1912.1 1033.1L1912.1 1034.4L1912.1 1035.7L1912.1 1037L1912.1 1038.3L1912.1 1039.6L1912.1 1040.9L1912.1 1042.2L1912.3 1042.2L1912.4 1040.9L1912.4 1039.6L1912.4 1038.3L1912.4 1037L1912.4 1035.7L1912.4 1034.4L1912.4 1033.1L1912.4 1031.8L1912.4 1030.5L1912.4 1029.2L1912.4 1027.9L1912.4 1026.6L1912.4 1025.3L1912.4 1024L1912.4 1022.7L1912.5 1021.4L1912.5 1020.1L1912.5 1018.8L1912.5 1017.5L1912.5 1016.2L1912.6 1014.9L1912.6 1013.6L1912.7 1012.3L1912.7 1010.9L1912.8 1009.5L1912.9 1008.1L1913 1006.7L1913.2 1005.4L1913.3 1004L1913.4 1002.6L1913.6 1001.2L1913.7 999.8L1913.9 998.4L1914 997.1L1914.1 995.8L1914.2 994.5L1914.3 993.2L1914.4 991.9L1914.5 990.6L1914.6 989.2L1914.7 987.9L1914.8 986.6L1914.8 985.3L1914.8 984L1914.8 982.7L1914.8 981.3L1914.7 979.9L1914.7 978.5L1914.6 977.1L1914.5 975.7L1914.4 974.4L1914.3 973L1914.2 971.6L1914.1 970.2L1914 968.8L1913.9 967.5L1913.7 966.2L1913.6 964.9L1913.4 963.6L1913.3 962.3L1913.1 961L1913 959.7L1912.9 958.4L1912.9 957.1L1912.9 955.8L1912.9 954.5L1912.9 953.2L1913 951.9L1913.1 950.6L1913.2 949.3L1913.3 948L1913.5 946.7L1913.8 945.4L1914.1 944.1L1914.4 942.8L1914.8 941.5L1915.3 940.2L1915.8 938.9L1916.4 937.6L1917 936.3L1917.7 935L1918.4 933.7L1919.1 932.4L1919.8 931.1L1920.5 929.8L1921.2 928.5L1922 927.2L1922.8 925.8L1923.6 924.5L1924.5 923.2L1925.3 921.9L1926.2 920.6L1927 919.3L1927.8 918L1928.5 916.7L1929.3 915.4L1930 914L1930.7 912.7L1931.3 911.3L1932 909.9L1932.5 908.6L1933.1 907.2L1933.5 905.9L1933.9 904.4L1934.1 903L1934.3 901.5L1934.4 900.1L1934.4 898.6L1934.4 897.2L1934.3 895.8L1934.3 894.5L1934.1 893.1L1934 891.8L1933.8 890.4L1933.6 889L1933.4 887.7L1933.1 886.3L1932.8 885L1932.5 883.7L1932.1 882.4L1931.8 881.1L1931.4 879.8L1931 878.5L1930.6 877.2L1930.1 875.9L1929.7 874.6L1929.2 873.3L1928.6 872L1928 870.7L1927.4 869.4L1926.8 868.1L1926.1 866.8L1925.4 865.5L1924.7 864.2L1924 862.9L1923.3 861.6L1922.7 860.3L1922 859L1921.2 857.7L1920.5 856.4L1919.7 855.1L1918.9 853.8L1918.2 852.5L1917.5 851.2L1916.8 849.9L1916.1 848.6L1915.5 847.2L1914.9 845.8L1914.4 844.4L1913.9 842.9L1913.5 841.5L1913.2 840L1912.9 838.6L1912.7 837.2L1912.6 835.8L1912.5 834.4L1912.4 833.1L1912.4 831.7L1912.3 830.3Z" fill="#B793C1" stroke="#4a4a4a" stroke-width="1.3" stroke-linejoin="round"/>
<path d="M1912.2 852.7L1912.2 940.6" stroke="#555" stroke-width="0.9" fill="none" />
<path d="M1912.2 882L1912.2 914.6" stroke="#555" stroke-width="1.8" fill="none" />
<path d="M1908.9 899.4L1915.5 899.4" stroke="#fff" stroke-width="1.5" fill="none" />
<rect x="1597.8" y="732.2" width="162.6" height="372.3" fill="none" stroke="#222" stroke-width="1.4"/>
<rect x="1787.8" y="732.2" width="162.6" height="372.3" fill="none" stroke="#222" stroke-width="1.4"/>
<rect x="1964.1" y="856.9" width="23.3" height="22.8" fill="#ECEB9E" stroke="#666" stroke-width="1.4"/>
<text x="2005.9" y="874.7" font-size="23.8" textLength="138.8" lengthAdjust="spacingAndGlyphs">Ground truth</text>
<rect x="1964.1" y="896.8" width="23.3" height="22.8" fill="#E6D4EE" stroke="#666" stroke-width="1.4"/>
<text x="2005.9" y="914.7" font-size="23.8" textLength="56.6" lengthAdjust="spacingAndGlyphs">XPert</text>
<rect x="1964.1" y="934.5" width="23.3" height="22.8" fill="#B793C1" stroke="#666" stroke-width="1.4"/>
<text x="2005.9" y="952.9" font-size="23.8" textLength="161.4" lengthAdjust="spacingAndGlyphs">XPert (pretrain)</text>
<text x="1485" y="1196.2" font-size="37" textLength="25.8" lengthAdjust="spacingAndGlyphs" font-weight="bold" stroke="#000" stroke-width="1.3">g</text>
<text x="1673.3" y="1195.5" font-size="27.4" textLength="139.4" lengthAdjust="spacingAndGlyphs">Differential</text>
<text x="1818.7" y="1195.5" font-size="27.4" textLength="114.1" lengthAdjust="spacingAndGlyphs">attention</text>
<text x="1939.8" y="1195.5" font-size="27.4" textLength="76.9" lengthAdjust="spacingAndGlyphs">genes</text>
<text x="1651.8" y="1231.8" font-size="27.4" textLength="176.5" lengthAdjust="spacingAndGlyphs">Non-response</text>
<text x="1834.3" y="1231.8" font-size="27.4" textLength="82.9" lengthAdjust="spacingAndGlyphs">versus</text>
<text x="1924.5" y="1231.8" font-size="27.4" textLength="114.7" lengthAdjust="spacingAndGlyphs">response</text>
<path d="M1828.4 1693.6h0M1853.1 1701.4h0M1841.8 1701.7h0M1855.6 1702h0M1845.9 1699.3h0M1844.2 1700.8h0M1851.6 1699.5h0M1832.5 1700.8h0M1842.2 1701.7h0M1851.5 1693.7h0M1842 1706.2h0M1853.4 1703.6h0M1845 1708.1h0M1843.7 1694.3h0M1841.5 1708h0M1837 1702.6h0M1837.1 1706.9h0M1853.5 1707.9h0M1848.4 1697.3h0M1843.5 1708.6h0M1848.4 1702.4h0M1856.2 1697.4h0M1833 1698.9h0M1848.7 1708h0M1852.1 1700.3h0M1858.7 1693.6h0M1829.8 1704.2h0M1843.2 1693.9h0M1848.8 1708.6h0M1838.4 1705.6h0M1851.7 1694.9h0M1839.4 1696h0M1834.3 1703.2h0M1843.8 1706.1h0M1846.6 1703.1h0M1839.4 1701.1h0M1844.6 1702.5h0M1830.1 1694.3h0M1844.1 1702.3h0M1824.5 1702.2h0M1838 1697.1h0M1861.3 1704.4h0M1841.7 1699.6h0M1847.3 1704.1h0M1843.6 1693.6h0M1846.5 1693.5h0M1837.2 1694.6h0M1850.6 1708.6h0M1845.7 1695.9h0M1829.6 1696.5h0M1836.6 1709.4h0M1854.6 1702.4h0M1839 1695.9h0M1848.8 1697.4h0M1856.4 1694h0M1846.2 1696h0M1848 1707.9h0M1852.7 1700.3h0M1829.4 1695.8h0M1832.9 1697.3h0M1834.3 1698.8h0M1830.2 1697.8h0M1830.7 1698.9h0M1852.3 1697.2h0M1844.5 1698.8h0M1832.6 1698.8h0M1840 1706.8h0M1856.4 1705.2h0M1830.5 1701.7h0M1854 1694h0M1847.6 1705.8h0M1831.2 1701.9h0M1850.5 1694.7h0M1846.2 1704.2h0M1845.8 1706.1h0M1844 1706.1h0M1853.5 1695.4h0M1836.1 1702.3h0M1835.3 1695.1h0M1833.3 1696.5h0M1850.9 1704.1h0M1839.4 1709.4h0M1843.1 1704h0M1835.1 1700.7h0M1840.1 1695.5h0M1856.2 1698.7h0M1846.7 1699.3h0M1847.7 1694.4h0M1868.9 1702.7h0M1835.5 1704.5h0M1846.9 1707.2h0M1851.7 1699.3h0M1843.8 1708.6h0M1847.4 1700.4h0M1821.2 1700.2h0M1848.1 1693.7h0M1831.3 1698.6h0M1845.2 1706.3h0M1846.3 1693.9h0M1851.8 1698.4h0M1832.7 1696.9h0M1836.6 1700.9h0M1851.6 1701.9h0M1851.6 1703.8h0M1829.5 1695.1h0M1837.9 1708.1h0M1839.1 1699.9h0M1831.6 1698.8h0M1849.9 1698.3h0M1840.9 1696.2h0M1825.7 1696h0M1848.3 1707h0M1847.6 1705.5h0M1839.2 1699.9h0M1834.3 1705.2h0M1842.9 1704.9h0M1830.1 1702.1h0M1832.5 1704.6h0M1843 1699.3h0M1839 1699.5h0M1840.2 1698.9h0M1836.6 1700.4h0M1852.2 1695.4h0M1833.7 1704h0M1830 1706.5h0M1820 1700h0M1832.5 1706.9h0M1844.6 1697.9h0M1756.9 1679.3h0M1726.7 1672.8h0" stroke="#C6C6C6" stroke-width="3.2" stroke-linecap="round" fill="none"/>
<path d="M1853.5 1693.1h0M1859.3 1682.3h0M1843.5 1684.6h0M1831 1693.1h0M1861.1 1691.1h0M1837.2 1683.3h0M1851.6 1691.3h0M1843.8 1691.1h0M1853.1 1683.9h0M1862.1 1677.4h0M1830.5 1692.5h0M1820.9 1687.3h0M1824.4 1682h0M1805.7 1679.2h0M1847.8 1687.4h0M1857.2 1692h0M1829.8 1681.3h0M1850.3 1692.4h0M1851.1 1691h0M1829.1 1682.3h0M1808.5 1691.1h0M1832.9 1681.9h0M1824.5 1684.5h0M1855.8 1682.6h0M1851.1 1686.3h0M1819.8 1678.8h0M1854.3 1687.9h0M1816.3 1690.7h0M1860.9 1687.1h0M1842.8 1693.2h0M1847.8 1681.3h0M1852.8 1692.7h0M1841.5 1687.2h0M1849.5 1687.4h0M1827 1687.9h0M1853.1 1678h0M1826.8 1685h0M1842.4 1684h0M1850.5 1691.9h0M1850.1 1678.5h0M1840.9 1681.4h0M1837.6 1691.1h0M1860.6 1685.1h0M1835.6 1678.6h0M1867.3 1682.1h0M1851.9 1688.1h0M1854 1678h0M1835.3 1692.7h0M1834.8 1690.5h0M1849.6 1691.9h0M1834.7 1689.2h0M1831.4 1687h0M1852 1682.6h0M1827.8 1678.5h0M1853.1 1683.8h0M1820.3 1692.5h0M1830.3 1681.1h0M1841.2 1684.6h0M1846.7 1681.8h0M1842.7 1683.1h0M1831.5 1690.4h0M1853.5 1681.5h0M1833.5 1692.1h0M1843.9 1690.2h0M1852 1689.7h0M1832.9 1687.9h0M1830.3 1685.4h0M1827.8 1690.4h0M1815 1686.8h0M1850.1 1689.7h0M1861.9 1678.1h0M1847.9 1690.9h0M1846.6 1691h0M1846.1 1685.8h0M1844 1681.7h0M1849 1682.6h0M1834.5 1685.3h0M1848.8 1684.3h0M1857.2 1690.9h0M1817.8 1690.9h0M1847.3 1681.2h0M1853.4 1685.4h0M1848.7 1688.8h0M1854.4 1681.4h0M1836.2 1686.9h0M1813.8 1678.2h0M1853.6 1682.9h0M1831.3 1679.6h0M1843.4 1677.6h0M1856 1689.1h0M1849.3 1681.5h0M1839.1 1687.6h0M1825 1680.7h0M1834.9 1684.8h0M1842.9 1681h0M1857.4 1685h0M1843 1681.6h0M1848.6 1689.9h0M1848 1677.9h0M1838.2 1692.1h0M1822.2 1682.8h0M1857.5 1679h0M1858.8 1679.3h0M1810.8 1681.8h0M1854.1 1690.6h0M1826.2 1687.9h0M1825.8 1685.4h0M1828.4 1688.6h0M1826.6 1691.7h0M1850.1 1680.2h0M1839.4 1679.6h0M1823.2 1684.9h0M1835.1 1684.8h0M1831.8 1690.7h0M1849 1691.4h0M1826.7 1687.6h0M1858 1681.1h0M1856.1 1677.8h0M1848.9 1690.3h0M1857.2 1677.7h0M1837.1 1682.8h0M1854.3 1692.1h0M1834.2 1692.3h0M1835.1 1684.4h0M1851.8 1684.2h0M1852.3 1686h0M1836.3 1685.6h0M1827.7 1678.2h0M1854.6 1689.4h0M1800.7 1680.5h0M1665 1680.7h0M1685.6 1661h0M1689.2 1659.6h0M1682.8 1662.3h0M1725.4 1674.7h0M1924.2 1675.5h0M1931.9 1675.5h0M1912.7 1681.5h0M1774.2 1667.8h0" stroke="#C6C6C6" stroke-width="4" stroke-linecap="round" fill="none"/>
<path d="M1819.8 1670.5h0M1827.3 1665.7h0M1848.1 1663.9h0M1835.5 1671.5h0M1806.1 1664.7h0M1844.6 1670.1h0M1857.8 1673.1h0M1834.8 1667.9h0M1811.7 1671.5h0M1851 1668h0M1853.8 1670.6h0M1850.1 1670.3h0M1818.3 1677h0M1830.2 1663.2h0M1832 1662h0M1820.4 1664.9h0M1852.9 1668.4h0M1846.2 1677.1h0M1852.5 1663.8h0M1831.2 1674.8h0M1805.9 1665.9h0M1847.6 1665.1h0M1869.2 1665.3h0M1846.2 1677.1h0M1830.2 1664.1h0M1840.5 1675.9h0M1833.8 1664.4h0M1869.6 1663.9h0M1852.7 1670.2h0M1868.3 1662.8h0M1819.8 1662h0M1846.4 1677.3h0M1849.4 1672.9h0M1878.1 1672.6h0M1833.8 1662.6h0M1829.8 1662.3h0M1822.4 1664.5h0M1832.6 1666.9h0M1846.5 1673.2h0M1886.2 1677.1h0M1826.9 1662.3h0M1882.5 1667.9h0M1827.6 1664h0M1831.1 1669.2h0M1826.8 1669.7h0M1840 1675.7h0M1857.4 1674.4h0M1827.3 1665.4h0M1852.6 1673.9h0M1808.6 1674.9h0M1824.8 1665.6h0M1856.8 1662.2h0M1815.5 1676.6h0M1862.2 1669h0M1817.3 1667.6h0M1868.4 1674.2h0M1835.9 1672.2h0M1869.6 1666.1h0M1854.1 1664.1h0M1855 1668.7h0M1823.7 1677.4h0M1833.8 1671.5h0M1804.8 1669.7h0M1870.6 1666.4h0M1816.1 1661.5h0M1827.9 1665.9h0M1830.7 1671.5h0M1866.8 1666.5h0M1846.2 1672h0M1827 1667.3h0M1838.3 1670.2h0M1848.6 1675.6h0M1893 1672.9h0M1834.4 1669.7h0M1819.7 1676.6h0M1827.8 1675.6h0M1871.5 1664.7h0M1851.6 1675.5h0M1850.7 1674.5h0M1857.9 1672.6h0M1846.5 1675.7h0M1848.4 1674.1h0M1829 1666.9h0M1798 1662.2h0M1814.1 1667.2h0M1856.4 1662.7h0M1850.7 1667.7h0M1837.6 1671.3h0M1837 1664h0M1848.3 1676h0M1844.8 1674.7h0M1824.8 1663.2h0M1807.8 1666h0M1858.3 1665.1h0M1857.8 1667.1h0M1806.8 1662.1h0M1833 1676h0M1865.5 1672.3h0M1822.4 1672.9h0M1825.5 1665.8h0M1845.7 1673.3h0M1831.6 1671.5h0M1852.8 1674h0M1851 1673.2h0M1848 1669h0M1855 1669.4h0M1834.6 1663.3h0M1847.2 1673.8h0M1865.2 1661.4h0M1809.3 1674.4h0M1872.7 1673.8h0M1824.3 1666.3h0M1846.2 1672.4h0M1854.1 1662.3h0M1855.2 1667.7h0M1814.8 1665h0M1828 1661.9h0M1859.5 1670.9h0M1815.4 1663.2h0M1844.8 1672.2h0M1839.5 1676h0M1828.9 1676h0M1818.6 1672.2h0M1854.7 1667.5h0M1849.3 1663.2h0M1856.3 1664.5h0M1847.4 1664.1h0M1850 1666.5h0M1861.3 1667.6h0M1812.5 1667.5h0M1601.9 1655.5h0M2026.2 1659.6h0M1932.4 1650h0M1924.2 1645.3h0M1931 1634.9h0M1931.6 1628.1h0M1921.4 1628.1h0M1911.8 1631.6h0M1907.7 1625.3h0M1906.4 1642.6h0M1903.6 1651.4h0M1907.7 1651.9h0M1922.8 1661h0M1773.3 1651.4h0M1778.8 1651.4h0M1774.7 1659.6h0" stroke="#C6C6C6" stroke-width="4.8" stroke-linecap="round" fill="none"/>
<path d="M1832.9 1653.1h0M1856.8 1661.3h0M1815.3 1645.7h0M1860.1 1658.1h0M1823.3 1661.3h0M1871 1660.1h0M1830.1 1649.9h0M1796.2 1649h0M1817.6 1645.9h0M1816.9 1645.9h0M1870 1655.6h0M1806.1 1646.1h0M1808.9 1656.5h0M1860.6 1659.2h0M1831.5 1648.2h0M1816.7 1648.4h0M1866.5 1655.2h0M1860.7 1650.5h0M1851.1 1647.9h0M1809.9 1649.4h0M1802 1656.5h0M1816 1655.5h0M1853.9 1653.3h0M1789.5 1654.2h0M1817.7 1654.4h0M1867.3 1660.1h0M1851.7 1657.3h0M1865 1660.9h0M1868.8 1649.9h0M1861.9 1650.2h0M1801.4 1654.4h0M1817.5 1645.6h0M1853.2 1660.4h0M1831.9 1649h0M1803.9 1648.7h0M1865.7 1655.2h0M1861.6 1647.2h0M1828.9 1654.4h0M1895.9 1652h0M1810.1 1652.6h0M1828.7 1649h0M1835.5 1656.4h0M1827.6 1658h0M1865.5 1656.8h0M1861.5 1657.4h0M1850.4 1659.3h0M1883.2 1646.2h0M1808.3 1658.5h0M1867.1 1655.7h0M1812.4 1653.1h0M1849.7 1660.8h0M1849.3 1650.4h0M1824.1 1648.3h0M1825.7 1659.1h0M1907.7 1652.8h0M1798.7 1648h0M1832.5 1654.6h0M1872.1 1647.7h0M1849.9 1648.3h0M1901.7 1660.8h0M1863.9 1656.4h0M1863 1646.4h0M1830.1 1652.5h0M1859.6 1655.4h0M1828.1 1659.8h0M1852.3 1661.2h0M1863.1 1652.7h0M1860.3 1660.4h0M1848 1660.5h0M1852.5 1654.1h0M1809.3 1660.7h0M1774.2 1646.4h0M1793.6 1652.1h0M1803.7 1660.6h0M1856.9 1659h0M1883.6 1646.9h0M1873.4 1648h0M1824.3 1649.5h0M1854.8 1648.2h0M1817.8 1652.2h0M1847.8 1657.8h0M1815.9 1660.1h0M1814.8 1660.4h0M1833 1655.9h0M1864.3 1653.5h0M1853.4 1649.9h0M1856.3 1647.8h0M1849.3 1658.1h0M1851.4 1648.5h0M1822.6 1646.9h0M1832.1 1660.7h0M1822.2 1652h0M1857.6 1654.9h0M1832.7 1649h0M1853.7 1659h0M1810.7 1656.4h0M1820.7 1655.4h0M1861.7 1650.8h0M1795.1 1649.5h0M1864.2 1647.8h0M1874.5 1660.6h0M1810.4 1648.5h0M1849.1 1651.8h0M1833.1 1659h0M1865.9 1655h0M1829.9 1649.6h0M1856.4 1660.7h0M1825 1652.8h0M1854.8 1648.7h0M1811 1652.8h0M1859.8 1645.5h0M1826.1 1645.4h0M1852.9 1648.6h0M1847.9 1654.7h0M1878 1654h0M1873.9 1650h0M1858.6 1652.1h0M1824.9 1657.7h0M1817.9 1658.3h0M1862.1 1645.8h0M1787.4 1645.9h0M1770.3 1656.3h0M1822.1 1657.5h0M1856.9 1646h0M1823.8 1645.4h0M1877.9 1651.5h0M1870.7 1651.8h0M1799.8 1649h0M1865.9 1645.5h0M1810.8 1646.5h0M1772.8 1654h0M1860 1645.7h0M1815.1 1658.3h0M1824.9 1657h0M1877.3 1654.4h0M1858.7 1659.5h0M1875.3 1645.9h0M1825.2 1652h0M1831.5 1661.2h0M1794.7 1651.3h0M1850.5 1649.3h0M1875.8 1659.9h0M1815.9 1661.2h0M1830.5 1660.5h0M1849.2 1656.9h0M1879.4 1650h0M1848.6 1646.8h0M1833.2 1656.9h0M1803.4 1652.6h0M1851.1 1660.7h0M1855.1 1652.8h0M1851 1660.7h0M1852.8 1652h0M1833.1 1658.6h0M1826.7 1656.6h0M1730.3 1650.8h0M1743.2 1653.3h0M1747.3 1637.7h0M1751.4 1643.1h0M1758.3 1644.5h0M1763.2 1645.3h0M1744.6 1639h0M1769.2 1628.9h0" stroke="#C6C6C6" stroke-width="5.6" stroke-linecap="round" fill="none"/>
<path d="M1874.5 1636.5h0M1851.4 1631h0M1863.4 1642.3h0M1830.4 1631.1h0M1865 1630.4h0M1779.6 1631.8h0M1803.1 1635h0M1764.8 1631.4h0M1902.3 1633.6h0M1804.2 1637.3h0M1853.5 1634.2h0M1800.1 1639.9h0M1879 1631.3h0M1850.2 1639.7h0M1870.3 1640.5h0M1815.7 1636.6h0M1808.9 1639.1h0M1884.8 1629.7h0M1854.9 1642.3h0M1817.2 1636.1h0M1873.8 1631.6h0M1853.6 1632.9h0M1853.2 1637.7h0M1917.6 1629.5h0M1890.3 1639.2h0M1811.5 1632.2h0M1884.9 1643.5h0M1791.7 1641.8h0M1849.4 1644.5h0M1808.3 1645.3h0M1878.3 1643.2h0M1799.2 1630.3h0M1862.5 1640.2h0M1812.6 1640.7h0M1880.4 1633.5h0M1890.7 1630.6h0M1798.1 1638.2h0M1786.9 1637.6h0M1855.1 1640.3h0M1877.2 1639h0M1866.9 1640.4h0M1808.7 1634.5h0M1856.7 1635.5h0M1877.1 1630.4h0M1877.8 1638.2h0M1801.8 1637.9h0M1854.3 1640.5h0M1871 1638.2h0M1812.9 1637.3h0M1813.5 1643.4h0M1807 1631.6h0M1811.7 1631.1h0M1881 1637.8h0M1857.8 1640.2h0M1802.4 1644.1h0M1855.9 1644.6h0M1817.8 1630.9h0M1805.9 1632.3h0M1905.6 1632.1h0M1864.6 1637.2h0M1827.6 1633.6h0M1821.9 1629.6h0M1858.4 1644.3h0M1799.3 1642h0M1862.2 1642.2h0M1829.8 1641.7h0M1861.5 1641.2h0M1791.7 1637.8h0M1812.6 1643.7h0M1790.1 1634.9h0M1888.4 1633h0M1857.6 1635.1h0M1828.3 1643.5h0M1826.3 1632.6h0M1896.7 1633.6h0M1871.1 1631h0M1865.2 1642.9h0M1853.3 1640.8h0M1814 1640.5h0M1853.9 1632.5h0M1756.4 1634.9h0M1789.2 1641.2h0M1798.9 1638.1h0M1867.4 1631h0M1870.2 1631.4h0M1787 1635.6h0M1821.6 1640.7h0M1830.7 1634.4h0M1859.2 1634.8h0M1862.4 1641.6h0M1856.6 1640.8h0M1816.2 1634.9h0M1815.3 1633.9h0M1799.6 1638.7h0M1784.2 1632h0M1850.8 1642.4h0M1858.6 1636.1h0M1871.3 1644.9h0M1867.8 1640.9h0M1858.7 1635.3h0M1868.1 1637.8h0M1782.5 1641.5h0M1917.6 1630.4h0M1849.6 1642.1h0M1874 1636.8h0M1863.8 1644.5h0M1853.2 1640h0M1787 1631.9h0M1817.9 1635.4h0M1899.1 1642.6h0M1826.3 1635.7h0M1794.7 1635.4h0M1665.8 1627.2h0" stroke="#C6C6C6" stroke-width="6.4" stroke-linecap="round" fill="none"/>
<path d="M1819.2 1624.8h0M1798.3 1623.4h0M1805.5 1626.9h0M1886.3 1624.9h0M1899.3 1626.8h0M1771.9 1624.9h0M1823.9 1623.8h0M1858.4 1624.8h0M1804.2 1629.1h0M1883.8 1628.1h0M1885.6 1627.9h0M1857.6 1627.6h0M1762.8 1626h0M1777.8 1625.9h0M1820.8 1627h0M1905.5 1626h0M1804.2 1624.7h0M1821.2 1623.3h0M1816.3 1626.1h0M1823.5 1623.7h0M1817.4 1624.2h0M1865.3 1625.6h0M1789.7 1625.1h0M1784.9 1623.4h0M1825 1626.1h0M1809.6 1626h0M1775.1 1626.9h0M1824.6 1627.1h0M1824.6 1628h0M1814.2 1624.4h0M1824.4 1624.4h0M1812.2 1626.8h0M1852.7 1627.5h0M1792.4 1628.9h0M1905.5 1624.3h0M1881.1 1627.4h0M1866.2 1625.8h0M1792.2 1623.8h0M1863.2 1628.7h0M1881 1625.3h0M1859.1 1625.2h0M1870.9 1625.9h0M1803 1626.4h0M1862.8 1625.8h0M1778.4 1629h0M1883.2 1624.9h0M1864.7 1629h0M1878.5 1624.5h0M1890.8 1627.8h0M1931.3 1629.1h0M1787.9 1628.6h0M1815.6 1628.3h0M1810.2 1623.7h0M1877.2 1629h0M1786.9 1625.8h0M1871.2 1623.9h0M1798 1628h0M1812.7 1625.8h0M1770.2 1627.9h0M1853.7 1626.1h0M1867.8 1624.9h0M1812.4 1627.5h0M1789.2 1628.1h0M1859.2 1624.2h0M1794.1 1627.6h0" stroke="#C6C6C6" stroke-width="7.2" stroke-linecap="round" fill="none"/>
<path d="M1765.7 1248.1L1765.7 1709.5" stroke="#cbcbcb" stroke-width="1.3" fill="none" stroke-dasharray="8 5"/>
<path d="M1925.5 1248.1L1925.5 1709.5" stroke="#cbcbcb" stroke-width="1.3" fill="none" stroke-dasharray="8 5"/>
<path d="M1592.3 1623.2L2098.3 1623.2" stroke="#cbcbcb" stroke-width="1.3" fill="none" stroke-dasharray="8 5"/>
<path d="M1860.6 1597.3h0M1922.4 1618.2h0M1878.6 1621.4h0M1923.7 1619.8h0M1877.5 1607.7h0M1892.1 1611.9h0M1887.5 1608.3h0M1867.1 1613.1h0M1863.4 1616.7h0M1867.9 1612.2h0M1860.5 1613.2h0M1879.9 1595.8h0M1862.6 1612.7h0M1891.7 1606.4h0M1879.3 1605.5h0M1869.6 1606h0M1859.6 1621.8h0M1863.4 1619.9h0M1922.7 1614.4h0M1921.6 1617h0M1870.8 1614.9h0M1859.3 1601.6h0M1860.1 1611.4h0M1854.9 1615.3h0M1857.4 1609.7h0M1896.6 1596.7h0M1854.4 1619.3h0M1920.2 1609.6h0M1864.1 1598.3h0M1882.4 1593.6h0M1873.5 1616.2h0M1858.1 1614.1h0M1857.8 1600.9h0M1859.9 1609.9h0M1864.7 1595.7h0M1877.7 1598h0M1870.8 1615.8h0M1872.2 1610.8h0M1890.5 1607.7h0M1857.1 1622.2h0M1862.9 1619h0M1880.8 1602.3h0M1911.2 1613.1h0M1890.5 1612.2h0M1921.8 1603.3h0M1863 1599.3h0M1880.6 1614.8h0M1898.4 1607.9h0M1861 1620h0M1908.7 1620.2h0M1856.8 1605.7h0M1870.3 1616.3h0M1863.1 1597.5h0M1903.1 1615.2h0M1866.6 1608.4h0M1887 1599.4h0M1878.7 1596.1h0M1867.6 1612.4h0M1855.8 1612.8h0M1863.9 1620.4h0M1866.2 1604.4h0M1925.3 1612.4h0M1879.9 1596.7h0M1864.7 1620.2h0M1906.3 1611.4h0M1900.9 1609.1h0M1898.7 1618.4h0M1885.9 1611.5h0M1866.1 1617.6h0M1858.8 1600.4h0M1858.2 1605.3h0M1857.2 1617.9h0M1874.4 1604.9h0M1794.4 1608.5h0M1797 1610.8h0M1794.8 1611.3h0M1793.3 1602.9h0M1766.9 1608h0M1798.1 1598.9h0M1817.2 1615.7h0M1773.5 1595.9h0M1780.7 1607.3h0M1789.4 1613.5h0M1808.1 1598.6h0M1791 1612.6h0M1794.9 1601.7h0M1788.1 1594.2h0M1797.1 1596.9h0M1808.4 1607.8h0M1804.9 1599h0M1818.8 1616.3h0M1814.5 1602h0M1775.7 1610.9h0M1766.3 1596.8h0M1889.4 1538.9h0M1883 1539.5h0M1922.8 1531.3h0M1803.5 1537.3h0M1797.5 1543h0M1777.5 1547.7h0M1813.1 1550.7h0M1868 1545h0M1868.5 1551.8h0M1881.7 1550.5h0M1875.6 1557.6h0M1869.3 1560.3h0M1895.4 1554h0M1896.8 1560.3h0M1911 1559h0M1902.2 1563.1h0" stroke="#858585" stroke-width="8" stroke-linecap="round" fill="none"/>
<path d="M1898.8 1582.5h0M1864.1 1573.9h0M1873.1 1561.1h0M1869 1570h0M1872 1586h0M1912.4 1578h0M1887.8 1570.2h0M1888.5 1576.1h0M1922.2 1573.2h0M1870.8 1558.4h0M1865 1573.2h0M1881.1 1567.5h0M1869.7 1589.4h0M1866.9 1588.9h0M1877.4 1556.9h0M1902.8 1592.4h0M1890 1593.1h0M1879 1587.3h0M1887.4 1559.5h0M1920.5 1566.8h0M1907.2 1582.8h0M1876.5 1565.7h0M1870.3 1564.7h0M1872.2 1552.3h0M1924.5 1581.8h0M1879.4 1589h0M1899.4 1569.8h0M1905.8 1586.1h0M1910.8 1589.3h0M1897.2 1582.8h0M1919.2 1587.3h0M1870.8 1580.5h0M1879 1575.7h0M1864.8 1583.2h0M1863.4 1580h0M1920 1592h0M1892.1 1553.8h0M1788.5 1575.1h0M1779.4 1575.9h0M1781.7 1581.6h0M1791.8 1590.1h0M1780.7 1590.4h0M1798.7 1584.8h0M1787.9 1578.5h0M1783.6 1579.1h0M1779.9 1576.6h0M1790.3 1554.9h0M1800.4 1572.9h0M1800.8 1579.4h0M1773.5 1586.8h0M1804 1590h0M1793 1560.2h0M1796 1574.7h0M1797.1 1570.8h0M1795.4 1585.7h0M1787.9 1558.8h0M1889.9 1510.1h0M1888.5 1515.6h0M1894 1521.9h0M1881.7 1526.6h0M1887.2 1528.5h0" stroke="#858585" stroke-width="8.8" stroke-linecap="round" fill="none"/>
<path d="M1913.4 1530.8h0M1922.7 1549.2h0M1876.6 1523.9h0M1893.2 1548.8h0M1912.7 1538.7h0M1893.1 1535h0M1883.5 1536.3h0M1906.5 1539.7h0M1888.5 1524.3h0M1916.7 1539.5h0M1887 1520.8h0M1886.8 1513.3h0M1871.4 1547.4h0M1889.2 1517.4h0M1881.7 1497.2h0M1892.1 1503.3h0M1899.5 1504.7h0M1917.9 1506h0M1873.4 1512.9h0M1906.9 1514.5h0M1799.4 1511.8h0M1780.8 1520.6h0" stroke="#858585" stroke-width="9.6" stroke-linecap="round" fill="none"/>
<path d="M1895.3 1499.6h0" stroke="#858585" stroke-width="10.4" stroke-linecap="round" fill="none"/>
<path d="M1911.3 1432.8h0M1882.8 1442.9h0M1905.5 1445.7h0M1916 1451.2h0" stroke="#858585" stroke-width="11.2" stroke-linecap="round" fill="none"/>
<path d="M1781.3 1429.2h0M1894.8 1419.9h0" stroke="#858585" stroke-width="12" stroke-linecap="round" fill="none"/>
<path d="M1923.1 1341.5h0M1898.1 1353.8h0" stroke="#858585" stroke-width="13.6" stroke-linecap="round" fill="none"/>
<path d="M1888.3 1267.7h0" stroke="#858585" stroke-width="15.2" stroke-linecap="round" fill="none"/>
<path d="M1997.7 1621.5h0" stroke="#E8584A" stroke-width="6.4" stroke-linecap="round" fill="none"/>
<path d="M1943.7 1587.5h0M1946.1 1587.7h0M1949.1 1601.5h0M1951.3 1601.5h0M1957.4 1601.5h0M1959.6 1601.5h0M1968.3 1611.6h0M1981 1610.8h0M2039.4 1613h0" stroke="#E8584A" stroke-width="7.2" stroke-linecap="round" fill="none"/>
<path d="M1941.5 1573.2h0M1943.9 1573.2h0M1960.7 1579.2h0M1979.6 1590.5h0M2042.1 1588.6h0M2049.8 1603.9h0" stroke="#E8584A" stroke-width="8" stroke-linecap="round" fill="none"/>
<path d="M1951.9 1560.3h0" stroke="#E8584A" stroke-width="8.8" stroke-linecap="round" fill="none"/>
<path d="M1929.1 1533.2h0M1974.6 1543.9h0" stroke="#E8584A" stroke-width="9.6" stroke-linecap="round" fill="none"/>
<path d="M1935.4 1490.1h0M1935.7 1497.8h0M1966.7 1491.5h0M1940.6 1506.3h0M1938.4 1515.9h0" stroke="#E8584A" stroke-width="10.4" stroke-linecap="round" fill="none"/>
<path d="M1963.4 1466.8h0M1930.2 1476.4h0" stroke="#E8584A" stroke-width="11.2" stroke-linecap="round" fill="none"/>
<path d="M1928.8 1434.2h0M1937.3 1457.2h0" stroke="#E8584A" stroke-width="12" stroke-linecap="round" fill="none"/>
<path d="M1957.6 1414.1h0" stroke="#E8584A" stroke-width="12.8" stroke-linecap="round" fill="none"/>
<path d="M1956.3 1334.3h0" stroke="#E8584A" stroke-width="14.4" stroke-linecap="round" fill="none"/>
<path d="M1724.8 1604.5h0M1731.7 1609.7h0M1690.5 1613.3h0M1750 1617.4h0" stroke="#4384C6" stroke-width="7.2" stroke-linecap="round" fill="none"/>
<path d="M1741 1569.1h0M1736.3 1571.3h0M1694.6 1585.8h0M1735.2 1597.3h0M1750.6 1601.2h0" stroke="#4384C6" stroke-width="8" stroke-linecap="round" fill="none"/>
<path d="M1758.3 1551h0M1764.3 1564.2h0" stroke="#4384C6" stroke-width="8.8" stroke-linecap="round" fill="none"/>
<path d="M1736.3 1470.9h0" stroke="#4384C6" stroke-width="11.2" stroke-linecap="round" fill="none"/>
<path d="M1725.9 1464.3h0" stroke="#4384C6" stroke-width="12" stroke-linecap="round" fill="none"/>
<path d="M1721.8 1551.3L1738.2 1566.9" stroke="#777" stroke-width="0.9" fill="none" />
<path d="M1928.3 1433.3L1932.4 1429.8" stroke="#777" stroke-width="0.9" fill="none" />
<path d="M1922 1470.9L1927.7 1474.5" stroke="#777" stroke-width="0.9" fill="none" />
<path d="M1925 1486L1931.9 1488.7" stroke="#777" stroke-width="0.9" fill="none" />
<path d="M1977.7 1543L1985.1 1540.6" stroke="#777" stroke-width="0.9" fill="none" />
<path d="M1981.8 1589.7L1986.7 1587.7" stroke="#777" stroke-width="0.9" fill="none" />
<path d="M1974.9 1624L1979.6 1613.5" stroke="#777" stroke-width="0.9" fill="none" />
<path d="M1689.7 1585.6L1693.8 1585.6" stroke="#777" stroke-width="0.9" fill="none" />
<path d="M1722.6 1601.5L1725.4 1603.7" stroke="#777" stroke-width="0.9" fill="none" />
<text x="1952.4" y="1324.5" font-size="11.9" textLength="36.2" lengthAdjust="spacingAndGlyphs" fill="#E8584A" font-style="italic">MPZL1</text>
<text x="1953.5" y="1404.6" font-size="11.9" textLength="38.4" lengthAdjust="spacingAndGlyphs" fill="#E8584A" font-style="italic">NISCH</text>
<text x="1930.5" y="1428.7" font-size="11.9" textLength="21.1" lengthAdjust="spacingAndGlyphs" fill="#E8584A" font-style="italic">HK1</text>
<text x="1934.3" y="1449.8" font-size="11.9" textLength="37" lengthAdjust="spacingAndGlyphs" fill="#E8584A" font-style="italic">BUB1B</text>
<text x="1971.6" y="1465.4" font-size="11.9" textLength="37" lengthAdjust="spacingAndGlyphs" fill="#E8584A" font-style="italic">GMNN</text>
<text x="1892.6" y="1470.4" font-size="11.9" textLength="30.2" lengthAdjust="spacingAndGlyphs" fill="#E8584A" font-style="italic">PRCP</text>
<text x="1876.7" y="1489.6" font-size="11.9" textLength="46.6" lengthAdjust="spacingAndGlyphs" fill="#E8584A" font-style="italic">CDKN1B</text>
<text x="1974.9" y="1493.7" font-size="11.9" textLength="28" lengthAdjust="spacingAndGlyphs" fill="#E8584A" font-style="italic">ATF5</text>
<text x="1931.6" y="1530.7" font-size="11.9" textLength="48.8" lengthAdjust="spacingAndGlyphs" fill="#E8584A" font-style="italic">MAP3K4</text>
<text x="1986.4" y="1539.5" font-size="11.9" textLength="50.7" lengthAdjust="spacingAndGlyphs" fill="#E8584A" font-style="italic">PLA2G15</text>
<text x="1958.5" y="1572.4" font-size="11.9" textLength="41.1" lengthAdjust="spacingAndGlyphs" fill="#E8584A" font-style="italic">SOCS2</text>
<text x="1988.1" y="1588.3" font-size="11.9" textLength="25.8" lengthAdjust="spacingAndGlyphs" fill="#E8584A" font-style="italic">GLI2</text>
<text x="2040.7" y="1582.8" font-size="11.9" textLength="34.3" lengthAdjust="spacingAndGlyphs" fill="#E8584A" font-style="italic">TIAM1</text>
<text x="2055.8" y="1605.6" font-size="11.9" textLength="19.7" lengthAdjust="spacingAndGlyphs" fill="#E8584A" font-style="italic">MIF</text>
<text x="2044.3" y="1619.8" font-size="11.9" textLength="38.4" lengthAdjust="spacingAndGlyphs" fill="#E8584A" font-style="italic">FGFR2</text>
<text x="1943.4" y="1637.7" font-size="11.9" textLength="54" lengthAdjust="spacingAndGlyphs" fill="#E8584A" font-style="italic">PLA2G4A</text>
<text x="1713.6" y="1450.6" font-size="11.9" textLength="24.1" lengthAdjust="spacingAndGlyphs" fill="#4384C6" font-style="italic">GAA</text>
<text x="1696.6" y="1481.3" font-size="11.9" textLength="32.9" lengthAdjust="spacingAndGlyphs" fill="#4384C6" font-style="italic">RBM6</text>
<text x="1692.4" y="1545.8" font-size="11.9" textLength="35.7" lengthAdjust="spacingAndGlyphs" fill="#4384C6" font-style="italic">HPRT1</text>
<text x="1739.3" y="1543.6" font-size="11.9" textLength="40" lengthAdjust="spacingAndGlyphs" fill="#4384C6" font-style="italic">DIPK1A</text>
<text x="1689.2" y="1575.7" font-size="11.9" textLength="38.1" lengthAdjust="spacingAndGlyphs" fill="#4384C6" font-style="italic">NR2F6</text>
<text x="1749.2" y="1577.6" font-size="11.9" textLength="31.8" lengthAdjust="spacingAndGlyphs" fill="#4384C6" font-style="italic">BAG3</text>
<text x="1650.5" y="1587.5" font-size="11.9" textLength="37.3" lengthAdjust="spacingAndGlyphs" fill="#4384C6" font-style="italic">BAMBI</text>
<text x="1696.6" y="1600.6" font-size="11.9" textLength="28" lengthAdjust="spacingAndGlyphs" fill="#4384C6" font-style="italic">PTK2</text>
<text x="1639.5" y="1616.5" font-size="11.9" textLength="39.2" lengthAdjust="spacingAndGlyphs" fill="#4384C6" font-style="italic">CENPE</text>
<rect x="1579.3" y="1248.1" width="532.6" height="461.4" fill="none" stroke="#222" stroke-width="1.3"/>
<path d="M1579.3 1709.5L1579.3 1721" stroke="#222" stroke-width="1.2" fill="none" />
<text x="1579.3" y="1751.9" font-size="23.4" text-anchor="middle" textLength="25.7" lengthAdjust="spacingAndGlyphs">−2</text>
<path d="M1712.4 1709.5L1712.4 1721" stroke="#222" stroke-width="1.2" fill="none" />
<text x="1712.4" y="1751.9" font-size="23.4" text-anchor="middle" textLength="21.5" lengthAdjust="spacingAndGlyphs">−1</text>
<path d="M1845.6 1709.5L1845.6 1721" stroke="#222" stroke-width="1.2" fill="none" />
<text x="1845.6" y="1751.9" font-size="23.4" text-anchor="middle" textLength="12.9" lengthAdjust="spacingAndGlyphs">0</text>
<path d="M1978.8 1709.5L1978.8 1721" stroke="#222" stroke-width="1.2" fill="none" />
<text x="1978.8" y="1751.9" font-size="23.4" text-anchor="middle" textLength="8.8" lengthAdjust="spacingAndGlyphs">1</text>
<path d="M2111.9 1709.5L2111.9 1721" stroke="#222" stroke-width="1.2" fill="none" />
<text x="2111.9" y="1751.9" font-size="23.4" text-anchor="middle" textLength="12.9" lengthAdjust="spacingAndGlyphs">2</text>
<path d="M1567.8 1709.5L1579.3 1709.5" stroke="#222" stroke-width="1.2" fill="none" />
<text x="1554.6" y="1716.8" font-size="23.4" text-anchor="end" textLength="12.9" lengthAdjust="spacingAndGlyphs">0</text>
<path d="M1567.8 1609.2L1579.3 1609.2" stroke="#222" stroke-width="1.2" fill="none" />
<text x="1554.6" y="1616.5" font-size="23.4" text-anchor="end" textLength="12.9" lengthAdjust="spacingAndGlyphs">5</text>
<path d="M1567.8 1508.9L1579.3 1508.9" stroke="#222" stroke-width="1.2" fill="none" />
<text x="1554.6" y="1516.2" font-size="23.4" text-anchor="end" textLength="21.7" lengthAdjust="spacingAndGlyphs">10</text>
<path d="M1567.8 1408.6L1579.3 1408.6" stroke="#222" stroke-width="1.2" fill="none" />
<text x="1554.6" y="1415.9" font-size="23.4" text-anchor="end" textLength="21.7" lengthAdjust="spacingAndGlyphs">15</text>
<path d="M1567.8 1308.3L1579.3 1308.3" stroke="#222" stroke-width="1.2" fill="none" />
<text x="1554.6" y="1315.6" font-size="23.4" text-anchor="end" textLength="25.8" lengthAdjust="spacingAndGlyphs">20</text>
<text x="1740.8" y="1792.2" font-size="29" textLength="190.5" lengthAdjust="spacingAndGlyphs">log<tspan font-size="19.3" dy="7">2</tspan><tspan dy="-7">[NON/RES]</tspan></text>
<text transform="translate(1505.2 1566) rotate(-90)" font-size="29" textLength="173" lengthAdjust="spacingAndGlyphs">−log<tspan font-size="19.3" dy="7">2</tspan><tspan dy="-7">[</tspan><tspan font-style="italic">P</tspan> value]</text>
</svg></body></html>
